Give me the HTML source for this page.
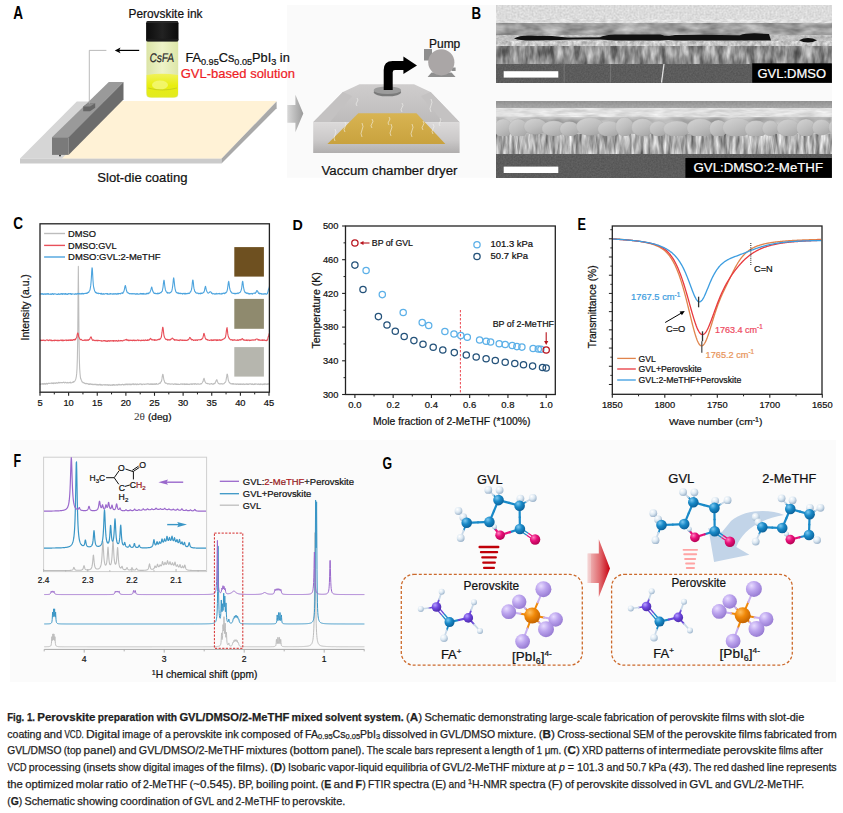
<!DOCTYPE html>
<html><head><meta charset="utf-8"><style>
html,body{margin:0;padding:0;background:#fff;}
svg{display:block;font-family:"Liberation Sans",sans-serif;}
</style></head><body>
<svg width="843" height="813" viewBox="0 0 843 813">

<defs>
 <linearGradient id="gArrowGray" x1="0" x2="1" y1="0" y2="0">
  <stop offset="0" stop-color="#d8d8d8"/><stop offset="1" stop-color="#9a9a9a"/></linearGradient>
 <linearGradient id="gRedArrow" x1="0" x2="1" y1="0" y2="0">
  <stop offset="0" stop-color="#f2c4c4"/><stop offset="0.55" stop-color="#e06a6e"/><stop offset="1" stop-color="#c80010"/></linearGradient>
 <linearGradient id="gChamberSide" x1="0" x2="0" y1="0" y2="1">
  <stop offset="0" stop-color="#d2d0d0"/><stop offset="1" stop-color="#b4b2b2"/></linearGradient>
 <linearGradient id="gChamberTop" x1="0" x2="0" y1="0" y2="1">
  <stop offset="0" stop-color="#cfcdcd"/><stop offset="1" stop-color="#bdbbbb"/></linearGradient>
 <linearGradient id="gChamberFront" x1="0" x2="0" y1="0" y2="1">
  <stop offset="0" stop-color="#dcdada"/><stop offset="0.6" stop-color="#cac8c8"/><stop offset="1" stop-color="#b0aeae"/></linearGradient>
 <linearGradient id="gGold" x1="0" x2="0" y1="0" y2="1">
  <stop offset="0" stop-color="#d8b452"/><stop offset="1" stop-color="#c9a23e"/></linearGradient>
 <linearGradient id="gVialTop" x1="0" x2="1" y1="0" y2="0">
  <stop offset="0" stop-color="#dbe4a6"/><stop offset="0.5" stop-color="#eef3c8"/><stop offset="1" stop-color="#dde6a8"/></linearGradient>
 <linearGradient id="gLiquid" x1="0" x2="0" y1="0" y2="1">
  <stop offset="0" stop-color="#f0f25a"/><stop offset="0.5" stop-color="#e8ee10"/><stop offset="1" stop-color="#e2ea20"/></linearGradient>
 <linearGradient id="gCap" x1="0" x2="1" y1="0" y2="0">
  <stop offset="0" stop-color="#0c0c0c"/><stop offset="0.5" stop-color="#222"/><stop offset="1" stop-color="#0a0a0a"/></linearGradient>
 <radialGradient id="gC" cx="0.35" cy="0.3" r="0.75"><stop offset="0" stop-color="#7cc8f0"/><stop offset="0.45" stop-color="#1a8ac8"/><stop offset="1" stop-color="#0a5e96"/></radialGradient>
 <radialGradient id="gO" cx="0.35" cy="0.3" r="0.75"><stop offset="0" stop-color="#ff80c0"/><stop offset="0.45" stop-color="#e8107a"/><stop offset="1" stop-color="#b00050"/></radialGradient>
 <radialGradient id="gH" cx="0.35" cy="0.3" r="0.75"><stop offset="0" stop-color="#ffffff"/><stop offset="0.5" stop-color="#dce8f2"/><stop offset="1" stop-color="#98b0c8"/></radialGradient>
 <radialGradient id="gN" cx="0.35" cy="0.3" r="0.75"><stop offset="0" stop-color="#b8a0ff"/><stop offset="0.45" stop-color="#7048e0"/><stop offset="1" stop-color="#4a28a8"/></radialGradient>
 <radialGradient id="gPb" cx="0.35" cy="0.3" r="0.75"><stop offset="0" stop-color="#ffc060"/><stop offset="0.45" stop-color="#f08808"/><stop offset="1" stop-color="#c06000"/></radialGradient>
 <radialGradient id="gI" cx="0.35" cy="0.3" r="0.75"><stop offset="0" stop-color="#e8dcff"/><stop offset="0.45" stop-color="#bca4ee"/><stop offset="1" stop-color="#9478d0"/></radialGradient>
 <filter id="fNoise" x="0" y="0" width="1" height="1">
  <feTurbulence type="fractalNoise" baseFrequency="0.35 0.12" numOctaves="2" seed="3" result="n"/>
  <feColorMatrix in="n" type="matrix" values="0 0 0 0 0.5  0 0 0 0 0.5  0 0 0 0 0.5  0 0 0 0.9 -0.2" result="m"/>
  <feComposite in="m" in2="SourceGraphic" operator="in"/>
 </filter>
 <filter id="fNoiseV" x="0" y="0" width="1" height="1">
  <feTurbulence type="fractalNoise" baseFrequency="0.45 0.08" numOctaves="2" seed="9" result="n"/>
  <feColorMatrix in="n" type="matrix" values="0 0 0 0 0  0 0 0 0 0  0 0 0 0 0  0 0 0 -1.6 1.0" result="m"/>
  <feComposite in="m" in2="SourceGraphic" operator="in"/>
 </filter>
</defs>

<rect width="843" height="813" fill="#fff"/>
<rect x="287.00" y="5.00" width="545.00" height="172.80" fill="#fafafa" /><text x="13.30" y="19.00" font-size="17.74" fill="#000" font-weight="bold" textLength="9.80" lengthAdjust="spacingAndGlyphs" >A</text><polygon points="20.00,158.50 221.50,158.50 276.60,101.50 76.80,101.50" fill="#d6d6d6" /><polygon points="20.00,158.50 221.50,158.50 221.50,163.40 20.00,163.40" fill="#cbcbcb" /><polygon points="221.50,158.50 276.60,101.50 276.60,108.30 221.50,163.40" fill="#a9a9a9" /><polygon points="62.00,158.50 221.50,158.50 276.60,101.10 120.00,101.10" fill="#fff2d6" /><polygon points="52.00,137.30 108.80,81.90 123.50,81.90 68.50,137.30" fill="#9a9a9a" /><polygon points="68.50,137.30 123.50,81.90 123.50,99.50 68.50,154.90" fill="#6c6c6c" /><rect x="52.00" y="137.30" width="16.50" height="17.60" fill="#7a7a7a" /><polygon points="83.20,106.50 88.50,103.20 95.20,103.20 95.20,107.80 90.00,111.20 83.20,111.20" fill="#666" /><polygon points="83.20,106.50 88.50,103.20 95.20,103.20 90.00,106.50" fill="#8a8a8a" /><circle cx="60.00" cy="155.60" r="0.90" fill="#222" /><polyline points="89.30,104.00 89.30,50.40 106.40,50.40" fill="none" stroke="#a8a8a8" stroke-width="0.8" stroke-linejoin="round" /><line x1="139.20" y1="50.40" x2="119.00" y2="50.40" stroke="#000" stroke-width="1.2" /><polygon points="114.80,50.40 120.50,47.60 119.20,50.40 120.50,53.20" fill="#000" /><rect x="146.4" y="40" width="31.8" height="57.5" rx="3" fill="url(#gVialTop)"/><path d="M146.6,75 Q162,72.5 178,75 L178,93 Q178,97.6 173,97.6 L151.6,97.6 Q146.6,97.6 146.6,93 Z" fill="url(#gLiquid)"/><ellipse cx="160" cy="85" rx="8" ry="4.5" fill="#f4f77a" opacity="0.8"/><path d="M148,88 Q162,92 177,88" stroke="#b8c020" stroke-width="0.6" fill="none"/><rect x="146.1" y="21.1" width="32.4" height="20.5" rx="2.2" fill="url(#gCap)"/><rect x="146.6" y="21.3" width="31.4" height="1.6" rx="0.8" fill="#2a2a2a"/><rect x="146.4" y="38.8" width="31.8" height="2.4" fill="#1c1c1c"/><text x="149.20" y="62.40" font-size="12.5" fill="#2a2a2a" stroke="#2a2a2a" stroke-width="0.22" textLength="24.50" lengthAdjust="spacingAndGlyphs" transform="skewX(-6) translate(6.5,0)">CsFA</text><text x="128.50" y="17.80" font-size="11.89" fill="#111" stroke="#111" stroke-width="0.22" textLength="74.00" lengthAdjust="spacingAndGlyphs" >Perovskite ink</text><text x="185.4" y="62.2" font-size="12.6" fill="#111" textLength="104.4" lengthAdjust="spacingAndGlyphs" stroke="#111" stroke-width="0.22">FA<tspan font-size="9" dy="2.6">0.95</tspan><tspan dy="-2.6">Cs</tspan><tspan font-size="9" dy="2.6">0.05</tspan><tspan dy="-2.6">PbI</tspan><tspan font-size="9" dy="2.6">3</tspan><tspan dy="-2.6"> in</tspan></text><text x="180.70" y="77.80" font-size="13.0" fill="#ee1c25" stroke="#ee1c25" stroke-width="0.22" textLength="114.30" lengthAdjust="spacingAndGlyphs" >GVL-based solution</text><text x="97.30" y="181.50" font-size="13.0" fill="#111" stroke="#111" stroke-width="0.22" textLength="90.20" lengthAdjust="spacingAndGlyphs" >Slot-die coating</text><polygon points="287.30,105.00 295.40,105.00 295.40,94.70 303.30,113.50 295.40,132.20 295.40,122.70 287.30,122.70" fill="url(#gArrowGray)" /><polygon points="313.20,122.20 342.90,91.90 359.50,84.30 414.00,84.30 430.60,91.90 459.60,122.20" fill="url(#gChamberTop)" /><polygon points="313.20,122.20 342.90,91.90 352.00,96.00 330.00,122.20" fill="#c4c2c2" /><polygon points="459.60,122.20 430.60,91.90 421.00,96.00 443.00,122.20" fill="#c4c2c2" /><rect x="313.20" y="122.20" width="146.40" height="30.80" fill="url(#gChamberFront)" /><polygon points="358.30,113.20 416.40,113.20 445.40,144.00 327.40,144.00" fill="url(#gGold)" /><path d="M335,141 q-2,-3.0 0,-6.0 q2,-3.0 0,-6.0" stroke="#f6f6f2" stroke-width="0.6" fill="none" opacity="0.95"/><path d="M345,132 q-2,-2.5 0,-5.0 q2,-2.5 0,-5.0" stroke="#f6f6f2" stroke-width="0.6" fill="none" opacity="0.95"/><path d="M362,137 q-2,-3.5 0,-7.0 q2,-3.5 0,-7.0" stroke="#f6f6f2" stroke-width="0.6" fill="none" opacity="0.95"/><path d="M372,128 q-2,-2.2 0,-4.5 q2,-2.2 0,-4.5" stroke="#f6f6f2" stroke-width="0.6" fill="none" opacity="0.95"/><path d="M389,125 q-2,-2.0 0,-4.0 q2,-2.0 0,-4.0" stroke="#f6f6f2" stroke-width="0.6" fill="none" opacity="0.95"/><path d="M391,136 q-2,-3.0 0,-6.0 q2,-3.0 0,-6.0" stroke="#f6f6f2" stroke-width="0.6" fill="none" opacity="0.95"/><path d="M402,112 q-2,-2.2 0,-4.5 q2,-2.2 0,-4.5" stroke="#f6f6f2" stroke-width="0.6" fill="none" opacity="0.95"/><path d="M412,137 q-2,-3.2 0,-6.5 q2,-3.2 0,-6.5" stroke="#f6f6f2" stroke-width="0.6" fill="none" opacity="0.95"/><path d="M423,130 q-2,-2.2 0,-4.5 q2,-2.2 0,-4.5" stroke="#f6f6f2" stroke-width="0.6" fill="none" opacity="0.95"/><path d="M431,112 q-2,-3.2 0,-6.5 q2,-3.2 0,-6.5" stroke="#f6f6f2" stroke-width="0.6" fill="none" opacity="0.95"/><path d="M433,134 q-2,-2.5 0,-5.0 q2,-2.5 0,-5.0" stroke="#f6f6f2" stroke-width="0.6" fill="none" opacity="0.95"/><path d="M440,126 q-2,-2.0 0,-4.0 q2,-2.0 0,-4.0" stroke="#f6f6f2" stroke-width="0.6" fill="none" opacity="0.95"/><path d="M357,106 q-2,-2.0 0,-4.0 q2,-2.0 0,-4.0" stroke="#f6f6f2" stroke-width="0.6" fill="none" opacity="0.95"/><ellipse cx="387.4" cy="92.3" rx="13.7" ry="4" fill="#7a7a7a"/><ellipse cx="387.4" cy="90.3" rx="13.7" ry="3.8" fill="#9c9c9c"/><path d="M383.7,90 L383.7,70 Q383.7,61 392.7,61 L403.4,61 L403.4,56.5 L417,65.5 L403.4,74 L403.4,70 L395,70 Q392.7,70 392.7,72.3 L392.7,90 Z" fill="#000"/><rect x="424.00" y="49.00" width="8.00" height="11.50" fill="#8e8e8e" /><polygon points="427.60,77.00 431.50,72.50 451.50,72.50 455.60,77.00" fill="#8e8e8e" /><rect x="451.50" y="67.50" width="4.10" height="3.50" fill="#8e8e8e" /><circle cx="441.30" cy="62.30" r="13.10" fill="#aaa6a6" /><text x="429.00" y="47.50" font-size="11.98" fill="#111" stroke="#111" stroke-width="0.22" textLength="31.30" lengthAdjust="spacingAndGlyphs" >Pump</text><text x="321.50" y="175.40" font-size="13.25" fill="#111" stroke="#111" stroke-width="0.22" textLength="136.00" lengthAdjust="spacingAndGlyphs" >Vaccum chamber dryer</text><text x="471.40" y="18.70" font-size="17.04" fill="#000" font-weight="bold" textLength="9.60" lengthAdjust="spacingAndGlyphs" >B</text><filter id="fl56" x="496" y="5.9" width="335.79999999999995" height="13.6" filterUnits="userSpaceOnUse" color-interpolation-filters="sRGB">
  <feTurbulence type="fractalNoise" baseFrequency="0.5 0.5" numOctaves="3" seed="4" result="n"/>
  <feColorMatrix in="n" type="matrix" values="0.180 0 0 0 0.770  0.180 0 0 0 0.770  0.180 0 0 0 0.770  0 0 0 0 1" result="g"/>
  <feGaussianBlur in="g" stdDeviation="0.4"/>
</filter><rect x="496" y="5.9" width="335.79999999999995" height="13.6" fill="#000" filter="url(#fl56)"/><filter id="fl58" x="496" y="19.5" width="335.79999999999995" height="3.5" filterUnits="userSpaceOnUse" color-interpolation-filters="sRGB">
  <feTurbulence type="fractalNoise" baseFrequency="0.15 0.4" numOctaves="3" seed="5" result="n"/>
  <feColorMatrix in="n" type="matrix" values="0.250 0 0 0 0.745  0.250 0 0 0 0.745  0.250 0 0 0 0.745  0 0 0 0 1" result="g"/>
  <feGaussianBlur in="g" stdDeviation="0.5"/>
</filter><rect x="496" y="19.5" width="335.79999999999995" height="3.5" fill="#000" filter="url(#fl58)"/><filter id="fl60" x="496" y="23" width="335.79999999999995" height="12" filterUnits="userSpaceOnUse" color-interpolation-filters="sRGB">
  <feTurbulence type="fractalNoise" baseFrequency="0.05 0.12" numOctaves="3" seed="6" result="n"/>
  <feColorMatrix in="n" type="matrix" values="0.550 0 0 0 0.345  0.550 0 0 0 0.345  0.550 0 0 0 0.345  0 0 0 0 1" result="g"/>
  <feGaussianBlur in="g" stdDeviation="0.7"/>
</filter><rect x="496" y="23" width="335.79999999999995" height="12" fill="#000" filter="url(#fl60)"/><filter id="fl62" x="496" y="35" width="335.79999999999995" height="6" filterUnits="userSpaceOnUse" color-interpolation-filters="sRGB">
  <feTurbulence type="fractalNoise" baseFrequency="0.2 0.3" numOctaves="3" seed="7" result="n"/>
  <feColorMatrix in="n" type="matrix" values="0.300 0 0 0 0.600  0.300 0 0 0 0.600  0.300 0 0 0 0.600  0 0 0 0 1" result="g"/>
  <feGaussianBlur in="g" stdDeviation="0.5"/>
</filter><rect x="496" y="35" width="335.79999999999995" height="6" fill="#000" filter="url(#fl62)"/><filter id="fl64" x="496" y="41" width="335.79999999999995" height="5" filterUnits="userSpaceOnUse" color-interpolation-filters="sRGB">
  <feTurbulence type="fractalNoise" baseFrequency="0.25 0.2" numOctaves="3" seed="17" result="n"/>
  <feColorMatrix in="n" type="matrix" values="0.450 0 0 0 0.555  0.450 0 0 0 0.555  0.450 0 0 0 0.555  0 0 0 0 1" result="g"/>
  <feGaussianBlur in="g" stdDeviation="0.5"/>
</filter><rect x="496" y="41" width="335.79999999999995" height="5" fill="#000" filter="url(#fl64)"/><filter id="fl66" x="496" y="46" width="335.79999999999995" height="18" filterUnits="userSpaceOnUse" color-interpolation-filters="sRGB">
  <feTurbulence type="fractalNoise" baseFrequency="0.16 0.05" numOctaves="3" seed="8" result="n"/>
  <feColorMatrix in="n" type="matrix" values="0.800 0 0 0 0.150  0.800 0 0 0 0.150  0.800 0 0 0 0.150  0 0 0 0 1" result="g"/>
  <feGaussianBlur in="g" stdDeviation="0.5"/>
</filter><rect x="496" y="46" width="335.79999999999995" height="18" fill="#000" filter="url(#fl66)"/><filter id="fl68" x="496" y="64" width="335.79999999999995" height="18.700000000000003" filterUnits="userSpaceOnUse" color-interpolation-filters="sRGB">
  <feTurbulence type="fractalNoise" baseFrequency="0.6 0.6" numOctaves="3" seed="9" result="n"/>
  <feColorMatrix in="n" type="matrix" values="0.100 0 0 0 0.310  0.100 0 0 0 0.310  0.100 0 0 0 0.310  0 0 0 0 1" result="g"/>
  <feGaussianBlur in="g" stdDeviation="0.5"/>
</filter><rect x="496" y="64" width="335.79999999999995" height="18.700000000000003" fill="#000" filter="url(#fl68)"/><path d="M514,38.5 Q520,35.2 530,35.6 L552,36 Q560,37.4 575,37.6 L600,37.2 Q606,35 615,34.6 L660,34.4 Q668,36.5 675,35 L700,34.8 L740,35.2 Q745,33.2 755,33.3 L769,34 L771,40.5 L740,40.6 L700,40.5 L676,40.4 Q668,39.6 660,40.5 L615,40.6 L600,39.6 L575,39.4 L552,40.2 L530,40.6 Q520,40.6 514,38.5 Z" fill="#111"/><path d="M799,40.2 Q803,38 808.0,38 Q813,38 817,40.2 Q813,42.5 808.0,42.5 Q803,42.5 799,40.2 Z" fill="#101010"/><line x1="564.20" y1="64.00" x2="564.20" y2="82.70" stroke="#7a7a7a" stroke-width="0.8" /><line x1="610.70" y1="64.00" x2="610.40" y2="82.70" stroke="#7a7a7a" stroke-width="0.8" /><line x1="664.00" y1="64.00" x2="661.50" y2="82.70" stroke="#e0e0e0" stroke-width="1.3" /><rect x="503.70" y="71.20" width="54.60" height="6.40" fill="#ffffff" /><rect x="752.20" y="63.30" width="79.60" height="19.40" fill="#000" /><text x="757.50" y="77.70" font-size="12.98" fill="#fff" stroke="#fff" stroke-width="0.22" textLength="68.50" lengthAdjust="spacingAndGlyphs" >GVL:DMSO</text><filter id="fl78" x="496" y="101" width="335.79999999999995" height="7.5" filterUnits="userSpaceOnUse" color-interpolation-filters="sRGB">
  <feTurbulence type="fractalNoise" baseFrequency="0.5 0.5" numOctaves="3" seed="11" result="n"/>
  <feColorMatrix in="n" type="matrix" values="0.150 0 0 0 0.525  0.150 0 0 0 0.525  0.150 0 0 0 0.525  0 0 0 0 1" result="g"/>
  <feGaussianBlur in="g" stdDeviation="0.4"/>
</filter><rect x="496" y="101" width="335.79999999999995" height="7.5" fill="#000" filter="url(#fl78)"/><linearGradient id="gsb1" x1="0" x2="0" y1="0" y2="1"><stop offset="0" stop-color="#888" stop-opacity="0.5"/><stop offset="1" stop-color="#bbb" stop-opacity="0.5"/></linearGradient><rect x="496.00" y="101.00" width="335.80" height="7.50" fill="url(#gsb1)" /><filter id="fl82" x="496" y="108.5" width="335.79999999999995" height="9.0" filterUnits="userSpaceOnUse" color-interpolation-filters="sRGB">
  <feTurbulence type="fractalNoise" baseFrequency="0.06 0.3" numOctaves="3" seed="12" result="n"/>
  <feColorMatrix in="n" type="matrix" values="0.250 0 0 0 0.745  0.250 0 0 0 0.745  0.250 0 0 0 0.745  0 0 0 0 1" result="g"/>
  <feGaussianBlur in="g" stdDeviation="0.6"/>
</filter><rect x="496" y="108.5" width="335.79999999999995" height="9.0" fill="#000" filter="url(#fl82)"/><filter id="fl84" x="496" y="117.5" width="335.79999999999995" height="17.0" filterUnits="userSpaceOnUse" color-interpolation-filters="sRGB">
  <feTurbulence type="fractalNoise" baseFrequency="0.04 0.1" numOctaves="3" seed="13" result="n"/>
  <feColorMatrix in="n" type="matrix" values="0.450 0 0 0 0.475  0.450 0 0 0 0.475  0.450 0 0 0 0.475  0 0 0 0 1" result="g"/>
  <feGaussianBlur in="g" stdDeviation="0.8"/>
</filter><rect x="496" y="117.5" width="335.79999999999995" height="17.0" fill="#000" filter="url(#fl84)"/><filter id="fl86" x="496" y="134.5" width="335.79999999999995" height="20.0" filterUnits="userSpaceOnUse" color-interpolation-filters="sRGB">
  <feTurbulence type="fractalNoise" baseFrequency="0.25 0.04" numOctaves="3" seed="14" result="n"/>
  <feColorMatrix in="n" type="matrix" values="0.900 0 0 0 0.230  0.900 0 0 0 0.230  0.900 0 0 0 0.230  0 0 0 0 1" result="g"/>
  <feGaussianBlur in="g" stdDeviation="0.45"/>
</filter><rect x="496" y="134.5" width="335.79999999999995" height="20.0" fill="#000" filter="url(#fl86)"/><filter id="fl88" x="496" y="154.5" width="335.79999999999995" height="23.30000000000001" filterUnits="userSpaceOnUse" color-interpolation-filters="sRGB">
  <feTurbulence type="fractalNoise" baseFrequency="0.6 0.6" numOctaves="3" seed="15" result="n"/>
  <feColorMatrix in="n" type="matrix" values="0.100 0 0 0 0.310  0.100 0 0 0 0.310  0.100 0 0 0 0.310  0 0 0 0 1" result="g"/>
  <feGaussianBlur in="g" stdDeviation="0.5"/>
</filter><rect x="496" y="154.5" width="335.79999999999995" height="23.30000000000001" fill="#000" filter="url(#fl88)"/><linearGradient id="gGrain" x1="0.2" x2="0.8" y1="0" y2="1"><stop offset="0" stop-color="#d2d2d2"/><stop offset="0.55" stop-color="#bdbdbd"/><stop offset="1" stop-color="#a4a4a4"/></linearGradient><clipPath id="cpG"><rect x="496" y="112" width="335.8" height="24"/></clipPath><g clip-path="url(#cpG)"><ellipse cx="503.2" cy="128.1" rx="9.2" ry="9.2" fill="url(#gGrain)" stroke="#909090" stroke-width="0.4" stroke-opacity="0.35"/><ellipse cx="518.1" cy="128.5" rx="9.5" ry="9.5" fill="url(#gGrain)" stroke="#909090" stroke-width="0.4" stroke-opacity="0.35"/><ellipse cx="535.4" cy="126.5" rx="11.5" ry="8.1" fill="url(#gGrain)" stroke="#909090" stroke-width="0.4" stroke-opacity="0.35"/><ellipse cx="553.8" cy="128.5" rx="12.1" ry="7.7" fill="url(#gGrain)" stroke="#909090" stroke-width="0.4" stroke-opacity="0.35"/><ellipse cx="569.4" cy="129.0" rx="9.6" ry="7.6" fill="url(#gGrain)" stroke="#909090" stroke-width="0.4" stroke-opacity="0.35"/><ellipse cx="590.2" cy="126.6" rx="14.1" ry="9.0" fill="url(#gGrain)" stroke="#909090" stroke-width="0.4" stroke-opacity="0.35"/><ellipse cx="609.2" cy="128.9" rx="11.5" ry="7.8" fill="url(#gGrain)" stroke="#909090" stroke-width="0.4" stroke-opacity="0.35"/><ellipse cx="624.6" cy="126.8" rx="9.1" ry="9.5" fill="url(#gGrain)" stroke="#909090" stroke-width="0.4" stroke-opacity="0.35"/><ellipse cx="642.7" cy="127.4" rx="11.2" ry="8.9" fill="url(#gGrain)" stroke="#909090" stroke-width="0.4" stroke-opacity="0.35"/><ellipse cx="658.7" cy="128.7" rx="9.3" ry="7.6" fill="url(#gGrain)" stroke="#909090" stroke-width="0.4" stroke-opacity="0.35"/><ellipse cx="676.8" cy="128.9" rx="13.5" ry="8.0" fill="url(#gGrain)" stroke="#909090" stroke-width="0.4" stroke-opacity="0.35"/><ellipse cx="700.2" cy="128.0" rx="13.3" ry="9.4" fill="url(#gGrain)" stroke="#909090" stroke-width="0.4" stroke-opacity="0.35"/><ellipse cx="718.3" cy="128.6" rx="8.9" ry="8.7" fill="url(#gGrain)" stroke="#909090" stroke-width="0.4" stroke-opacity="0.35"/><ellipse cx="737.0" cy="127.5" rx="14.5" ry="9.7" fill="url(#gGrain)" stroke="#909090" stroke-width="0.4" stroke-opacity="0.35"/><ellipse cx="756.1" cy="129.0" rx="11.2" ry="8.5" fill="url(#gGrain)" stroke="#909090" stroke-width="0.4" stroke-opacity="0.35"/><ellipse cx="770.4" cy="128.3" rx="8.2" ry="7.7" fill="url(#gGrain)" stroke="#909090" stroke-width="0.4" stroke-opacity="0.35"/><ellipse cx="788.4" cy="127.9" rx="11.5" ry="8.7" fill="url(#gGrain)" stroke="#909090" stroke-width="0.4" stroke-opacity="0.35"/><ellipse cx="806.0" cy="127.9" rx="9.6" ry="9.0" fill="url(#gGrain)" stroke="#909090" stroke-width="0.4" stroke-opacity="0.35"/><ellipse cx="821.5" cy="127.4" rx="9.3" ry="7.9" fill="url(#gGrain)" stroke="#909090" stroke-width="0.4" stroke-opacity="0.35"/><ellipse cx="839.0" cy="127.3" rx="10.4" ry="9.0" fill="url(#gGrain)" stroke="#909090" stroke-width="0.4" stroke-opacity="0.35"/></g><filter id="fl113" x="496" y="108.5" width="335.79999999999995" height="6.0" filterUnits="userSpaceOnUse" color-interpolation-filters="sRGB">
  <feTurbulence type="fractalNoise" baseFrequency="0.06 0.3" numOctaves="3" seed="12" result="n"/>
  <feColorMatrix in="n" type="matrix" values="0.220 0 0 0 0.770  0.220 0 0 0 0.770  0.220 0 0 0 0.770  0 0 0 0 1" result="g"/>
  <feGaussianBlur in="g" stdDeviation="0.6"/>
</filter><rect x="496" y="108.5" width="335.79999999999995" height="6.0" fill="#000" filter="url(#fl113)"/><rect x="503.70" y="166.60" width="54.60" height="6.40" fill="#ffffff" /><rect x="685.40" y="158.00" width="146.40" height="19.80" fill="#000" /><text x="693.50" y="171.60" font-size="13.24" fill="#fff" stroke="#fff" stroke-width="0.22" textLength="129.50" lengthAdjust="spacingAndGlyphs" >GVL:DMSO:2-MeTHF</text><text x="13.30" y="229.40" font-size="16.20" fill="#000" font-weight="bold" textLength="9.80" lengthAdjust="spacingAndGlyphs" >C</text><polyline points="40.00,383.73 40.33,384.37 40.67,384.28 41.00,383.81 41.33,384.02 41.67,383.96 42.00,384.13 42.33,384.24 42.67,383.61 43.00,383.53 43.33,384.24 43.67,383.87 44.00,384.15 44.33,383.44 44.67,383.83 45.00,384.06 45.33,383.59 45.67,384.22 46.00,384.16 46.34,383.35 46.67,383.33 47.00,383.77 47.34,384.10 47.67,383.58 48.00,383.40 48.34,383.56 48.67,383.18 49.00,383.33 49.34,383.49 49.67,383.52 50.00,383.25 50.34,383.22 50.67,383.18 51.00,383.37 51.34,383.19 51.67,382.91 52.00,383.62 52.34,383.33 52.67,383.38 53.00,382.94 53.34,383.63 53.67,383.48 54.00,382.79 54.34,382.95 54.67,383.26 55.00,383.23 55.34,383.40 55.67,382.91 56.00,383.24 56.34,383.07 56.67,382.71 57.00,382.94 57.34,383.18 57.67,383.12 58.01,382.79 58.34,382.85 58.67,382.32 59.01,382.49 59.34,382.97 59.67,382.61 60.01,382.37 60.34,382.69 60.67,382.82 61.01,382.78 61.34,382.50 61.67,382.54 62.01,382.60 62.34,382.83 62.67,382.59 63.01,382.47 63.34,382.55 63.67,382.14 64.01,382.15 64.34,382.74 64.67,382.99 65.01,382.64 65.34,382.46 65.67,382.26 66.01,382.57 66.34,383.00 66.67,382.82 67.01,382.61 67.34,382.91 67.67,382.35 68.01,382.60 68.34,383.00 68.67,382.67 69.01,382.56 69.34,382.39 69.68,382.63 70.01,383.00 70.34,382.13 70.68,382.82 71.01,382.83 71.34,382.86 71.68,382.70 72.01,382.72 72.34,382.40 72.68,382.36 73.01,382.15 73.34,381.70 73.68,382.29 74.01,381.83 74.34,381.25 74.68,381.20 75.01,380.75 75.34,380.05 75.68,379.22 76.01,378.20 76.34,376.49 76.68,373.63 77.01,368.62 77.34,359.12 77.68,340.60 78.01,302.53 78.34,266.42 78.68,299.38 79.01,339.07 79.34,358.95 79.68,368.63 80.01,373.28 80.35,376.82 80.68,378.57 81.01,379.31 81.35,380.15 81.68,380.80 82.01,381.96 82.35,381.88 82.68,382.06 83.01,382.77 83.35,382.71 83.68,382.63 84.01,382.86 84.35,383.31 84.68,383.09 85.01,383.27 85.35,383.75 85.68,383.59 86.01,383.54 86.35,383.73 86.68,383.38 87.01,383.76 87.35,383.83 87.68,383.66 88.01,383.63 88.35,384.38 88.68,384.06 89.01,383.82 89.35,384.21 89.68,384.43 90.01,383.74 90.35,383.76 90.68,383.91 91.01,384.45 91.35,383.97 91.68,384.48 92.02,384.48 92.35,384.38 92.68,384.11 93.02,384.81 93.35,384.67 93.68,384.44 94.02,384.19 94.35,384.59 94.68,384.39 95.02,384.57 95.35,384.36 95.68,384.65 96.02,384.16 96.35,384.39 96.68,385.01 97.02,384.94 97.35,384.45 97.68,384.96 98.02,384.49 98.35,385.07 98.68,384.91 99.02,384.63 99.35,384.50 99.68,384.29 100.02,385.09 100.35,384.35 100.68,385.06 101.02,385.21 101.35,384.87 101.68,384.52 102.02,385.16 102.35,385.27 102.68,385.03 103.02,384.87 103.35,384.76 103.69,384.74 104.02,384.63 104.35,385.06 104.69,384.85 105.02,384.64 105.35,384.57 105.69,385.08 106.02,384.75 106.35,384.94 106.69,384.79 107.02,385.28 107.35,385.31 107.69,384.52 108.02,384.69 108.35,384.81 108.69,385.40 109.02,385.22 109.35,384.82 109.69,384.70 110.02,385.12 110.35,385.26 110.69,385.34 111.02,384.81 111.35,385.29 111.69,385.11 112.02,384.92 112.35,385.37 112.69,384.69 113.02,385.12 113.35,384.54 113.69,384.61 114.02,385.27 114.35,384.63 114.69,385.11 115.02,384.96 115.36,385.17 115.69,384.73 116.02,384.70 116.36,384.64 116.69,385.15 117.02,384.90 117.36,385.20 117.69,385.13 118.02,384.44 118.36,384.80 118.69,384.39 119.02,384.32 119.36,384.34 119.69,385.04 120.02,384.95 120.36,384.98 120.69,384.52 121.02,384.76 121.36,384.89 121.69,384.52 122.02,384.68 122.36,384.35 122.69,384.21 123.02,384.37 123.36,384.91 123.69,384.61 124.02,384.92 124.36,384.49 124.69,384.31 125.02,384.76 125.36,384.78 125.69,384.04 126.02,384.62 126.36,384.09 126.69,384.10 127.03,384.78 127.36,384.01 127.69,384.18 128.03,384.84 128.36,384.32 128.69,384.04 129.03,384.08 129.36,384.13 129.69,384.58 130.03,383.99 130.36,384.71 130.69,384.22 131.03,384.75 131.36,384.69 131.69,384.13 132.03,384.08 132.36,384.28 132.69,383.93 133.03,384.42 133.36,383.86 133.69,383.83 134.03,384.70 134.36,384.08 134.69,384.34 135.03,384.21 135.36,384.08 135.69,383.85 136.03,384.61 136.36,384.66 136.69,384.65 137.03,383.88 137.36,383.97 137.70,384.33 138.03,384.65 138.36,384.25 138.70,384.38 139.03,384.35 139.36,383.99 139.70,384.24 140.03,384.03 140.36,383.97 140.70,383.82 141.03,384.00 141.36,384.63 141.70,384.14 142.03,384.32 142.36,384.31 142.70,384.58 143.03,384.08 143.36,384.01 143.70,384.02 144.03,384.01 144.36,384.49 144.70,384.53 145.03,383.99 145.36,384.02 145.70,384.21 146.03,384.24 146.36,384.25 146.70,383.93 147.03,383.73 147.36,383.93 147.70,383.77 148.03,384.20 148.36,383.77 148.70,383.77 149.03,384.27 149.37,383.96 149.70,384.41 150.03,384.13 150.37,384.46 150.70,383.82 151.03,384.13 151.37,384.39 151.70,383.74 152.03,384.52 152.37,383.82 152.70,384.36 153.03,384.54 153.37,384.38 153.70,383.93 154.03,383.73 154.37,384.08 154.70,384.44 155.03,383.86 155.37,384.39 155.70,383.70 156.03,384.37 156.37,383.56 156.70,383.80 157.03,384.30 157.37,384.18 157.70,384.23 158.03,384.13 158.37,383.99 158.70,383.87 159.03,383.33 159.37,383.44 159.70,383.05 160.03,383.37 160.37,383.06 160.70,382.32 161.04,381.61 161.37,381.62 161.70,380.25 162.04,378.17 162.37,375.80 162.70,374.32 163.04,374.48 163.37,376.66 163.70,378.81 164.04,380.32 164.37,381.14 164.70,382.38 165.04,382.63 165.37,383.09 165.70,382.86 166.04,383.29 166.37,383.23 166.70,383.31 167.04,383.51 167.37,384.09 167.70,383.75 168.04,383.79 168.37,384.02 168.70,383.71 169.04,383.53 169.37,384.02 169.70,384.01 170.04,384.16 170.37,383.98 170.70,384.22 171.04,384.27 171.37,383.84 171.70,384.07 172.04,384.07 172.37,383.85 172.71,384.02 173.04,384.16 173.37,384.48 173.71,384.49 174.04,383.92 174.37,384.25 174.71,383.72 175.04,383.74 175.37,384.14 175.71,384.47 176.04,383.83 176.37,384.38 176.71,384.48 177.04,383.97 177.37,384.32 177.71,384.46 178.04,384.03 178.37,384.33 178.71,384.36 179.04,384.24 179.37,384.47 179.71,384.51 180.04,384.57 180.37,384.22 180.71,383.86 181.04,383.93 181.37,383.90 181.71,384.22 182.04,384.39 182.37,383.75 182.71,384.32 183.04,384.35 183.37,384.02 183.71,384.17 184.04,383.86 184.38,384.36 184.71,383.74 185.04,384.59 185.38,384.43 185.71,384.27 186.04,383.95 186.38,384.53 186.71,384.57 187.04,383.83 187.38,384.40 187.71,384.46 188.04,384.30 188.38,384.33 188.71,384.10 189.04,384.53 189.38,384.58 189.71,384.04 190.04,384.42 190.38,384.09 190.71,383.84 191.04,383.99 191.38,383.81 191.71,384.51 192.04,384.55 192.38,383.79 192.71,384.23 193.04,384.05 193.38,383.79 193.71,383.94 194.04,383.90 194.38,384.34 194.71,383.67 195.05,383.83 195.38,384.05 195.71,383.67 196.05,384.21 196.38,384.18 196.71,384.38 197.05,383.81 197.38,383.87 197.71,384.08 198.05,383.83 198.38,384.09 198.71,383.77 199.05,384.14 199.38,384.21 199.71,384.19 200.05,384.29 200.38,383.85 200.71,383.73 201.05,383.96 201.38,383.76 201.71,383.41 202.05,382.99 202.38,382.54 202.71,381.83 203.05,381.62 203.38,379.78 203.71,378.98 204.05,378.20 204.38,379.37 204.71,380.57 205.05,381.92 205.38,381.95 205.71,382.79 206.05,383.19 206.38,383.18 206.72,383.52 207.05,383.50 207.38,383.74 207.72,383.33 208.05,383.77 208.38,383.82 208.72,383.72 209.05,383.82 209.38,384.18 209.72,384.11 210.05,383.94 210.38,384.08 210.72,383.84 211.05,383.68 211.38,383.49 211.72,383.73 212.05,384.00 212.38,384.24 212.72,384.16 213.05,383.83 213.38,384.21 213.72,383.67 214.05,383.91 214.38,383.39 214.72,383.50 215.05,383.44 215.38,382.39 215.72,381.61 216.05,381.09 216.38,380.08 216.72,379.71 217.05,380.13 217.38,381.46 217.72,382.25 218.05,382.74 218.39,383.48 218.72,383.44 219.05,383.72 219.39,383.97 219.72,383.90 220.05,383.72 220.39,383.98 220.72,383.90 221.05,383.91 221.39,383.89 221.72,383.68 222.05,383.86 222.39,383.84 222.72,384.07 223.05,383.87 223.39,383.86 223.72,383.69 224.05,383.60 224.39,383.24 224.72,382.76 225.05,382.35 225.39,382.24 225.72,381.65 226.05,380.20 226.39,378.12 226.72,376.42 227.05,374.12 227.39,374.21 227.72,375.91 228.05,378.62 228.39,380.51 228.72,381.33 229.05,382.00 229.39,382.76 229.72,382.53 230.06,383.21 230.39,383.78 230.72,383.69 231.06,383.53 231.39,383.87 231.72,383.86 232.06,383.56 232.39,383.60 232.72,384.25 233.06,383.72 233.39,383.57 233.72,384.28 234.06,384.02 234.39,383.90 234.72,384.04 235.06,384.26 235.39,383.76 235.72,384.20 236.06,384.27 236.39,384.37 236.72,383.88 237.06,384.19 237.39,383.86 237.72,384.16 238.06,383.82 238.39,384.38 238.72,384.45 239.06,383.97 239.39,383.88 239.72,384.55 240.06,384.32 240.39,384.45 240.72,383.72 241.06,384.50 241.39,384.26 241.73,383.98 242.06,384.09 242.39,384.39 242.73,384.41 243.06,383.88 243.39,384.27 243.73,383.86 244.06,384.59 244.39,384.11 244.73,384.53 245.06,384.37 245.39,384.26 245.73,383.95 246.06,384.19 246.39,383.84 246.73,383.84 247.06,384.36 247.39,384.05 247.73,384.40 248.06,383.94 248.39,384.37 248.73,384.37 249.06,384.00 249.39,383.82 249.73,384.08 250.06,384.17 250.39,383.82 250.73,383.89 251.06,383.78 251.39,384.27 251.73,384.53 252.06,383.92 252.40,383.76 252.73,384.36 253.06,384.46 253.40,384.60 253.73,384.28 254.06,384.04 254.40,384.49 254.73,383.84 255.06,384.36 255.40,383.82 255.73,384.09 256.06,384.18 256.40,384.07 256.73,383.89 257.06,383.94 257.40,384.47 257.73,384.15 258.06,384.26 258.40,383.93 258.73,384.38 259.06,384.03 259.40,384.27 259.73,384.55 260.06,384.63 260.40,383.78 260.73,384.45 261.06,384.51 261.40,384.03 261.73,384.08 262.06,384.26 262.40,384.56 262.73,384.10 263.06,384.53 263.40,384.42 263.73,383.88 264.07,384.56 264.40,383.75 264.73,383.87 265.07,384.34 265.40,383.79 265.73,384.08 266.07,383.86 266.40,384.16 266.73,384.50 267.07,384.56 267.40,383.77 267.73,383.80 268.07,384.50 268.40,383.78 268.73,383.99 269.07,383.85 269.40,383.82" fill="none" stroke="#bdbdbd" stroke-width="1.1" stroke-linejoin="round" /><polyline points="40.00,340.70 40.33,340.70 40.67,339.89 41.00,339.92 41.33,340.59 41.67,340.50 42.00,340.44 42.33,340.12 42.67,340.39 43.00,340.39 43.33,340.36 43.67,339.98 44.00,340.23 44.33,340.20 44.67,340.49 45.00,340.74 45.33,340.70 45.67,340.33 46.00,340.24 46.34,340.08 46.67,339.87 47.00,339.86 47.34,340.26 47.67,340.13 48.00,340.18 48.34,340.64 48.67,340.31 49.00,340.34 49.34,340.05 49.67,339.86 50.00,340.13 50.34,339.96 50.67,340.30 51.00,340.74 51.34,340.44 51.67,340.00 52.00,340.64 52.34,340.55 52.67,340.50 53.00,340.65 53.34,340.52 53.67,340.55 54.00,340.15 54.34,340.72 54.67,340.70 55.00,339.98 55.34,340.51 55.67,340.48 56.00,340.25 56.34,340.31 56.67,340.27 57.00,340.66 57.34,340.28 57.67,340.58 58.01,340.15 58.34,340.62 58.67,340.64 59.01,340.24 59.34,340.34 59.67,340.65 60.01,340.48 60.34,340.26 60.67,340.02 61.01,340.11 61.34,340.45 61.67,339.97 62.01,340.64 62.34,340.06 62.67,340.64 63.01,340.09 63.34,340.68 63.67,340.45 64.01,340.26 64.34,340.28 64.67,340.39 65.01,340.33 65.34,340.08 65.67,339.99 66.01,340.26 66.34,340.64 66.67,340.35 67.01,339.86 67.34,340.52 67.67,340.44 68.01,340.60 68.34,339.95 68.67,340.44 69.01,339.82 69.34,340.34 69.68,339.99 70.01,339.95 70.34,340.52 70.68,339.82 71.01,340.18 71.34,340.46 71.68,339.90 72.01,339.85 72.34,340.43 72.68,339.99 73.01,340.22 73.34,339.57 73.68,339.81 74.01,339.58 74.34,339.95 74.68,339.32 75.01,339.96 75.34,338.94 75.68,339.30 76.01,338.27 76.34,337.90 76.68,337.50 77.01,335.56 77.34,333.85 77.68,332.98 78.01,333.04 78.34,334.36 78.68,336.86 79.01,337.28 79.34,337.95 79.68,338.73 80.01,339.32 80.35,339.67 80.68,339.28 81.01,339.61 81.35,339.43 81.68,339.88 82.01,340.22 82.35,340.25 82.68,340.43 83.01,340.33 83.35,340.45 83.68,340.33 84.01,340.14 84.35,339.93 84.68,340.34 85.01,340.04 85.35,339.85 85.68,340.17 86.01,340.55 86.35,339.88 86.68,340.28 87.01,340.10 87.35,340.19 87.68,339.83 88.01,340.52 88.35,339.83 88.68,340.06 89.01,339.76 89.35,339.20 89.68,339.38 90.01,338.53 90.35,337.78 90.68,337.04 91.01,336.91 91.35,337.37 91.68,338.63 92.02,339.14 92.35,339.99 92.68,340.23 93.02,340.47 93.35,339.92 93.68,340.21 94.02,340.11 94.35,340.48 94.68,340.56 95.02,340.75 95.35,340.71 95.68,340.33 96.02,340.51 96.35,340.62 96.68,340.18 97.02,340.23 97.35,340.58 97.68,340.33 98.02,340.90 98.35,340.48 98.68,340.37 99.02,340.46 99.35,340.52 99.68,340.52 100.02,340.81 100.35,340.77 100.68,340.64 101.02,340.95 101.35,340.58 101.68,341.22 102.02,341.28 102.35,341.08 102.68,340.82 103.02,340.90 103.35,340.97 103.69,340.50 104.02,340.84 104.35,340.95 104.69,340.64 105.02,340.57 105.35,341.22 105.69,340.83 106.02,340.97 106.35,341.34 106.69,341.06 107.02,340.78 107.35,341.40 107.69,340.86 108.02,340.54 108.35,341.14 108.69,340.62 109.02,340.80 109.35,341.28 109.69,341.13 110.02,340.54 110.35,340.93 110.69,340.89 111.02,340.95 111.35,340.70 111.69,341.03 112.02,340.57 112.35,340.75 112.69,340.82 113.02,341.32 113.35,340.54 113.69,341.15 114.02,340.63 114.35,340.97 114.69,340.80 115.02,340.85 115.36,341.10 115.69,340.77 116.02,340.52 116.36,340.50 116.69,340.46 117.02,341.14 117.36,340.94 117.69,341.21 118.02,340.96 118.36,340.35 118.69,340.91 119.02,341.00 119.36,340.94 119.69,340.72 120.02,340.58 120.36,340.65 120.69,340.95 121.02,340.45 121.36,340.67 121.69,340.60 122.02,341.01 122.36,340.85 122.69,340.94 123.02,340.82 123.36,340.30 123.69,340.19 124.02,340.35 124.36,340.05 124.69,340.06 125.02,340.08 125.36,340.02 125.69,339.47 126.02,339.65 126.36,339.22 126.69,339.72 127.03,340.49 127.36,339.85 127.69,340.17 128.03,339.90 128.36,339.95 128.69,340.70 129.03,340.80 129.36,340.50 129.69,340.04 130.03,340.19 130.36,340.13 130.69,340.53 131.03,340.53 131.36,340.31 131.69,340.39 132.03,340.01 132.36,340.39 132.69,340.76 133.03,340.58 133.36,339.98 133.69,340.36 134.03,340.53 134.36,340.12 134.69,340.69 135.03,340.29 135.36,340.51 135.69,340.23 136.03,340.76 136.36,340.57 136.69,340.38 137.03,339.99 137.36,340.25 137.70,339.88 138.03,340.38 138.36,340.64 138.70,340.00 139.03,340.30 139.36,340.27 139.70,340.20 140.03,340.47 140.36,340.67 140.70,340.46 141.03,340.24 141.36,340.68 141.70,340.11 142.03,340.48 142.36,340.40 142.70,340.49 143.03,340.57 143.36,340.00 143.70,340.35 144.03,340.15 144.36,340.38 144.70,340.65 145.03,340.34 145.36,339.77 145.70,340.17 146.03,340.38 146.36,340.52 146.70,340.30 147.03,340.43 147.36,339.68 147.70,340.49 148.03,340.25 148.36,340.08 148.70,340.27 149.03,340.13 149.37,339.23 149.70,339.60 150.03,339.18 150.37,338.38 150.70,338.91 151.03,339.10 151.37,339.09 151.70,339.89 152.03,339.45 152.37,339.98 152.70,339.88 153.03,339.77 153.37,340.07 153.70,340.00 154.03,339.78 154.37,340.47 154.70,339.66 155.03,339.59 155.37,340.02 155.70,340.32 156.03,340.15 156.37,340.21 156.70,339.94 157.03,340.08 157.37,339.74 157.70,339.63 158.03,339.79 158.37,339.29 158.70,339.25 159.03,339.75 159.37,339.09 159.70,339.43 160.03,339.21 160.37,338.54 160.70,338.31 161.04,337.72 161.37,336.76 161.70,334.52 162.04,332.19 162.37,329.36 162.70,327.18 163.04,327.69 163.37,330.28 163.70,333.60 164.04,335.99 164.37,336.77 164.70,337.80 165.04,338.24 165.37,338.70 165.70,339.38 166.04,339.08 166.37,339.55 166.70,339.52 167.04,339.66 167.37,340.07 167.70,339.37 168.04,340.08 168.37,339.64 168.70,339.96 169.04,340.10 169.37,339.96 169.70,339.70 170.04,340.06 170.37,339.30 170.70,339.65 171.04,339.22 171.37,339.01 171.70,338.83 172.04,338.33 172.37,338.11 172.71,338.23 173.04,338.67 173.37,339.26 173.71,339.32 174.04,339.53 174.37,340.26 174.71,339.58 175.04,340.27 175.37,339.92 175.71,339.94 176.04,339.92 176.37,339.73 176.71,340.09 177.04,339.84 177.37,340.10 177.71,339.97 178.04,340.52 178.37,340.55 178.71,340.13 179.04,340.31 179.37,340.57 179.71,340.03 180.04,339.83 180.37,339.96 180.71,339.91 181.04,340.36 181.37,340.08 181.71,340.07 182.04,340.46 182.37,339.95 182.71,340.47 183.04,340.31 183.37,340.09 183.71,340.47 184.04,340.03 184.38,340.51 184.71,340.54 185.04,340.15 185.38,340.31 185.71,340.52 186.04,340.32 186.38,340.30 186.71,340.37 187.04,340.39 187.38,340.17 187.71,340.29 188.04,339.55 188.38,339.67 188.71,339.45 189.04,338.78 189.38,338.22 189.71,337.39 190.04,337.86 190.38,337.72 190.71,338.48 191.04,339.38 191.38,339.10 191.71,340.03 192.04,339.43 192.38,339.44 192.71,339.81 193.04,339.86 193.38,340.41 193.71,340.40 194.04,340.31 194.38,340.04 194.71,340.14 195.05,339.87 195.38,340.42 195.71,340.02 196.05,339.93 196.38,340.24 196.71,339.80 197.05,339.94 197.38,340.48 197.71,339.73 198.05,339.75 198.38,339.79 198.71,339.82 199.05,339.94 199.38,339.76 199.71,339.80 200.05,339.67 200.38,339.60 200.71,339.85 201.05,339.50 201.38,339.39 201.71,339.54 202.05,338.62 202.38,338.27 202.71,338.27 203.05,336.91 203.38,335.81 203.71,333.63 204.05,333.28 204.38,334.50 204.71,335.66 205.05,337.40 205.38,338.17 205.71,338.58 206.05,339.52 206.38,339.24 206.72,339.51 207.05,339.78 207.38,339.61 207.72,340.15 208.05,340.00 208.38,340.04 208.72,340.03 209.05,340.46 209.38,340.49 209.72,340.38 210.05,340.05 210.38,340.03 210.72,340.14 211.05,339.72 211.38,339.78 211.72,340.59 212.05,339.81 212.38,340.55 212.72,340.32 213.05,340.53 213.38,339.78 213.72,339.99 214.05,340.43 214.38,339.72 214.72,339.81 215.05,340.03 215.38,339.87 215.72,339.84 216.05,340.31 216.38,339.79 216.72,340.58 217.05,340.28 217.38,339.74 217.72,340.49 218.05,339.89 218.39,340.10 218.72,340.16 219.05,339.77 219.39,340.08 219.72,339.67 220.05,339.78 220.39,340.40 220.72,340.29 221.05,339.99 221.39,340.10 221.72,340.23 222.05,339.52 222.39,339.77 222.72,339.37 223.05,339.26 223.39,339.13 223.72,339.06 224.05,338.70 224.39,338.56 224.72,338.31 225.05,337.94 225.39,337.29 225.72,336.00 226.05,333.83 226.39,330.88 226.72,328.63 227.05,327.63 227.39,329.92 227.72,333.41 228.05,335.41 228.39,336.48 228.72,337.57 229.05,338.13 229.39,338.69 229.72,338.99 230.06,339.19 230.39,339.72 230.72,339.86 231.06,339.74 231.39,339.74 231.72,339.64 232.06,340.12 232.39,340.37 232.72,339.72 233.06,340.18 233.39,340.20 233.72,340.19 234.06,339.64 234.39,340.12 234.72,339.82 235.06,339.83 235.39,340.18 235.72,340.25 236.06,340.24 236.39,340.35 236.72,340.32 237.06,340.11 237.39,339.73 237.72,340.37 238.06,340.41 238.39,340.42 238.72,340.19 239.06,339.67 239.39,339.78 239.72,339.66 240.06,340.08 240.39,339.91 240.72,339.45 241.06,339.94 241.39,339.66 241.73,339.22 242.06,338.61 242.39,338.61 242.73,338.90 243.06,339.78 243.39,339.90 243.73,339.66 244.06,340.33 244.39,340.09 244.73,340.00 245.06,340.04 245.39,340.34 245.73,340.12 246.06,340.32 246.39,339.84 246.73,340.38 247.06,340.00 247.39,340.58 247.73,339.95 248.06,340.07 248.39,340.25 248.73,340.12 249.06,340.25 249.39,340.61 249.73,339.96 250.06,340.47 250.39,340.40 250.73,340.48 251.06,340.17 251.39,340.17 251.73,340.07 252.06,340.18 252.40,339.98 252.73,339.91 253.06,340.15 253.40,339.88 253.73,340.10 254.06,340.16 254.40,339.88 254.73,339.69 255.06,339.98 255.40,340.07 255.73,339.26 256.06,339.29 256.40,338.97 256.73,339.03 257.06,339.07 257.40,339.10 257.73,339.32 258.06,340.09 258.40,339.74 258.73,339.57 259.06,340.41 259.40,339.84 259.73,339.98 260.06,340.01 260.40,339.97 260.73,340.41 261.06,340.07 261.40,340.17 261.73,340.16 262.06,340.54 262.40,339.81 262.73,340.32 263.06,339.92 263.40,339.94 263.73,340.36 264.07,340.15 264.40,339.87 264.73,340.35 265.07,340.64 265.40,340.40 265.73,340.27 266.07,340.54 266.40,340.65 266.73,339.96 267.07,340.09 267.40,340.29 267.73,339.09 268.07,337.27 268.40,336.56 268.73,335.55 269.07,334.13 269.40,333.07" fill="none" stroke="#e8505a" stroke-width="1.1" stroke-linejoin="round" /><polyline points="40.00,293.75 40.33,294.03 40.67,293.87 41.00,294.08 41.33,294.10 41.67,293.60 42.00,293.55 42.33,294.29 42.67,293.77 43.00,293.75 43.33,294.43 43.67,293.96 44.00,294.29 44.33,293.96 44.67,294.11 45.00,293.67 45.33,294.11 45.67,294.32 46.00,294.01 46.34,294.20 46.67,294.14 47.00,293.59 47.34,294.22 47.67,294.07 48.00,293.80 48.34,293.56 48.67,294.31 49.00,293.96 49.34,294.18 49.67,294.32 50.00,294.17 50.34,294.36 50.67,293.89 51.00,294.25 51.34,293.93 51.67,294.37 52.00,294.32 52.34,293.62 52.67,293.65 53.00,293.73 53.34,294.40 53.67,293.92 54.00,294.09 54.34,293.80 54.67,293.98 55.00,293.88 55.34,293.84 55.67,294.05 56.00,294.05 56.34,294.34 56.67,294.14 57.00,294.36 57.34,294.30 57.67,294.42 58.01,294.13 58.34,293.67 58.67,294.30 59.01,294.39 59.34,294.34 59.67,294.03 60.01,294.16 60.34,293.71 60.67,294.27 61.01,294.04 61.34,293.78 61.67,293.58 62.01,294.29 62.34,294.41 62.67,293.60 63.01,294.24 63.34,293.89 63.67,293.65 64.01,293.78 64.34,294.21 64.67,294.30 65.01,293.55 65.34,294.06 65.67,293.55 66.01,294.16 66.34,293.81 66.67,294.30 67.01,294.39 67.34,293.96 67.67,294.40 68.01,293.78 68.34,293.57 68.67,294.04 69.01,293.53 69.34,293.68 69.68,293.86 70.01,294.05 70.34,293.64 70.68,293.53 71.01,294.27 71.34,293.77 71.68,294.35 72.01,294.29 72.34,293.82 72.68,293.90 73.01,293.95 73.34,294.06 73.68,294.01 74.01,293.98 74.34,294.03 74.68,294.31 75.01,293.92 75.34,293.85 75.68,294.11 76.01,293.67 76.34,293.72 76.68,294.33 77.01,293.91 77.34,293.93 77.68,293.44 78.01,293.80 78.34,293.94 78.68,293.43 79.01,293.96 79.34,293.97 79.68,293.45 80.01,293.95 80.35,293.80 80.68,293.98 81.01,293.68 81.35,293.98 81.68,294.00 82.01,293.34 82.35,293.36 82.68,293.90 83.01,294.14 83.35,293.47 83.68,293.64 84.01,293.73 84.35,293.46 84.68,293.46 85.01,293.38 85.35,293.39 85.68,293.54 86.01,293.21 86.35,293.21 86.68,293.49 87.01,292.72 87.35,293.09 87.68,293.09 88.01,292.53 88.35,292.23 88.68,292.46 89.01,291.58 89.35,291.03 89.68,290.56 90.01,289.82 90.35,287.86 90.68,285.92 91.01,282.66 91.35,278.23 91.68,271.71 92.02,267.72 92.35,268.76 92.68,274.79 93.02,280.75 93.35,284.98 93.68,287.23 94.02,288.76 94.35,289.84 94.68,291.02 95.02,291.30 95.35,292.29 95.68,292.64 96.02,292.31 96.35,292.59 96.68,293.23 97.02,293.21 97.35,293.47 97.68,293.14 98.02,293.02 98.35,293.23 98.68,293.74 99.02,293.31 99.35,293.42 99.68,293.52 100.02,293.55 100.35,293.57 100.68,294.05 101.02,293.39 101.35,293.27 101.68,294.13 102.02,294.09 102.35,294.20 102.68,293.72 103.02,294.19 103.35,294.18 103.69,293.56 104.02,294.04 104.35,294.13 104.69,293.98 105.02,293.85 105.35,293.65 105.69,293.70 106.02,293.61 106.35,293.47 106.69,293.94 107.02,293.67 107.35,294.15 107.69,293.46 108.02,294.24 108.35,294.05 108.69,294.26 109.02,294.24 109.35,294.24 109.69,293.95 110.02,293.45 110.35,294.11 110.69,293.59 111.02,293.71 111.35,294.03 111.69,293.91 112.02,293.81 112.35,294.28 112.69,293.99 113.02,293.74 113.35,293.66 113.69,294.21 114.02,293.86 114.35,294.13 114.69,293.74 115.02,293.60 115.36,293.90 115.69,294.15 116.02,293.56 116.36,294.12 116.69,294.23 117.02,294.12 117.36,294.12 117.69,293.38 118.02,293.93 118.36,294.13 118.69,293.38 119.02,293.56 119.36,293.54 119.69,293.75 120.02,293.63 120.36,293.64 120.69,293.87 121.02,293.13 121.36,293.11 121.69,293.10 122.02,292.99 122.36,292.80 122.69,293.44 123.02,293.07 123.36,292.02 123.69,291.85 124.02,290.87 124.36,289.62 124.69,287.87 125.02,286.21 125.36,285.46 125.69,286.54 126.02,288.37 126.36,290.10 126.69,291.01 127.03,292.11 127.36,292.72 127.69,292.74 128.03,292.70 128.36,292.95 128.69,293.25 129.03,293.55 129.36,293.79 129.69,293.48 130.03,293.91 130.36,293.79 130.69,293.64 131.03,293.62 131.36,293.75 131.69,293.96 132.03,293.72 132.36,293.98 132.69,293.78 133.03,293.59 133.36,293.86 133.69,294.02 134.03,293.46 134.36,293.78 134.69,293.79 135.03,294.20 135.36,294.26 135.69,293.75 136.03,294.23 136.36,294.13 136.69,293.66 137.03,293.84 137.36,293.54 137.70,294.16 138.03,294.02 138.36,294.23 138.70,294.14 139.03,294.03 139.36,294.09 139.70,293.93 140.03,293.52 140.36,293.95 140.70,293.42 141.03,293.55 141.36,294.11 141.70,293.45 142.03,293.49 142.36,293.49 142.70,294.19 143.03,293.55 143.36,293.41 143.70,294.14 144.03,293.48 144.36,294.12 144.70,293.95 145.03,294.09 145.36,294.18 145.70,293.83 146.03,294.00 146.36,293.29 146.70,293.92 147.03,293.66 147.36,293.80 147.70,293.20 148.03,293.71 148.36,293.80 148.70,292.90 149.03,292.99 149.37,293.00 149.70,292.94 150.03,291.98 150.37,291.27 150.70,290.34 151.03,289.24 151.37,287.85 151.70,287.00 152.03,288.01 152.37,289.60 152.70,290.81 153.03,291.72 153.37,291.97 153.70,292.71 154.03,293.38 154.37,293.04 154.70,293.46 155.03,293.02 155.37,293.56 155.70,293.66 156.03,293.62 156.37,293.50 156.70,293.48 157.03,293.62 157.37,293.85 157.70,293.16 158.03,293.09 158.37,293.65 158.70,293.76 159.03,293.36 159.37,293.23 159.70,293.40 160.03,292.82 160.37,292.76 160.70,292.53 161.04,292.65 161.37,292.11 161.70,291.61 162.04,291.41 162.37,290.74 162.70,288.77 163.04,287.05 163.37,283.84 163.70,281.22 164.04,280.19 164.37,282.19 164.70,285.31 165.04,287.61 165.37,289.68 165.70,290.67 166.04,291.19 166.37,291.83 166.70,292.13 167.04,292.77 167.37,292.36 167.70,293.23 168.04,292.84 168.37,292.99 168.70,292.88 169.04,293.20 169.37,293.14 169.70,292.83 170.04,292.64 170.37,292.70 170.70,292.59 171.04,291.86 171.37,291.71 171.70,291.26 172.04,289.84 172.37,288.13 172.71,285.85 173.04,282.98 173.37,279.22 173.71,277.84 174.04,279.94 174.37,283.17 174.71,286.29 175.04,288.51 175.37,289.85 175.71,291.25 176.04,292.03 176.37,292.51 176.71,292.26 177.04,293.05 177.37,292.74 177.71,292.98 178.04,293.37 178.37,292.88 178.71,292.96 179.04,293.69 179.37,293.25 179.71,293.35 180.04,293.59 180.37,293.71 180.71,293.13 181.04,293.44 181.37,293.55 181.71,293.61 182.04,293.37 182.37,293.72 182.71,294.06 183.04,293.56 183.37,293.70 183.71,293.32 184.04,293.45 184.38,293.80 184.71,293.30 185.04,293.99 185.38,293.99 185.71,293.25 186.04,293.99 186.38,293.46 186.71,293.79 187.04,293.75 187.38,293.29 187.71,293.59 188.04,293.51 188.38,293.58 188.71,293.00 189.04,293.33 189.38,293.37 189.71,292.92 190.04,292.54 190.38,291.82 190.71,291.68 191.04,290.85 191.38,290.12 191.71,288.48 192.04,285.95 192.38,282.38 192.71,280.07 193.04,280.27 193.38,282.78 193.71,286.58 194.04,288.68 194.38,289.73 194.71,291.46 195.05,291.42 195.38,292.05 195.71,292.73 196.05,292.86 196.38,293.00 196.71,293.22 197.05,293.16 197.38,293.11 197.71,293.05 198.05,293.00 198.38,293.62 198.71,293.69 199.05,293.52 199.38,293.71 199.71,293.37 200.05,293.29 200.38,293.39 200.71,293.81 201.05,293.04 201.38,293.42 201.71,293.14 202.05,293.54 202.38,293.07 202.71,292.92 203.05,292.80 203.38,292.66 203.71,292.49 204.05,291.53 204.38,291.08 204.71,289.09 205.05,287.58 205.38,286.29 205.71,286.79 206.05,288.98 206.38,290.43 206.72,290.99 207.05,291.68 207.38,292.31 207.72,292.87 208.05,293.10 208.38,293.11 208.72,292.96 209.05,292.45 209.38,292.45 209.72,291.91 210.05,291.81 210.38,291.73 210.72,291.73 211.05,292.26 211.38,293.13 211.72,292.72 212.05,293.60 212.38,293.80 212.72,293.93 213.05,293.48 213.38,293.68 213.72,293.74 214.05,293.82 214.38,294.15 214.72,293.90 215.05,293.57 215.38,294.08 215.72,293.75 216.05,293.86 216.38,293.98 216.72,293.33 217.05,294.03 217.38,293.93 217.72,293.78 218.05,293.81 218.39,293.75 218.72,293.50 219.05,293.80 219.39,293.35 219.72,293.76 220.05,293.89 220.39,293.70 220.72,293.79 221.05,294.13 221.39,294.06 221.72,293.36 222.05,293.93 222.39,293.75 222.72,293.21 223.05,293.45 223.39,293.29 223.72,293.10 224.05,293.45 224.39,293.73 224.72,293.08 225.05,293.45 225.39,293.14 225.72,292.42 226.05,292.79 226.39,292.16 226.72,291.88 227.05,290.85 227.39,289.59 227.72,287.28 228.05,284.94 228.39,282.20 228.72,281.34 229.05,283.07 229.39,286.35 229.72,288.46 230.06,289.71 230.39,290.69 230.72,291.40 231.06,291.98 231.39,292.28 231.72,292.82 232.06,293.18 232.39,293.17 232.72,293.17 233.06,293.45 233.39,293.20 233.72,293.40 234.06,293.70 234.39,293.41 234.72,293.23 235.06,293.89 235.39,293.73 235.72,293.42 236.06,293.42 236.39,293.55 236.72,293.60 237.06,293.24 237.39,293.01 237.72,293.16 238.06,293.62 238.39,292.98 238.72,293.18 239.06,292.83 239.39,292.70 239.72,292.47 240.06,292.41 240.39,291.83 240.72,291.17 241.06,290.46 241.39,289.31 241.73,287.76 242.06,284.75 242.39,281.91 242.73,281.32 243.06,283.20 243.39,286.37 243.73,288.13 244.06,290.03 244.39,291.06 244.73,291.42 245.06,292.73 245.39,292.39 245.73,292.52 246.06,293.04 246.39,292.90 246.73,293.42 247.06,293.26 247.39,293.13 247.73,293.12 248.06,293.77 248.39,293.40 248.73,293.89 249.06,293.63 249.39,294.07 249.73,293.51 250.06,293.48 250.39,293.51 250.73,294.01 251.06,293.84 251.39,293.59 251.73,293.36 252.06,293.89 252.40,294.13 252.73,293.78 253.06,293.23 253.40,293.22 253.73,293.24 254.06,293.25 254.40,293.05 254.73,292.96 255.06,293.34 255.40,293.31 255.73,292.31 256.06,292.44 256.40,291.19 256.73,290.65 257.06,290.53 257.40,291.18 257.73,291.24 258.06,292.18 258.40,292.91 258.73,293.52 259.06,292.95 259.40,293.28 259.73,293.88 260.06,293.29 260.40,293.59 260.73,293.58 261.06,293.93 261.40,294.18 261.73,293.52 262.06,294.05 262.40,294.06 262.73,294.16 263.06,293.92 263.40,294.26 263.73,293.77 264.07,293.82 264.40,293.66 264.73,294.16 265.07,293.90 265.40,293.71 265.73,293.63 266.07,294.12 266.40,294.02 266.73,294.12 267.07,293.83 267.40,293.52 267.73,292.06 268.07,291.39 268.40,289.61 268.73,288.85 269.07,287.95 269.40,286.71" fill="none" stroke="#4da4de" stroke-width="1.1" stroke-linejoin="round" /><rect x="234.30" y="247.10" width="29.60" height="29.50" fill="#6e5020" /><rect x="234.30" y="298.90" width="29.60" height="29.90" fill="#8f8a6e" /><rect x="234.30" y="347.10" width="29.60" height="29.50" fill="#b6b6ae" /><rect x="40.0" y="223.8" width="229.40" height="168.40" fill="none" stroke="#222" stroke-width="1.3"/><line x1="40.00" y1="392.20" x2="40.00" y2="395.80" stroke="#222" stroke-width="1.1" /><text x="40.00" y="405.90" font-size="9.3" fill="#111" stroke="#111" stroke-width="0.22" text-anchor="middle" >5</text><line x1="68.62" y1="392.20" x2="68.62" y2="395.80" stroke="#222" stroke-width="1.1" /><text x="68.62" y="405.90" font-size="9.3" fill="#111" stroke="#111" stroke-width="0.22" text-anchor="middle" >10</text><line x1="97.25" y1="392.20" x2="97.25" y2="395.80" stroke="#222" stroke-width="1.1" /><text x="97.25" y="405.90" font-size="9.3" fill="#111" stroke="#111" stroke-width="0.22" text-anchor="middle" >15</text><line x1="125.88" y1="392.20" x2="125.88" y2="395.80" stroke="#222" stroke-width="1.1" /><text x="125.88" y="405.90" font-size="9.3" fill="#111" stroke="#111" stroke-width="0.22" text-anchor="middle" >20</text><line x1="154.50" y1="392.20" x2="154.50" y2="395.80" stroke="#222" stroke-width="1.1" /><text x="154.50" y="405.90" font-size="9.3" fill="#111" stroke="#111" stroke-width="0.22" text-anchor="middle" >25</text><line x1="183.12" y1="392.20" x2="183.12" y2="395.80" stroke="#222" stroke-width="1.1" /><text x="183.12" y="405.90" font-size="9.3" fill="#111" stroke="#111" stroke-width="0.22" text-anchor="middle" >30</text><line x1="211.75" y1="392.20" x2="211.75" y2="395.80" stroke="#222" stroke-width="1.1" /><text x="211.75" y="405.90" font-size="9.3" fill="#111" stroke="#111" stroke-width="0.22" text-anchor="middle" >35</text><line x1="240.38" y1="392.20" x2="240.38" y2="395.80" stroke="#222" stroke-width="1.1" /><text x="240.38" y="405.90" font-size="9.3" fill="#111" stroke="#111" stroke-width="0.22" text-anchor="middle" >40</text><line x1="269.00" y1="392.20" x2="269.00" y2="395.80" stroke="#222" stroke-width="1.1" /><text x="269.00" y="405.90" font-size="9.3" fill="#111" stroke="#111" stroke-width="0.22" text-anchor="middle" >45</text><line x1="54.31" y1="392.20" x2="54.31" y2="394.40" stroke="#222" stroke-width="1.0" /><line x1="82.94" y1="392.20" x2="82.94" y2="394.40" stroke="#222" stroke-width="1.0" /><line x1="111.56" y1="392.20" x2="111.56" y2="394.40" stroke="#222" stroke-width="1.0" /><line x1="140.19" y1="392.20" x2="140.19" y2="394.40" stroke="#222" stroke-width="1.0" /><line x1="168.81" y1="392.20" x2="168.81" y2="394.40" stroke="#222" stroke-width="1.0" /><line x1="197.44" y1="392.20" x2="197.44" y2="394.40" stroke="#222" stroke-width="1.0" /><line x1="226.06" y1="392.20" x2="226.06" y2="394.40" stroke="#222" stroke-width="1.0" /><line x1="254.69" y1="392.20" x2="254.69" y2="394.40" stroke="#222" stroke-width="1.0" /><line x1="44.10" y1="233.50" x2="65.00" y2="233.50" stroke="#bdbdbd" stroke-width="1.4" /><text x="68.10" y="236.80" font-size="9.4" fill="#111" stroke="#111" stroke-width="0.22" textLength="28.00" lengthAdjust="spacingAndGlyphs" >DMSO</text><line x1="44.10" y1="245.40" x2="65.00" y2="245.40" stroke="#e8505a" stroke-width="1.4" /><text x="68.10" y="248.70" font-size="9.4" fill="#111" stroke="#111" stroke-width="0.22" textLength="48.40" lengthAdjust="spacingAndGlyphs" >DMSO:GVL</text><line x1="44.10" y1="257.00" x2="65.00" y2="257.00" stroke="#4da4de" stroke-width="1.4" /><text x="68.10" y="260.30" font-size="9.4" fill="#111" stroke="#111" stroke-width="0.22" textLength="92.40" lengthAdjust="spacingAndGlyphs" >DMSO:GVL:2-MeTHF</text><text x="134.00" y="420.40" font-size="10.5" fill="#3a3a3a" textLength="11.00" lengthAdjust="spacingAndGlyphs" font-family="Liberation Serif" stroke="none">2θ</text><text x="148.00" y="420.40" font-size="9.9" fill="#111" stroke="#111" stroke-width="0.22" textLength="23.60" lengthAdjust="spacingAndGlyphs" >(deg)</text><text transform="translate(28.6,307.3) rotate(-90)" x="0" y="0" font-size="10.4" text-anchor="middle" fill="#111" textLength="66.3" lengthAdjust="spacingAndGlyphs" stroke="#111" stroke-width="0.22">Intensity (a.u.)</text><text x="292.50" y="229.60" font-size="14.94" fill="#000" font-weight="bold" textLength="10.30" lengthAdjust="spacingAndGlyphs" >D</text><line x1="460.40" y1="310.00" x2="460.40" y2="394.00" stroke="#e8323c" stroke-width="0.9" stroke-dasharray="2.4,1.6"/><circle cx="366.10" cy="270.40" r="3.15" fill="none" stroke="#5cb0e8" stroke-width="1.25"/><circle cx="382.30" cy="294.60" r="3.15" fill="none" stroke="#5cb0e8" stroke-width="1.25"/><circle cx="403.20" cy="312.40" r="3.15" fill="none" stroke="#5cb0e8" stroke-width="1.25"/><circle cx="422.20" cy="322.60" r="3.15" fill="none" stroke="#5cb0e8" stroke-width="1.25"/><circle cx="428.70" cy="325.40" r="3.15" fill="none" stroke="#5cb0e8" stroke-width="1.25"/><circle cx="444.90" cy="331.40" r="3.15" fill="none" stroke="#5cb0e8" stroke-width="1.25"/><circle cx="454.00" cy="334.00" r="3.15" fill="none" stroke="#5cb0e8" stroke-width="1.25"/><circle cx="460.80" cy="335.60" r="3.15" fill="none" stroke="#5cb0e8" stroke-width="1.25"/><circle cx="467.30" cy="337.20" r="3.15" fill="none" stroke="#5cb0e8" stroke-width="1.25"/><circle cx="479.60" cy="340.00" r="3.15" fill="none" stroke="#5cb0e8" stroke-width="1.25"/><circle cx="486.10" cy="341.30" r="3.15" fill="none" stroke="#5cb0e8" stroke-width="1.25"/><circle cx="490.60" cy="341.90" r="3.15" fill="none" stroke="#5cb0e8" stroke-width="1.25"/><circle cx="499.20" cy="343.70" r="3.15" fill="none" stroke="#5cb0e8" stroke-width="1.25"/><circle cx="505.20" cy="344.50" r="3.15" fill="none" stroke="#5cb0e8" stroke-width="1.25"/><circle cx="512.20" cy="345.50" r="3.15" fill="none" stroke="#5cb0e8" stroke-width="1.25"/><circle cx="516.90" cy="346.60" r="3.15" fill="none" stroke="#5cb0e8" stroke-width="1.25"/><circle cx="521.90" cy="347.10" r="3.15" fill="none" stroke="#5cb0e8" stroke-width="1.25"/><circle cx="533.10" cy="348.40" r="3.15" fill="none" stroke="#5cb0e8" stroke-width="1.25"/><circle cx="538.30" cy="348.90" r="3.15" fill="none" stroke="#5cb0e8" stroke-width="1.25"/><circle cx="540.90" cy="349.20" r="3.15" fill="none" stroke="#5cb0e8" stroke-width="1.25"/><circle cx="354.90" cy="265.10" r="3.15" fill="none" stroke="#24527a" stroke-width="1.25"/><circle cx="363.00" cy="289.40" r="3.15" fill="none" stroke="#24527a" stroke-width="1.25"/><circle cx="378.40" cy="316.60" r="3.15" fill="none" stroke="#24527a" stroke-width="1.25"/><circle cx="387.00" cy="324.90" r="3.15" fill="none" stroke="#24527a" stroke-width="1.25"/><circle cx="395.30" cy="331.20" r="3.15" fill="none" stroke="#24527a" stroke-width="1.25"/><circle cx="404.20" cy="336.40" r="3.15" fill="none" stroke="#24527a" stroke-width="1.25"/><circle cx="413.90" cy="340.60" r="3.15" fill="none" stroke="#24527a" stroke-width="1.25"/><circle cx="423.00" cy="344.20" r="3.15" fill="none" stroke="#24527a" stroke-width="1.25"/><circle cx="433.20" cy="347.30" r="3.15" fill="none" stroke="#24527a" stroke-width="1.25"/><circle cx="442.80" cy="350.00" r="3.15" fill="none" stroke="#24527a" stroke-width="1.25"/><circle cx="454.30" cy="352.60" r="3.15" fill="none" stroke="#24527a" stroke-width="1.25"/><circle cx="466.30" cy="354.90" r="3.15" fill="none" stroke="#24527a" stroke-width="1.25"/><circle cx="476.20" cy="357.00" r="3.15" fill="none" stroke="#24527a" stroke-width="1.25"/><circle cx="486.10" cy="358.80" r="3.15" fill="none" stroke="#24527a" stroke-width="1.25"/><circle cx="495.30" cy="360.40" r="3.15" fill="none" stroke="#24527a" stroke-width="1.25"/><circle cx="505.20" cy="362.20" r="3.15" fill="none" stroke="#24527a" stroke-width="1.25"/><circle cx="514.80" cy="363.50" r="3.15" fill="none" stroke="#24527a" stroke-width="1.25"/><circle cx="523.50" cy="364.80" r="3.15" fill="none" stroke="#24527a" stroke-width="1.25"/><circle cx="532.60" cy="366.10" r="3.15" fill="none" stroke="#24527a" stroke-width="1.25"/><circle cx="542.50" cy="367.40" r="3.15" fill="none" stroke="#24527a" stroke-width="1.25"/><circle cx="546.20" cy="368.00" r="3.15" fill="none" stroke="#24527a" stroke-width="1.25"/><circle cx="354.9" cy="243" r="3.15" fill="none" stroke="#b8141e" stroke-width="1.25"/><circle cx="546.2" cy="350" r="3.15" fill="none" stroke="#b8141e" stroke-width="1.25"/><line x1="369.50" y1="243.00" x2="362.50" y2="243.00" stroke="#b8141e" stroke-width="1.1" /><polygon points="359.60,243.00 363.50,240.90 363.50,245.10" fill="#b8141e" /><line x1="546.20" y1="332.20" x2="546.20" y2="341.50" stroke="#b8141e" stroke-width="1.1" /><polygon points="546.20,345.00 544.10,341.00 548.30,341.00" fill="#b8141e" /><text x="371.80" y="245.60" font-size="8.75" fill="#111" stroke="#111" stroke-width="0.22" textLength="41.20" lengthAdjust="spacingAndGlyphs" >BP of GVL</text><text x="492.70" y="327.00" font-size="8.85" fill="#111" stroke="#111" stroke-width="0.22" textLength="61.30" lengthAdjust="spacingAndGlyphs" >BP of 2-MeTHF</text><circle cx="477" cy="244.8" r="3.15" fill="none" stroke="#5cb0e8" stroke-width="1.25"/><circle cx="477" cy="256.5" r="3.15" fill="none" stroke="#24527a" stroke-width="1.25"/><text x="490.60" y="247.30" font-size="9.42" fill="#111" stroke="#111" stroke-width="0.22" textLength="42.40" lengthAdjust="spacingAndGlyphs" >101.3 kPa</text><text x="490.60" y="259.00" font-size="9.42" fill="#111" stroke="#111" stroke-width="0.22" textLength="37.40" lengthAdjust="spacingAndGlyphs" >50.7 kPa</text><rect x="345.5" y="226.0" width="209.80" height="168.50" fill="none" stroke="#222" stroke-width="1.3"/><line x1="345.50" y1="394.50" x2="342.10" y2="394.50" stroke="#222" stroke-width="1.1" /><text x="338.40" y="397.80" font-size="9.3" fill="#111" stroke="#111" stroke-width="0.22" text-anchor="end" textLength="15.50" lengthAdjust="spacingAndGlyphs" >300</text><line x1="345.50" y1="360.80" x2="342.10" y2="360.80" stroke="#222" stroke-width="1.1" /><text x="338.40" y="364.10" font-size="9.3" fill="#111" stroke="#111" stroke-width="0.22" text-anchor="end" textLength="15.50" lengthAdjust="spacingAndGlyphs" >340</text><line x1="345.50" y1="327.10" x2="342.10" y2="327.10" stroke="#222" stroke-width="1.1" /><text x="338.40" y="330.40" font-size="9.3" fill="#111" stroke="#111" stroke-width="0.22" text-anchor="end" textLength="15.50" lengthAdjust="spacingAndGlyphs" >380</text><line x1="345.50" y1="293.40" x2="342.10" y2="293.40" stroke="#222" stroke-width="1.1" /><text x="338.40" y="296.70" font-size="9.3" fill="#111" stroke="#111" stroke-width="0.22" text-anchor="end" textLength="15.50" lengthAdjust="spacingAndGlyphs" >420</text><line x1="345.50" y1="259.70" x2="342.10" y2="259.70" stroke="#222" stroke-width="1.1" /><text x="338.40" y="263.00" font-size="9.3" fill="#111" stroke="#111" stroke-width="0.22" text-anchor="end" textLength="15.50" lengthAdjust="spacingAndGlyphs" >460</text><line x1="345.50" y1="226.00" x2="342.10" y2="226.00" stroke="#222" stroke-width="1.1" /><text x="338.40" y="229.30" font-size="9.3" fill="#111" stroke="#111" stroke-width="0.22" text-anchor="end" textLength="15.50" lengthAdjust="spacingAndGlyphs" >500</text><line x1="345.50" y1="377.65" x2="343.50" y2="377.65" stroke="#222" stroke-width="1.0" /><line x1="345.50" y1="343.95" x2="343.50" y2="343.95" stroke="#222" stroke-width="1.0" /><line x1="345.50" y1="310.25" x2="343.50" y2="310.25" stroke="#222" stroke-width="1.0" /><line x1="345.50" y1="276.55" x2="343.50" y2="276.55" stroke="#222" stroke-width="1.0" /><line x1="345.50" y1="242.85" x2="343.50" y2="242.85" stroke="#222" stroke-width="1.0" /><line x1="354.90" y1="394.50" x2="354.90" y2="397.90" stroke="#222" stroke-width="1.1" /><text x="354.90" y="408.10" font-size="9.3" fill="#111" stroke="#111" stroke-width="0.22" text-anchor="middle" textLength="13.17" lengthAdjust="spacingAndGlyphs" >0.0</text><line x1="393.16" y1="394.50" x2="393.16" y2="397.90" stroke="#222" stroke-width="1.1" /><text x="393.16" y="408.10" font-size="9.3" fill="#111" stroke="#111" stroke-width="0.22" text-anchor="middle" textLength="13.17" lengthAdjust="spacingAndGlyphs" >0.2</text><line x1="431.42" y1="394.50" x2="431.42" y2="397.90" stroke="#222" stroke-width="1.1" /><text x="431.42" y="408.10" font-size="9.3" fill="#111" stroke="#111" stroke-width="0.22" text-anchor="middle" textLength="13.17" lengthAdjust="spacingAndGlyphs" >0.4</text><line x1="469.68" y1="394.50" x2="469.68" y2="397.90" stroke="#222" stroke-width="1.1" /><text x="469.68" y="408.10" font-size="9.3" fill="#111" stroke="#111" stroke-width="0.22" text-anchor="middle" textLength="13.17" lengthAdjust="spacingAndGlyphs" >0.6</text><line x1="507.94" y1="394.50" x2="507.94" y2="397.90" stroke="#222" stroke-width="1.1" /><text x="507.94" y="408.10" font-size="9.3" fill="#111" stroke="#111" stroke-width="0.22" text-anchor="middle" textLength="13.17" lengthAdjust="spacingAndGlyphs" >0.8</text><line x1="546.20" y1="394.50" x2="546.20" y2="397.90" stroke="#222" stroke-width="1.1" /><text x="546.20" y="408.10" font-size="9.3" fill="#111" stroke="#111" stroke-width="0.22" text-anchor="middle" textLength="13.17" lengthAdjust="spacingAndGlyphs" >1.0</text><line x1="374.03" y1="394.50" x2="374.03" y2="396.50" stroke="#222" stroke-width="1.0" /><line x1="412.29" y1="394.50" x2="412.29" y2="396.50" stroke="#222" stroke-width="1.0" /><line x1="450.55" y1="394.50" x2="450.55" y2="396.50" stroke="#222" stroke-width="1.0" /><line x1="488.81" y1="394.50" x2="488.81" y2="396.50" stroke="#222" stroke-width="1.0" /><line x1="527.07" y1="394.50" x2="527.07" y2="396.50" stroke="#222" stroke-width="1.0" /><text x="372.90" y="424.60" font-size="10.34" fill="#111" stroke="#111" stroke-width="0.22" textLength="157.50" lengthAdjust="spacingAndGlyphs" >Mole fraction of 2-MeTHF (*100%)</text><text transform="translate(320.2,310.4) rotate(-90)" x="0" y="0" font-size="10.58" text-anchor="middle" fill="#111" textLength="76.4" lengthAdjust="spacingAndGlyphs" stroke="#111" stroke-width="0.22">Temperature (K)</text><text x="577.50" y="229.60" font-size="16.20" fill="#000" font-weight="bold" textLength="8.50" lengthAdjust="spacingAndGlyphs" >E</text><polyline points="612.90,238.77 613.50,238.81 614.10,238.85 614.70,238.89 615.30,238.93 615.90,238.97 616.50,239.01 617.10,239.05 617.70,239.10 618.30,239.14 618.90,239.18 619.50,239.23 620.10,239.27 620.70,239.32 621.30,239.37 621.90,239.42 622.50,239.47 623.10,239.52 623.70,239.57 624.30,239.62 624.90,239.67 625.50,239.73 626.10,239.78 626.70,239.84 627.30,239.90 627.90,239.96 628.50,240.02 629.10,240.08 629.70,240.14 630.30,240.21 630.90,240.27 631.50,240.34 632.10,240.41 632.70,240.48 633.30,240.55 633.90,240.62 634.50,240.70 635.10,240.78 635.70,240.86 636.30,240.94 636.90,241.02 637.50,241.10 638.10,241.19 638.70,241.28 639.30,241.37 639.90,241.46 640.50,241.56 641.10,241.66 641.70,241.76 642.30,241.87 642.90,241.97 643.50,242.08 644.10,242.20 644.70,242.32 645.30,242.44 645.90,242.56 646.50,242.69 647.10,242.82 647.70,242.96 648.30,243.10 648.90,243.25 649.50,243.40 650.10,243.56 650.70,243.73 651.30,243.90 651.90,244.08 652.50,244.26 653.10,244.45 653.70,244.65 654.30,244.86 654.90,245.08 655.50,245.31 656.10,245.55 656.70,245.80 657.30,246.07 657.90,246.35 658.50,246.64 659.10,246.94 659.70,247.26 660.30,247.60 660.90,247.96 661.50,248.34 662.10,248.73 662.70,249.15 663.30,249.59 663.90,250.06 664.50,250.55 665.10,251.07 665.70,251.62 666.30,252.20 666.90,252.82 667.50,253.46 668.10,254.15 668.70,254.87 669.30,255.63 669.90,256.43 670.50,257.27 671.10,258.17 671.70,259.10 672.30,260.09 672.90,261.12 673.50,262.21 674.10,263.35 674.70,264.55 675.30,265.80 675.90,267.11 676.50,268.48 677.10,269.91 677.70,271.40 678.30,272.96 678.90,274.57 679.50,276.25 680.10,277.99 680.70,279.79 681.30,281.66 681.90,283.59 682.50,285.58 683.10,287.63 683.70,289.73 684.30,291.89 684.90,294.10 685.50,296.37 686.10,298.68 686.70,301.03 687.30,303.41 687.90,305.83 688.50,308.27 689.10,310.73 689.70,313.20 690.30,315.66 690.90,318.12 691.50,320.56 692.10,322.97 692.70,325.33 693.30,327.64 693.90,329.87 694.50,332.01 695.10,334.06 695.70,335.99 696.30,337.78 696.90,339.43 697.50,340.92 698.10,342.23 698.70,343.36 699.30,344.29 699.90,345.01 700.50,345.53 701.10,345.83 701.70,345.91 702.30,345.78 702.90,345.44 703.50,344.89 704.10,344.16 704.70,343.24 705.30,342.15 705.90,340.90 706.50,339.51 707.10,338.00 707.70,336.37 708.30,334.66 708.90,332.86 709.50,331.01 710.10,329.10 710.70,327.16 711.30,325.20 711.90,323.23 712.50,321.26 713.10,319.30 713.70,317.36 714.30,315.45 714.90,313.58 715.50,311.74 716.10,309.94 716.70,308.19 717.30,306.49 717.90,304.84 718.50,303.24 719.10,301.69 719.70,300.19 720.30,298.73 720.90,297.31 721.50,295.94 722.10,294.60 722.70,293.28 723.30,292.00 723.90,290.73 724.50,289.47 725.10,288.23 725.70,286.99 726.30,285.75 726.90,284.51 727.50,283.27 728.10,282.02 728.70,280.77 729.30,279.52 729.90,278.26 730.50,277.01 731.10,275.76 731.70,274.52 732.30,273.29 732.90,272.07 733.50,270.87 734.10,269.69 734.70,268.54 735.30,267.41 735.90,266.32 736.50,265.25 737.10,264.22 737.70,263.21 738.30,262.25 738.90,261.32 739.50,260.42 740.10,259.56 740.70,258.73 741.30,257.94 741.90,257.18 742.50,256.45 743.10,255.75 743.70,255.09 744.30,254.45 744.90,253.85 745.50,253.27 746.10,252.71 746.70,252.19 747.30,251.68 747.90,251.20 748.50,250.75 749.10,250.31 749.70,249.90 750.30,249.50 750.90,249.12 751.50,248.76 752.10,248.42 752.70,248.09 753.30,247.78 753.90,247.48 754.50,247.20 755.10,246.92 755.70,246.66 756.30,246.42 756.90,246.18 757.50,245.95 758.10,245.73 758.70,245.53 759.30,245.33 759.90,245.13 760.50,244.95 761.10,244.78 761.70,244.61 762.30,244.44 762.90,244.29 763.50,244.14 764.10,243.99 764.70,243.85 765.30,243.72 765.90,243.59 766.50,243.47 767.10,243.35 767.70,243.23 768.30,243.12 768.90,243.01 769.50,242.90 770.10,242.80 770.70,242.70 771.30,242.61 771.90,242.51 772.50,242.42 773.10,242.34 773.70,242.25 774.30,242.17 774.90,242.09 775.50,242.01 776.10,241.94 776.70,241.87 777.30,241.80 777.90,241.73 778.50,241.66 779.10,241.59 779.70,241.53 780.30,241.47 780.90,241.41 781.50,241.35 782.10,241.29 782.70,241.24 783.30,241.18 783.90,241.13 784.50,241.08 785.10,241.03 785.70,240.98 786.30,240.93 786.90,240.89 787.50,240.84 788.10,240.80 788.70,240.75 789.30,240.71 789.90,240.67 790.50,240.63 791.10,240.59 791.70,240.55 792.30,240.52 792.90,240.48 793.50,240.45 794.10,240.41 794.70,240.38 795.30,240.34 795.90,240.31 796.50,240.28 797.10,240.25 797.70,240.22 798.30,240.19 798.90,240.16 799.50,240.13 800.10,240.10 800.70,240.08 801.30,240.05 801.90,240.03 802.50,240.00 803.10,239.98 803.70,239.95 804.30,239.93 804.90,239.91 805.50,239.88 806.10,239.86 806.70,239.84 807.30,239.82 807.90,239.80 808.50,239.78 809.10,239.76 809.70,239.74 810.30,239.72 810.90,239.70 811.50,239.68 812.10,239.66 812.70,239.65 813.30,239.63 813.90,239.61 814.50,239.60 815.10,239.58 815.70,239.57 816.30,239.55 816.90,239.54 817.50,239.52 818.10,239.51 818.70,239.49 819.30,239.48 819.90,239.46 820.50,239.45 821.10,239.44" fill="none" stroke="#e0844c" stroke-width="1.3" stroke-linejoin="round" /><polyline points="612.90,239.10 613.50,239.13 614.10,239.16 614.70,239.20 615.30,239.23 615.90,239.27 616.50,239.30 617.10,239.34 617.70,239.38 618.30,239.41 618.90,239.45 619.50,239.49 620.10,239.53 620.70,239.57 621.30,239.61 621.90,239.66 622.50,239.70 623.10,239.74 623.70,239.79 624.30,239.83 624.90,239.88 625.50,239.92 626.10,239.97 626.70,240.02 627.30,240.07 627.90,240.12 628.50,240.17 629.10,240.23 629.70,240.28 630.30,240.33 630.90,240.39 631.50,240.45 632.10,240.50 632.70,240.56 633.30,240.63 633.90,240.69 634.50,240.75 635.10,240.82 635.70,240.88 636.30,240.95 636.90,241.02 637.50,241.09 638.10,241.16 638.70,241.24 639.30,241.31 639.90,241.39 640.50,241.47 641.10,241.55 641.70,241.64 642.30,241.73 642.90,241.82 643.50,241.91 644.10,242.00 644.70,242.10 645.30,242.20 645.90,242.30 646.50,242.41 647.10,242.52 647.70,242.63 648.30,242.75 648.90,242.88 649.50,243.00 650.10,243.13 650.70,243.27 651.30,243.41 651.90,243.56 652.50,243.72 653.10,243.88 653.70,244.04 654.30,244.22 654.90,244.41 655.50,244.60 656.10,244.80 656.70,245.01 657.30,245.24 657.90,245.47 658.50,245.72 659.10,245.98 659.70,246.26 660.30,246.55 660.90,246.85 661.50,247.18 662.10,247.52 662.70,247.88 663.30,248.27 663.90,248.67 664.50,249.10 665.10,249.56 665.70,250.04 666.30,250.55 666.90,251.09 667.50,251.66 668.10,252.26 668.70,252.90 669.30,253.57 669.90,254.28 670.50,255.03 671.10,255.82 671.70,256.65 672.30,257.53 672.90,258.45 673.50,259.41 674.10,260.43 674.70,261.49 675.30,262.61 675.90,263.78 676.50,264.99 677.10,266.27 677.70,267.59 678.30,268.97 678.90,270.41 679.50,271.90 680.10,273.44 680.70,275.04 681.30,276.69 681.90,278.39 682.50,280.15 683.10,281.95 683.70,283.81 684.30,285.71 684.90,287.65 685.50,289.63 686.10,291.65 686.70,293.71 687.30,295.79 687.90,297.90 688.50,300.02 689.10,302.16 689.70,304.31 690.30,306.45 690.90,308.59 691.50,310.72 692.10,312.81 692.70,314.88 693.30,316.90 693.90,318.86 694.50,320.76 695.10,322.58 695.70,324.32 696.30,325.95 696.90,327.47 697.50,328.87 698.10,330.14 698.70,331.26 699.30,332.24 699.90,333.05 700.50,333.70 701.10,334.18 701.70,334.49 702.30,334.63 702.90,334.59 703.50,334.39 704.10,334.03 704.70,333.51 705.30,332.84 705.90,332.03 706.50,331.09 707.10,330.03 707.70,328.86 708.30,327.60 708.90,326.24 709.50,324.82 710.10,323.33 710.70,321.79 711.30,320.20 711.90,318.59 712.50,316.95 713.10,315.29 713.70,313.63 714.30,311.96 714.90,310.30 715.50,308.65 716.10,307.02 716.70,305.41 717.30,303.82 717.90,302.26 718.50,300.72 719.10,299.22 719.70,297.75 720.30,296.32 720.90,294.92 721.50,293.56 722.10,292.23 722.70,290.94 723.30,289.68 723.90,288.46 724.50,287.27 725.10,286.11 725.70,284.99 726.30,283.89 726.90,282.82 727.50,281.78 728.10,280.76 728.70,279.77 729.30,278.80 729.90,277.85 730.50,276.92 731.10,276.01 731.70,275.12 732.30,274.25 732.90,273.39 733.50,272.55 734.10,271.72 734.70,270.91 735.30,270.12 735.90,269.33 736.50,268.57 737.10,267.81 737.70,267.08 738.30,266.35 738.90,265.64 739.50,264.95 740.10,264.27 740.70,263.60 741.30,262.95 741.90,262.31 742.50,261.68 743.10,261.08 743.70,260.48 744.30,259.90 744.90,259.33 745.50,258.78 746.10,258.24 746.70,257.72 747.30,257.20 747.90,256.71 748.50,256.22 749.10,255.75 749.70,255.29 750.30,254.84 750.90,254.41 751.50,253.98 752.10,253.57 752.70,253.17 753.30,252.79 753.90,252.41 754.50,252.04 755.10,251.69 755.70,251.34 756.30,251.01 756.90,250.68 757.50,250.36 758.10,250.06 758.70,249.76 759.30,249.47 759.90,249.19 760.50,248.92 761.10,248.65 761.70,248.40 762.30,248.15 762.90,247.91 763.50,247.67 764.10,247.45 764.70,247.23 765.30,247.01 765.90,246.81 766.50,246.61 767.10,246.41 767.70,246.22 768.30,246.04 768.90,245.87 769.50,245.69 770.10,245.53 770.70,245.37 771.30,245.21 771.90,245.06 772.50,244.91 773.10,244.77 773.70,244.64 774.30,244.50 774.90,244.37 775.50,244.25 776.10,244.13 776.70,244.01 777.30,243.90 777.90,243.78 778.50,243.68 779.10,243.57 779.70,243.47 780.30,243.37 780.90,243.28 781.50,243.19 782.10,243.10 782.70,243.01 783.30,242.93 783.90,242.85 784.50,242.77 785.10,242.69 785.70,242.61 786.30,242.54 786.90,242.47 787.50,242.40 788.10,242.33 788.70,242.27 789.30,242.21 789.90,242.14 790.50,242.08 791.10,242.03 791.70,241.97 792.30,241.91 792.90,241.86 793.50,241.81 794.10,241.76 794.70,241.71 795.30,241.66 795.90,241.61 796.50,241.56 797.10,241.52 797.70,241.48 798.30,241.43 798.90,241.39 799.50,241.35 800.10,241.31 800.70,241.27 801.30,241.23 801.90,241.20 802.50,241.16 803.10,241.12 803.70,241.09 804.30,241.06 804.90,241.02 805.50,240.99 806.10,240.96 806.70,240.93 807.30,240.90 807.90,240.87 808.50,240.84 809.10,240.81 809.70,240.78 810.30,240.76 810.90,240.73 811.50,240.70 812.10,240.68 812.70,240.65 813.30,240.63 813.90,240.61 814.50,240.58 815.10,240.56 815.70,240.54 816.30,240.52 816.90,240.50 817.50,240.47 818.10,240.45 818.70,240.43 819.30,240.41 819.90,240.40 820.50,240.38 821.10,240.36" fill="none" stroke="#e8383e" stroke-width="1.3" stroke-linejoin="round" /><polyline points="612.90,239.00 613.50,239.03 614.10,239.07 614.70,239.10 615.30,239.14 615.90,239.17 616.50,239.21 617.10,239.24 617.70,239.28 618.30,239.32 618.90,239.36 619.50,239.40 620.10,239.44 620.70,239.48 621.30,239.52 621.90,239.56 622.50,239.61 623.10,239.65 623.70,239.70 624.30,239.74 624.90,239.79 625.50,239.83 626.10,239.88 626.70,239.93 627.30,239.98 627.90,240.03 628.50,240.09 629.10,240.14 629.70,240.20 630.30,240.25 630.90,240.31 631.50,240.37 632.10,240.43 632.70,240.49 633.30,240.55 633.90,240.61 634.50,240.68 635.10,240.74 635.70,240.81 636.30,240.88 636.90,240.95 637.50,241.03 638.10,241.10 638.70,241.18 639.30,241.26 639.90,241.34 640.50,241.42 641.10,241.51 641.70,241.59 642.30,241.68 642.90,241.77 643.50,241.87 644.10,241.97 644.70,242.07 645.30,242.17 645.90,242.27 646.50,242.38 647.10,242.49 647.70,242.61 648.30,242.73 648.90,242.85 649.50,242.97 650.10,243.10 650.70,243.23 651.30,243.37 651.90,243.51 652.50,243.66 653.10,243.81 653.70,243.96 654.30,244.13 654.90,244.29 655.50,244.46 656.10,244.64 656.70,244.82 657.30,245.01 657.90,245.21 658.50,245.41 659.10,245.62 659.70,245.84 660.30,246.07 660.90,246.31 661.50,246.55 662.10,246.80 662.70,247.07 663.30,247.34 663.90,247.62 664.50,247.92 665.10,248.23 665.70,248.55 666.30,248.88 666.90,249.23 667.50,249.59 668.10,249.97 668.70,250.36 669.30,250.77 669.90,251.20 670.50,251.65 671.10,252.12 671.70,252.60 672.30,253.11 672.90,253.65 673.50,254.21 674.10,254.79 674.70,255.40 675.30,256.04 675.90,256.71 676.50,257.41 677.10,258.15 677.70,258.92 678.30,259.72 678.90,260.57 679.50,261.45 680.10,262.38 680.70,263.34 681.30,264.36 681.90,265.41 682.50,266.52 683.10,267.67 683.70,268.88 684.30,270.13 684.90,271.43 685.50,272.78 686.10,274.18 686.70,275.63 687.30,277.12 687.90,278.65 688.50,280.21 689.10,281.81 689.70,283.43 690.30,285.07 690.90,286.70 691.50,288.34 692.10,289.95 692.70,291.53 693.30,293.05 693.90,294.51 694.50,295.89 695.10,297.16 695.70,298.31 696.30,299.32 696.90,300.18 697.50,300.88 698.10,301.39 698.70,301.72 699.30,301.86 699.90,301.81 700.50,301.57 701.10,301.14 701.70,300.54 702.30,299.78 702.90,298.88 703.50,297.84 704.10,296.69 704.70,295.44 705.30,294.12 705.90,292.74 706.50,291.31 707.10,289.86 707.70,288.39 708.30,286.92 708.90,285.46 709.50,284.02 710.10,282.61 710.70,281.23 711.30,279.89 711.90,278.59 712.50,277.34 713.10,276.13 713.70,274.98 714.30,273.87 714.90,272.82 715.50,271.81 716.10,270.85 716.70,269.94 717.30,269.08 717.90,268.27 718.50,267.49 719.10,266.76 719.70,266.07 720.30,265.42 720.90,264.80 721.50,264.22 722.10,263.67 722.70,263.15 723.30,262.66 723.90,262.19 724.50,261.76 725.10,261.34 725.70,260.95 726.30,260.58 726.90,260.22 727.50,259.89 728.10,259.57 728.70,259.26 729.30,258.97 729.90,258.69 730.50,258.41 731.10,258.15 731.70,257.90 732.30,257.65 732.90,257.41 733.50,257.17 734.10,256.94 734.70,256.71 735.30,256.48 735.90,256.25 736.50,256.03 737.10,255.80 737.70,255.58 738.30,255.36 738.90,255.13 739.50,254.91 740.10,254.68 740.70,254.45 741.30,254.22 741.90,253.99 742.50,253.76 743.10,253.53 743.70,253.29 744.30,253.06 744.90,252.82 745.50,252.58 746.10,252.35 746.70,252.11 747.30,251.87 747.90,251.64 748.50,251.40 749.10,251.16 749.70,250.93 750.30,250.70 750.90,250.46 751.50,250.23 752.10,250.01 752.70,249.78 753.30,249.55 753.90,249.33 754.50,249.11 755.10,248.89 755.70,248.68 756.30,248.47 756.90,248.26 757.50,248.06 758.10,247.85 758.70,247.65 759.30,247.46 759.90,247.27 760.50,247.08 761.10,246.89 761.70,246.71 762.30,246.53 762.90,246.36 763.50,246.19 764.10,246.02 764.70,245.86 765.30,245.69 765.90,245.54 766.50,245.38 767.10,245.24 767.70,245.09 768.30,244.95 768.90,244.81 769.50,244.67 770.10,244.54 770.70,244.41 771.30,244.28 771.90,244.16 772.50,244.04 773.10,243.93 773.70,243.81 774.30,243.70 774.90,243.60 775.50,243.49 776.10,243.39 776.70,243.29 777.30,243.20 777.90,243.11 778.50,243.02 779.10,242.93 779.70,242.85 780.30,242.76 780.90,242.69 781.50,242.61 782.10,242.53 782.70,242.46 783.30,242.39 783.90,242.32 784.50,242.26 785.10,242.19 785.70,242.13 786.30,242.07 786.90,242.02 787.50,241.96 788.10,241.91 788.70,241.85 789.30,241.80 789.90,241.75 790.50,241.71 791.10,241.66 791.70,241.61 792.30,241.57 792.90,241.53 793.50,241.49 794.10,241.45 794.70,241.41 795.30,241.38 795.90,241.34 796.50,241.31 797.10,241.27 797.70,241.24 798.30,241.21 798.90,241.18 799.50,241.15 800.10,241.12 800.70,241.10 801.30,241.07 801.90,241.04 802.50,241.02 803.10,240.99 803.70,240.97 804.30,240.95 804.90,240.93 805.50,240.90 806.10,240.88 806.70,240.86 807.30,240.84 807.90,240.83 808.50,240.81 809.10,240.79 809.70,240.77 810.30,240.76 810.90,240.74 811.50,240.72 812.10,240.71 812.70,240.69 813.30,240.68 813.90,240.66 814.50,240.65 815.10,240.64 815.70,240.62 816.30,240.61 816.90,240.60 817.50,240.59 818.10,240.58 818.70,240.56 819.30,240.55 819.90,240.54 820.50,240.53 821.10,240.52" fill="none" stroke="#3c9de0" stroke-width="1.3" stroke-linejoin="round" /><line x1="698.60" y1="296.70" x2="698.60" y2="307.30" stroke="#333" stroke-width="1.3" /><line x1="702.50" y1="331.30" x2="702.50" y2="341.30" stroke="#333" stroke-width="1.3" /><line x1="701.80" y1="341.30" x2="701.80" y2="352.70" stroke="#555" stroke-width="1.3" /><line x1="750.80" y1="243.00" x2="750.80" y2="265.50" stroke="#333" stroke-width="1.1" stroke-dasharray="1,1.1"/><line x1="665.20" y1="322.50" x2="681.50" y2="313.00" stroke="#000" stroke-width="1.0" /><polygon points="684.80,311.00 679.60,311.40 681.90,315.20" fill="#000" /><text x="631" y="299.9" font-size="9.2" fill="#3c9de0" textLength="49.3" lengthAdjust="spacingAndGlyphs" stroke="#3c9de0" stroke-width="0.22">1767.5 cm<tspan font-size="6.3" dy="-3.4">-1</tspan></text><text x="714.9" y="332.7" font-size="9.2" fill="#ee4a62" textLength="47.7" lengthAdjust="spacingAndGlyphs" stroke="#ee4a62" stroke-width="0.22">1763.4 cm<tspan font-size="6.3" dy="-3.4">-1</tspan></text><text x="705.6" y="357.7" font-size="9.2" fill="#e8945a" textLength="48.4" lengthAdjust="spacingAndGlyphs" stroke="#e8945a" stroke-width="0.22">1765.2 cm<tspan font-size="6.3" dy="-3.4">-1</tspan></text><text x="666.00" y="332.00" font-size="9.26" fill="#111" stroke="#111" stroke-width="0.22" textLength="19.30" lengthAdjust="spacingAndGlyphs" >C=O</text><text x="754.00" y="272.00" font-size="9.22" fill="#111" stroke="#111" stroke-width="0.22" textLength="18.70" lengthAdjust="spacingAndGlyphs" >C=N</text><line x1="617.20" y1="358.40" x2="635.80" y2="358.40" stroke="#e0844c" stroke-width="1.3" /><text x="638.50" y="361.60" font-size="8.75" fill="#111" stroke="#111" stroke-width="0.22" textLength="17.20" lengthAdjust="spacingAndGlyphs" >GVL</text><line x1="617.20" y1="369.00" x2="635.80" y2="369.00" stroke="#e8383e" stroke-width="1.3" /><text x="638.50" y="372.20" font-size="8.75" fill="#111" stroke="#111" stroke-width="0.22" textLength="63.20" lengthAdjust="spacingAndGlyphs" >GVL+Perovskite</text><line x1="617.20" y1="380.00" x2="635.80" y2="380.00" stroke="#3c9de0" stroke-width="1.3" /><text x="638.50" y="383.20" font-size="8.75" fill="#111" stroke="#111" stroke-width="0.22" textLength="102.80" lengthAdjust="spacingAndGlyphs" >GVL:2-MeTHF+Perovskite</text><rect x="612.3" y="226.0" width="209.70" height="168.30" fill="none" stroke="#222" stroke-width="1.3"/><line x1="612.30" y1="238.80" x2="608.90" y2="238.80" stroke="#222" stroke-width="1.0" /><line x1="612.30" y1="257.01" x2="608.90" y2="257.01" stroke="#222" stroke-width="1.0" /><line x1="612.30" y1="275.22" x2="608.90" y2="275.22" stroke="#222" stroke-width="1.0" /><line x1="612.30" y1="293.43" x2="608.90" y2="293.43" stroke="#222" stroke-width="1.0" /><line x1="612.30" y1="311.64" x2="608.90" y2="311.64" stroke="#222" stroke-width="1.0" /><line x1="612.30" y1="329.85" x2="608.90" y2="329.85" stroke="#222" stroke-width="1.0" /><line x1="612.30" y1="348.06" x2="608.90" y2="348.06" stroke="#222" stroke-width="1.0" /><line x1="612.30" y1="366.27" x2="608.90" y2="366.27" stroke="#222" stroke-width="1.0" /><line x1="612.30" y1="384.48" x2="608.90" y2="384.48" stroke="#222" stroke-width="1.0" /><line x1="612.30" y1="229.70" x2="610.30" y2="229.70" stroke="#222" stroke-width="0.9" /><line x1="612.30" y1="247.91" x2="610.30" y2="247.91" stroke="#222" stroke-width="0.9" /><line x1="612.30" y1="266.12" x2="610.30" y2="266.12" stroke="#222" stroke-width="0.9" /><line x1="612.30" y1="284.33" x2="610.30" y2="284.33" stroke="#222" stroke-width="0.9" /><line x1="612.30" y1="302.54" x2="610.30" y2="302.54" stroke="#222" stroke-width="0.9" /><line x1="612.30" y1="320.75" x2="610.30" y2="320.75" stroke="#222" stroke-width="0.9" /><line x1="612.30" y1="338.96" x2="610.30" y2="338.96" stroke="#222" stroke-width="0.9" /><line x1="612.30" y1="357.17" x2="610.30" y2="357.17" stroke="#222" stroke-width="0.9" /><line x1="612.30" y1="375.38" x2="610.30" y2="375.38" stroke="#222" stroke-width="0.9" /><line x1="612.30" y1="394.30" x2="612.30" y2="397.70" stroke="#222" stroke-width="1.1" /><text x="612.30" y="408.00" font-size="9.3" fill="#111" stroke="#111" stroke-width="0.22" text-anchor="middle" textLength="20.70" lengthAdjust="spacingAndGlyphs" >1850</text><line x1="664.80" y1="394.30" x2="664.80" y2="397.70" stroke="#222" stroke-width="1.1" /><text x="664.80" y="408.00" font-size="9.3" fill="#111" stroke="#111" stroke-width="0.22" text-anchor="middle" textLength="20.70" lengthAdjust="spacingAndGlyphs" >1800</text><line x1="717.30" y1="394.30" x2="717.30" y2="397.70" stroke="#222" stroke-width="1.1" /><text x="717.30" y="408.00" font-size="9.3" fill="#111" stroke="#111" stroke-width="0.22" text-anchor="middle" textLength="20.70" lengthAdjust="spacingAndGlyphs" >1750</text><line x1="769.80" y1="394.30" x2="769.80" y2="397.70" stroke="#222" stroke-width="1.1" /><text x="769.80" y="408.00" font-size="9.3" fill="#111" stroke="#111" stroke-width="0.22" text-anchor="middle" textLength="20.70" lengthAdjust="spacingAndGlyphs" >1700</text><line x1="822.30" y1="394.30" x2="822.30" y2="397.70" stroke="#222" stroke-width="1.1" /><text x="822.30" y="408.00" font-size="9.3" fill="#111" stroke="#111" stroke-width="0.22" text-anchor="middle" textLength="20.70" lengthAdjust="spacingAndGlyphs" >1650</text><line x1="638.55" y1="394.30" x2="638.55" y2="396.30" stroke="#222" stroke-width="1.0" /><line x1="691.05" y1="394.30" x2="691.05" y2="396.30" stroke="#222" stroke-width="1.0" /><line x1="743.55" y1="394.30" x2="743.55" y2="396.30" stroke="#222" stroke-width="1.0" /><line x1="796.05" y1="394.30" x2="796.05" y2="396.30" stroke="#222" stroke-width="1.0" /><text x="669.1" y="425.4" font-size="9.98" fill="#111" textLength="93.3" lengthAdjust="spacingAndGlyphs" stroke="#111" stroke-width="0.22">Wave number (cm<tspan font-size="6.8" dy="-3.6">-1</tspan><tspan dy="3.6">)</tspan></text><text transform="translate(596.0,306.9) rotate(-90)" x="0" y="0" font-size="10.2" text-anchor="middle" fill="#111" textLength="82.9" lengthAdjust="spacingAndGlyphs" stroke="#111" stroke-width="0.22">Transmittance (%)</text><rect x="10.00" y="440.00" width="826.00" height="242.00" fill="#fbfbfb" /><text x="13.60" y="467.00" font-size="17.46" fill="#000" font-weight="bold" textLength="7.60" lengthAdjust="spacingAndGlyphs" >F</text><rect x="43.6" y="457.2" width="163" height="114.4" fill="#fcfcfc" stroke="#cfcfcf" stroke-width="1"/><polyline points="44.00,570.57 44.25,570.57 44.50,570.57 44.75,570.57 45.00,570.57 45.25,570.57 45.50,570.57 45.75,570.57 46.00,570.57 46.25,570.57 46.50,570.57 46.75,570.57 47.00,570.57 47.25,570.57 47.50,570.57 47.75,570.57 48.00,570.57 48.25,570.57 48.50,570.57 48.75,570.57 49.00,570.57 49.25,570.57 49.50,570.57 49.75,570.57 50.00,570.57 50.25,570.57 50.50,570.57 50.75,570.57 51.00,570.57 51.25,570.56 51.50,570.56 51.75,570.56 52.00,570.56 52.25,570.56 52.50,570.56 52.75,570.56 53.00,570.56 53.25,570.56 53.50,570.56 53.75,570.56 54.00,570.56 54.25,570.56 54.50,570.56 54.75,570.56 55.00,570.56 55.25,570.56 55.50,570.56 55.75,570.56 56.00,570.56 56.25,570.56 56.50,570.56 56.75,570.55 57.00,570.55 57.25,570.55 57.50,570.55 57.75,570.55 58.00,570.55 58.25,570.55 58.50,570.55 58.75,570.55 59.00,570.55 59.25,570.55 59.50,570.55 59.75,570.55 60.00,570.55 60.25,570.54 60.50,570.54 60.75,570.54 61.00,570.54 61.25,570.54 61.50,570.54 61.75,570.54 62.00,570.54 62.25,570.54 62.50,570.54 62.75,570.53 63.00,570.53 63.25,570.53 63.50,570.53 63.75,570.53 64.00,570.53 64.25,570.53 64.50,570.52 64.75,570.52 65.00,570.52 65.25,570.52 65.50,570.52 65.75,570.51 66.00,570.51 66.25,570.51 66.50,570.51 66.75,570.50 67.00,570.50 67.25,570.50 67.50,570.49 67.75,570.49 68.00,570.48 68.25,570.48 68.50,570.47 68.75,570.46 69.00,570.46 69.25,570.45 69.50,570.44 69.75,570.43 70.00,570.41 70.25,570.40 70.50,570.38 70.75,570.36 71.00,570.33 71.25,570.29 71.50,570.25 71.75,570.19 72.00,570.11 72.25,570.00 72.50,569.84 72.75,569.61 73.00,569.27 73.25,568.76 73.50,568.08 73.75,567.47 74.00,567.39 74.25,567.93 74.50,568.62 74.75,569.16 75.00,569.53 75.25,569.77 75.50,569.93 75.75,570.05 76.00,570.13 76.25,570.18 76.50,570.22 76.75,570.25 77.00,570.28 77.25,570.29 77.50,570.30 77.75,570.31 78.00,570.31 78.25,570.32 78.50,570.32 78.75,570.31 79.00,570.31 79.25,570.30 79.50,570.29 79.75,570.28 80.00,570.26 80.25,570.24 80.50,570.21 80.75,570.18 81.00,570.14 81.25,570.10 81.50,570.04 81.75,569.95 82.00,569.85 82.25,569.70 82.50,569.50 82.75,569.20 83.00,568.76 83.25,568.10 83.50,567.17 83.75,566.13 84.00,565.62 84.25,566.12 84.50,567.14 84.75,568.05 85.00,568.69 85.25,569.12 85.50,569.40 85.75,569.59 86.00,569.71 86.25,569.80 86.50,569.86 86.75,569.90 87.00,569.93 87.25,569.94 87.50,569.94 87.75,569.94 88.00,569.92 88.25,569.90 88.50,569.87 88.75,569.84 89.00,569.79 89.25,569.74 89.50,569.67 89.75,569.58 90.00,569.48 90.25,569.35 90.50,569.20 90.75,568.99 91.00,568.74 91.25,568.40 91.50,567.95 91.75,567.33 92.00,566.47 92.25,565.23 92.50,563.45 92.75,560.97 93.00,557.93 93.25,555.37 93.50,555.07 93.75,557.28 94.00,560.32 94.25,562.91 94.50,564.79 94.75,566.08 95.00,566.98 95.25,567.60 95.50,568.04 95.75,568.36 96.00,568.59 96.25,568.75 96.50,568.87 96.75,568.95 97.00,569.00 97.25,569.03 97.50,569.03 97.75,569.01 98.00,568.97 98.25,568.91 98.50,568.82 98.75,568.71 99.00,568.57 99.25,568.40 99.50,568.18 99.75,567.91 100.00,567.57 100.25,567.15 100.50,566.59 100.75,565.87 101.00,564.92 101.25,563.63 101.50,561.86 101.75,559.39 102.00,555.97 102.25,551.45 102.50,546.26 102.75,542.15 103.00,541.66 103.25,545.10 103.50,550.15 103.75,554.75 104.00,558.25 104.25,560.74 104.50,562.46 104.75,563.63 105.00,564.41 105.25,564.88 105.50,565.11 105.75,565.11 106.00,564.87 106.25,564.36 106.50,563.51 106.75,562.16 107.00,560.11 107.25,557.12 107.50,553.13 107.75,549.00 108.00,547.07 108.25,548.98 108.50,553.08 108.75,557.05 109.00,560.02 109.25,562.03 109.50,563.35 109.75,564.17 110.00,564.63 110.25,564.82 110.50,564.75 110.75,564.44 111.00,563.85 111.25,562.92 111.50,561.54 111.75,559.52 112.00,556.63 112.25,552.64 112.50,547.68 112.75,542.90 113.00,540.78 113.25,542.89 113.50,547.65 113.75,552.60 114.00,556.57 114.25,559.43 114.50,561.41 114.75,562.74 115.00,563.59 115.25,564.07 115.50,564.22 115.75,564.05 116.00,563.52 116.25,562.52 116.50,560.89 116.75,558.37 117.00,554.80 117.25,550.55 117.50,547.48 117.75,547.99 118.00,551.74 118.25,556.18 118.50,559.79 118.75,562.38 119.00,564.18 119.25,565.44 119.50,566.33 119.75,566.97 120.00,567.43 120.25,567.75 120.50,567.95 120.75,568.03 121.00,567.97 121.25,567.73 121.50,567.24 121.75,566.58 122.00,566.26 122.25,566.76 122.50,567.61 122.75,568.30 123.00,568.77 123.25,569.07 123.50,569.28 123.75,569.42 124.00,569.52 124.25,569.59 124.50,569.64 124.75,569.66 125.00,569.66 125.25,569.64 125.50,569.58 125.75,569.47 126.00,569.28 126.25,568.96 126.50,568.46 126.75,567.83 127.00,567.50 127.25,567.86 127.50,568.51 127.75,569.05 128.00,569.40 128.25,569.62 128.50,569.76 128.75,569.85 129.00,569.91 129.25,569.95 129.50,569.96 129.75,569.96 130.00,569.94 130.25,569.90 130.50,569.82 130.75,569.70 131.00,569.49 131.25,569.16 131.50,568.65 131.75,568.01 132.00,567.66 132.25,568.01 132.50,568.66 132.75,569.19 133.00,569.53 133.25,569.74 133.50,569.88 133.75,569.96 134.00,570.01 134.25,570.03 134.50,570.03 134.75,570.01 135.00,569.96 135.25,569.87 135.50,569.71 135.75,569.45 136.00,569.04 136.25,568.53 136.50,568.26 136.75,568.55 137.00,569.07 137.25,569.50 137.50,569.78 137.75,569.95 138.00,570.07 138.25,570.15 138.50,570.20 138.75,570.24 139.00,570.27 139.25,570.30 139.50,570.31 139.75,570.33 140.00,570.34 140.25,570.35 140.50,570.35 140.75,570.36 141.00,570.36 141.25,570.36 141.50,570.36 141.75,570.36 142.00,570.36 142.25,570.36 142.50,570.35 142.75,570.35 143.00,570.34 143.25,570.34 143.50,570.33 143.75,570.32 144.00,570.31 144.25,570.30 144.50,570.28 144.75,570.27 145.00,570.25 145.25,570.22 145.50,570.19 145.75,570.16 146.00,570.12 146.25,570.08 146.50,570.02 146.75,569.95 147.00,569.86 147.25,569.75 147.50,569.60 147.75,569.40 148.00,569.11 148.25,568.71 148.50,568.11 148.75,567.22 149.00,565.97 149.25,564.58 149.50,563.88 149.75,564.53 150.00,565.88 150.25,567.07 150.50,567.91 150.75,568.46 151.00,568.81 151.25,569.04 151.50,569.18 151.75,569.27 152.00,569.31 152.25,569.32 152.50,569.31 152.75,569.27 153.00,569.20 153.25,569.10 153.50,568.96 153.75,568.75 154.00,568.44 154.25,567.97 154.50,567.28 154.75,566.42 155.00,565.91 155.25,566.22 155.50,566.86 155.75,567.32 156.00,567.52 156.25,567.48 156.50,567.23 156.75,566.71 157.00,565.87 157.25,564.79 157.50,564.17 157.75,564.65 158.00,565.58 158.25,566.28 158.50,566.66 158.75,566.79 159.00,566.70 159.25,566.41 159.50,565.89 159.75,565.20 160.00,564.77 160.25,565.01 160.50,565.51 160.75,565.84 161.00,565.93 161.25,565.79 161.50,565.41 161.75,564.73 162.00,563.66 162.25,562.31 162.50,561.54 162.75,562.14 163.00,563.31 163.25,564.21 163.50,564.70 163.75,564.87 164.00,564.77 164.25,564.40 164.50,563.72 164.75,562.81 165.00,562.29 165.25,562.72 165.50,563.52 165.75,564.11 166.00,564.38 166.25,564.38 166.50,564.12 166.75,563.53 167.00,562.54 167.25,561.27 167.50,560.57 167.75,561.24 168.00,562.49 168.25,563.45 168.50,564.00 168.75,564.22 169.00,564.17 169.25,563.82 169.50,563.11 169.75,562.17 170.00,561.68 170.25,562.27 170.50,563.31 170.75,564.12 171.00,564.60 171.25,564.80 171.50,564.77 171.75,564.48 172.00,563.89 172.25,563.09 172.50,562.67 172.75,563.19 173.00,564.11 173.25,564.80 173.50,565.18 173.75,565.28 174.00,565.12 174.25,564.63 174.50,563.74 174.75,562.57 175.00,561.97 175.25,562.74 175.50,564.08 175.75,565.15 176.00,565.81 176.25,566.16 176.50,566.25 176.75,566.09 177.00,565.66 177.25,565.02 177.50,564.71 177.75,565.20 178.00,566.01 178.25,566.64 178.50,566.99 178.75,567.10 179.00,567.00 179.25,566.62 179.50,565.92 179.75,564.99 180.00,564.50 180.25,565.11 180.50,566.17 180.75,566.99 181.00,567.49 181.25,567.72 181.50,567.72 181.75,567.49 182.00,566.98 182.25,566.28 182.50,565.90 182.75,566.31 183.00,567.03 183.25,567.54 183.50,567.74 183.75,567.64 184.00,567.25 184.25,566.52 184.50,565.58 184.75,564.98 185.00,565.39 185.25,566.46 185.50,567.51 185.75,568.28 186.00,568.81 186.25,569.17 186.50,569.43 186.75,569.62 187.00,569.76 187.25,569.87 187.50,569.95 187.75,570.02 188.00,570.08 188.25,570.13 188.50,570.18 188.75,570.21 189.00,570.24 189.25,570.27 189.50,570.30 189.75,570.32 190.00,570.34 190.25,570.36 190.50,570.37 190.75,570.39 191.00,570.40 191.25,570.41 191.50,570.42 191.75,570.43 192.00,570.44 192.25,570.45 192.50,570.46 192.75,570.47 193.00,570.47 193.25,570.48 193.50,570.49 193.75,570.49 194.00,570.50 194.25,570.50 194.50,570.50 194.75,570.51 195.00,570.51 195.25,570.52 195.50,570.52 195.75,570.52 196.00,570.52 196.25,570.53 196.50,570.53 196.75,570.53 197.00,570.53 197.25,570.54 197.50,570.54 197.75,570.54 198.00,570.54 198.25,570.54 198.50,570.54 198.75,570.54 199.00,570.55 199.25,570.55 199.50,570.55 199.75,570.55 200.00,570.55 200.25,570.55 200.50,570.55 200.75,570.55 201.00,570.55 201.25,570.56 201.50,570.56 201.75,570.56 202.00,570.56 202.25,570.56 202.50,570.56 202.75,570.56 203.00,570.56 203.25,570.56 203.50,570.56 203.75,570.56 204.00,570.56 204.25,570.56 204.50,570.56 204.75,570.56 205.00,570.57 205.25,570.57 205.50,570.57 205.75,570.57 206.00,570.57" fill="none" stroke="#bdbdbd" stroke-width="1.1" stroke-linejoin="round" /><polyline points="44.00,548.10 44.25,548.09 44.50,548.09 44.75,548.09 45.00,548.09 45.25,548.09 45.50,548.09 45.75,548.08 46.00,548.08 46.25,548.08 46.50,548.08 46.75,548.08 47.00,548.08 47.25,548.07 47.50,548.07 47.75,548.07 48.00,548.07 48.25,548.07 48.50,548.06 48.75,548.06 49.00,548.06 49.25,548.06 49.50,548.06 49.75,548.05 50.00,548.05 50.25,548.05 50.50,548.05 50.75,548.04 51.00,548.04 51.25,548.04 51.50,548.03 51.75,548.03 52.00,548.03 52.25,548.02 52.50,548.02 52.75,548.02 53.00,548.01 53.25,548.01 53.50,548.01 53.75,548.00 54.00,548.00 54.25,548.00 54.50,547.99 54.75,547.99 55.00,547.98 55.25,547.98 55.50,547.97 55.75,547.97 56.00,547.96 56.25,547.96 56.50,547.95 56.75,547.95 57.00,547.94 57.25,547.94 57.50,547.93 57.75,547.92 58.00,547.92 58.25,547.91 58.50,547.90 58.75,547.89 59.00,547.89 59.25,547.88 59.50,547.87 59.75,547.86 60.00,547.85 60.25,547.84 60.50,547.83 60.75,547.82 61.00,547.81 61.25,547.80 61.50,547.78 61.75,547.77 62.00,547.76 62.25,547.74 62.50,547.73 62.75,547.71 63.00,547.69 63.25,547.68 63.50,547.66 63.75,547.64 64.00,547.62 64.25,547.59 64.50,547.57 64.75,547.55 65.00,547.52 65.25,547.49 65.50,547.46 65.75,547.43 66.00,547.39 66.25,547.35 66.50,547.31 66.75,547.27 67.00,547.22 67.25,547.17 67.50,547.12 67.75,547.06 68.00,547.00 68.25,546.93 68.50,546.85 68.75,546.76 69.00,546.67 69.25,546.57 69.50,546.46 69.75,546.33 70.00,546.19 70.25,546.03 70.50,545.86 70.75,545.66 71.00,545.43 71.25,545.17 71.50,544.88 71.75,544.53 72.00,544.13 72.25,543.66 72.50,543.11 72.75,542.45 73.00,541.65 73.25,540.68 73.50,539.47 73.75,537.97 74.00,536.05 74.25,533.58 74.50,530.34 74.75,526.02 75.00,520.19 75.25,512.27 75.50,501.67 75.75,488.29 76.00,473.79 76.25,462.97 76.50,461.82 76.75,471.11 77.00,485.36 77.25,499.17 77.50,510.34 77.75,518.74 78.00,524.93 78.25,529.50 78.50,532.92 78.75,535.51 79.00,537.51 79.25,539.08 79.50,540.32 79.75,541.32 80.00,542.13 80.25,542.80 80.50,543.36 80.75,543.82 81.00,544.20 81.25,544.53 81.50,544.80 81.75,545.03 82.00,545.22 82.25,545.37 82.50,545.48 82.75,545.56 83.00,545.60 83.25,545.59 83.50,545.52 83.75,545.37 84.00,545.11 84.25,544.68 84.50,543.98 84.75,542.91 85.00,541.47 85.25,540.15 85.50,540.03 85.75,541.28 86.00,542.85 86.25,544.09 86.50,544.95 86.75,545.52 87.00,545.91 87.25,546.18 87.50,546.37 87.75,546.51 88.00,546.61 88.25,546.68 88.50,546.73 88.75,546.76 89.00,546.78 89.25,546.78 89.50,546.77 89.75,546.74 90.00,546.70 90.25,546.64 90.50,546.56 90.75,546.45 91.00,546.31 91.25,546.13 91.50,545.89 91.75,545.57 92.00,545.15 92.25,544.56 92.50,543.75 92.75,542.59 93.00,540.92 93.25,538.53 93.50,535.39 93.75,532.16 94.00,530.65 94.25,532.14 94.50,535.35 94.75,538.48 95.00,540.85 95.25,542.51 95.50,543.65 95.75,544.45 96.00,545.01 96.25,545.42 96.50,545.71 96.75,545.93 97.00,546.09 97.25,546.20 97.50,546.28 97.75,546.33 98.00,546.36 98.25,546.37 98.50,546.35 98.75,546.32 99.00,546.27 99.25,546.20 99.50,546.11 99.75,545.99 100.00,545.85 100.25,545.68 100.50,545.47 100.75,545.22 101.00,544.91 101.25,544.53 101.50,544.06 101.75,543.47 102.00,542.72 102.25,541.76 102.50,540.51 102.75,538.84 103.00,536.61 103.25,533.58 103.50,529.49 103.75,524.17 104.00,517.94 104.25,512.30 104.50,509.89 104.75,512.23 105.00,517.81 105.25,523.97 105.50,529.22 105.75,533.23 106.00,536.17 106.25,538.31 106.50,539.86 106.75,540.99 107.00,541.81 107.25,542.39 107.50,542.78 107.75,543.00 108.00,543.08 108.25,543.00 108.50,542.74 108.75,542.28 109.00,541.53 109.25,540.37 109.50,538.65 109.75,536.10 110.00,532.55 110.25,528.36 110.50,525.28 110.75,525.62 111.00,529.02 111.25,533.06 111.50,536.28 111.75,538.49 112.00,539.90 112.25,540.72 112.50,541.09 112.75,541.09 113.00,540.73 113.25,539.98 113.50,538.75 113.75,536.86 114.00,534.09 114.25,530.24 114.50,525.41 114.75,520.76 115.00,518.74 115.25,520.87 115.50,525.62 115.75,530.57 116.00,534.55 116.25,537.47 116.50,539.53 116.75,540.99 117.00,542.01 117.25,542.73 117.50,543.21 117.75,543.50 118.00,543.64 118.25,543.62 118.50,543.43 118.75,543.05 119.00,542.41 119.25,541.41 119.50,539.90 119.75,537.65 120.00,534.40 120.25,530.22 120.50,526.28 120.75,525.12 121.00,527.80 121.25,532.20 121.50,536.17 121.75,539.11 122.00,541.15 122.25,542.56 122.50,543.53 122.75,544.20 123.00,544.64 123.25,544.90 123.50,544.97 123.75,544.83 124.00,544.42 124.25,543.65 124.50,542.72 124.75,542.48 125.00,543.34 125.25,544.51 125.50,545.39 125.75,545.98 126.00,546.36 126.25,546.62 126.50,546.80 126.75,546.92 127.00,547.01 127.25,547.07 127.50,547.10 127.75,547.10 128.00,547.08 128.25,547.01 128.50,546.88 128.75,546.65 129.00,546.27 129.25,545.68 129.50,545.02 129.75,544.80 130.00,545.30 130.25,546.00 130.50,546.53 130.75,546.87 131.00,547.07 131.25,547.20 131.50,547.28 131.75,547.32 132.00,547.33 132.25,547.30 132.50,547.25 132.75,547.15 133.00,546.99 133.25,546.73 133.50,546.30 133.75,545.63 134.00,544.64 134.25,543.64 134.50,543.52 134.75,544.43 135.00,545.48 135.25,546.24 135.50,546.71 135.75,547.01 136.00,547.21 136.25,547.33 136.50,547.41 136.75,547.46 137.00,547.47 137.25,547.46 137.50,547.42 137.75,547.34 138.00,547.20 138.25,546.96 138.50,546.57 138.75,545.98 139.00,545.31 139.25,545.08 139.50,545.58 139.75,546.28 140.00,546.82 140.25,547.16 140.50,547.38 140.75,547.52 141.00,547.62 141.25,547.69 141.50,547.74 141.75,547.78 142.00,547.80 142.25,547.83 142.50,547.84 142.75,547.85 143.00,547.86 143.25,547.87 143.50,547.88 143.75,547.88 144.00,547.88 144.25,547.88 144.50,547.88 144.75,547.88 145.00,547.87 145.25,547.87 145.50,547.86 145.75,547.86 146.00,547.85 146.25,547.84 146.50,547.83 146.75,547.81 147.00,547.80 147.25,547.78 147.50,547.77 147.75,547.75 148.00,547.72 148.25,547.70 148.50,547.68 148.75,547.65 149.00,547.61 149.25,547.58 149.50,547.54 149.75,547.49 150.00,547.44 150.25,547.38 150.50,547.31 150.75,547.24 151.00,547.14 151.25,547.03 151.50,546.89 151.75,546.72 152.00,546.50 152.25,546.20 152.50,545.79 152.75,545.21 153.00,544.36 153.25,543.12 153.50,541.49 153.75,539.99 154.00,539.74 154.25,540.92 154.50,542.43 154.75,543.58 155.00,544.30 155.25,544.71 155.50,544.87 155.75,544.84 156.00,544.61 156.25,544.11 156.50,543.29 156.75,542.23 157.00,541.63 157.25,542.11 157.50,543.04 157.75,543.75 158.00,544.11 158.25,544.22 158.50,544.09 158.75,543.74 159.00,543.11 159.25,542.28 159.50,541.79 159.75,542.09 160.00,542.71 160.25,543.14 160.50,543.28 160.75,543.18 161.00,542.81 161.25,542.14 161.50,541.06 161.75,539.70 162.00,538.91 162.25,539.49 162.50,540.63 162.75,541.50 163.00,541.94 163.25,542.06 163.50,541.89 163.75,541.42 164.00,540.60 164.25,539.53 164.50,538.90 164.75,539.34 165.00,540.22 165.25,540.85 165.50,541.12 165.75,541.06 166.00,540.70 166.25,539.95 166.50,538.72 166.75,537.15 167.00,536.27 167.25,537.04 167.50,538.49 167.75,539.60 168.00,540.22 168.25,540.46 168.50,540.36 168.75,539.93 169.00,539.09 169.25,537.98 169.50,537.36 169.75,537.96 170.00,539.05 170.25,539.87 170.50,540.29 170.75,540.36 171.00,540.11 171.25,539.46 171.50,538.32 171.75,536.85 172.00,536.06 172.25,536.91 172.50,538.45 172.75,539.64 173.00,540.34 173.25,540.64 173.50,540.60 173.75,540.19 174.00,539.34 174.25,538.20 174.50,537.61 174.75,538.38 175.00,539.72 175.25,540.77 175.50,541.40 175.75,541.70 176.00,541.72 176.25,541.43 176.50,540.79 176.75,539.90 177.00,539.46 177.25,540.09 177.50,541.16 177.75,541.99 178.00,542.46 178.25,542.63 178.50,542.52 178.75,542.07 179.00,541.20 179.25,540.06 179.50,539.48 179.75,540.26 180.00,541.61 180.25,542.67 180.50,543.33 180.75,543.66 181.00,543.72 181.25,543.51 181.50,542.98 181.75,542.22 182.00,541.85 182.25,542.42 182.50,543.37 182.75,544.11 183.00,544.54 183.25,544.71 183.50,544.64 183.75,544.30 184.00,543.63 184.25,542.73 184.50,542.28 184.75,542.93 185.00,544.05 185.25,544.96 185.50,545.56 185.75,545.96 186.00,546.22 186.25,546.39 186.50,546.50 186.75,546.57 187.00,546.59 187.25,546.57 187.50,546.48 187.75,546.32 188.00,546.05 188.25,545.60 188.50,544.90 188.75,543.91 189.00,542.90 189.25,542.60 189.50,543.36 189.75,544.50 190.00,545.46 190.25,546.14 190.50,546.59 190.75,546.91 191.00,547.13 191.25,547.29 191.50,547.42 191.75,547.52 192.00,547.59 192.25,547.66 192.50,547.71 192.75,547.76 193.00,547.79 193.25,547.83 193.50,547.86 193.75,547.88 194.00,547.90 194.25,547.92 194.50,547.94 194.75,547.96 195.00,547.97 195.25,547.99 195.50,548.00 195.75,548.01 196.00,548.02 196.25,548.03 196.50,548.04 196.75,548.05 197.00,548.06 197.25,548.06 197.50,548.07 197.75,548.07 198.00,548.08 198.25,548.09 198.50,548.09 198.75,548.09 199.00,548.10 199.25,548.10 199.50,548.11 199.75,548.11 200.00,548.11 200.25,548.11 200.50,548.12 200.75,548.12 201.00,548.12 201.25,548.12 201.50,548.13 201.75,548.13 202.00,548.13 202.25,548.13 202.50,548.13 202.75,548.14 203.00,548.14 203.25,548.14 203.50,548.14 203.75,548.14 204.00,548.14 204.25,548.14 204.50,548.14 204.75,548.15 205.00,548.15 205.25,548.15 205.50,548.15 205.75,548.15 206.00,548.15" fill="none" stroke="#3a96c6" stroke-width="1.2" stroke-linejoin="round" /><polyline points="44.00,511.11 44.25,511.11 44.50,511.11 44.75,511.11 45.00,511.11 45.25,511.10 45.50,511.10 45.75,511.10 46.00,511.10 46.25,511.10 46.50,511.09 46.75,511.09 47.00,511.09 47.25,511.09 47.50,511.09 47.75,511.08 48.00,511.08 48.25,511.08 48.50,511.08 48.75,511.07 49.00,511.07 49.25,511.07 49.50,511.07 49.75,511.06 50.00,511.06 50.25,511.06 50.50,511.05 50.75,511.05 51.00,511.05 51.25,511.04 51.50,511.04 51.75,511.03 52.00,511.03 52.25,511.03 52.50,511.02 52.75,511.02 53.00,511.01 53.25,511.01 53.50,511.00 53.75,511.00 54.00,510.99 54.25,510.99 54.50,510.98 54.75,510.97 55.00,510.97 55.25,510.96 55.50,510.95 55.75,510.94 56.00,510.94 56.25,510.93 56.50,510.92 56.75,510.91 57.00,510.90 57.25,510.89 57.50,510.88 57.75,510.87 58.00,510.86 58.25,510.84 58.50,510.83 58.75,510.82 59.00,510.80 59.25,510.78 59.50,510.77 59.75,510.75 60.00,510.73 60.25,510.71 60.50,510.69 60.75,510.66 61.00,510.64 61.25,510.61 61.50,510.58 61.75,510.55 62.00,510.51 62.25,510.48 62.50,510.44 62.75,510.39 63.00,510.35 63.25,510.30 63.50,510.24 63.75,510.18 64.00,510.11 64.25,510.03 64.50,509.95 64.75,509.85 65.00,509.75 65.25,509.63 65.50,509.50 65.75,509.35 66.00,509.18 66.25,508.99 66.50,508.77 66.75,508.51 67.00,508.21 67.25,507.85 67.50,507.43 67.75,506.93 68.00,506.32 68.25,505.58 68.50,504.67 68.75,503.52 69.00,502.07 69.25,500.20 69.50,497.75 69.75,494.53 70.00,490.26 70.25,484.63 70.50,477.51 70.75,469.30 71.00,461.71 71.25,457.72 71.50,459.50 71.75,466.04 72.00,474.28 72.25,481.94 72.50,488.16 72.75,492.94 73.00,496.54 73.25,499.26 73.50,501.34 73.75,502.94 74.00,504.19 74.25,505.18 74.50,505.98 74.75,506.63 75.00,507.16 75.25,507.60 75.50,507.96 75.75,508.27 76.00,508.53 76.25,508.74 76.50,508.92 76.75,509.06 77.00,509.18 77.25,509.26 77.50,509.30 77.75,509.30 78.00,509.24 78.25,509.09 78.50,508.82 78.75,508.38 79.00,507.84 79.25,507.51 79.50,507.74 79.75,508.36 80.00,508.96 80.25,509.41 80.50,509.72 80.75,509.93 81.00,510.08 81.25,510.20 81.50,510.28 81.75,510.35 82.00,510.41 82.25,510.45 82.50,510.49 82.75,510.52 83.00,510.54 83.25,510.56 83.50,510.58 83.75,510.59 84.00,510.60 84.25,510.61 84.50,510.61 84.75,510.61 85.00,510.60 85.25,510.59 85.50,510.57 85.75,510.55 86.00,510.52 86.25,510.47 86.50,510.41 86.75,510.33 87.00,510.22 87.25,510.06 87.50,509.84 87.75,509.53 88.00,509.07 88.25,508.42 88.50,507.56 88.75,506.67 89.00,506.26 89.25,506.67 89.50,507.56 89.75,508.42 90.00,509.08 90.25,509.54 90.50,509.86 90.75,510.08 91.00,510.24 91.25,510.35 91.50,510.44 91.75,510.50 92.00,510.55 92.25,510.58 92.50,510.61 92.75,510.62 93.00,510.63 93.25,510.64 93.50,510.64 93.75,510.64 94.00,510.63 94.25,510.61 94.50,510.59 94.75,510.57 95.00,510.54 95.25,510.50 95.50,510.46 95.75,510.40 96.00,510.33 96.25,510.24 96.50,510.14 96.75,510.00 97.00,509.83 97.25,509.61 97.50,509.32 97.75,508.93 98.00,508.41 98.25,507.68 98.50,506.66 98.75,505.29 99.00,503.59 99.25,501.95 99.50,501.20 99.75,501.84 100.00,503.37 100.25,504.94 100.50,506.17 100.75,506.99 101.00,507.46 101.25,507.64 101.50,507.51 101.75,507.04 102.00,506.20 102.25,505.19 102.50,504.71 102.75,505.34 103.00,506.51 103.25,507.53 103.50,508.23 103.75,508.66 104.00,508.88 104.25,508.95 104.50,508.88 104.75,508.65 105.00,508.23 105.25,507.53 105.50,506.50 105.75,505.32 106.00,504.69 106.25,505.15 106.50,506.13 106.75,506.93 107.00,507.32 107.25,507.34 107.50,506.98 107.75,506.21 108.00,505.01 108.25,503.52 108.50,502.43 108.75,502.61 109.00,503.95 109.25,505.52 109.50,506.78 109.75,507.64 110.00,508.18 110.25,508.49 110.50,508.59 110.75,508.51 111.00,508.20 111.25,507.60 111.50,506.68 111.75,505.61 112.00,505.10 112.25,505.70 112.50,506.87 112.75,507.90 113.00,508.62 113.25,509.09 113.50,509.38 113.75,509.55 114.00,509.63 114.25,509.64 114.50,509.58 114.75,509.45 115.00,509.21 115.25,508.84 115.50,508.28 115.75,507.45 116.00,506.29 116.25,504.93 116.50,503.93 116.75,504.06 117.00,505.21 117.25,506.57 117.50,507.66 117.75,508.43 118.00,508.94 118.25,509.25 118.50,509.43 118.75,509.47 119.00,509.38 119.25,509.14 119.50,508.72 119.75,508.22 120.00,508.00 120.25,508.33 120.50,508.94 120.75,509.49 121.00,509.88 121.25,510.14 121.50,510.32 121.75,510.45 122.00,510.54 122.25,510.60 122.50,510.65 122.75,510.68 123.00,510.71 123.25,510.72 123.50,510.73 123.75,510.73 124.00,510.71 124.25,510.69 124.50,510.65 124.75,510.58 125.00,510.47 125.25,510.30 125.50,510.06 125.75,509.79 126.00,509.66 126.25,509.79 126.50,510.06 126.75,510.30 127.00,510.46 127.25,510.57 127.50,510.64 127.75,510.68 128.00,510.70 128.25,510.70 128.50,510.69 128.75,510.66 129.00,510.61 129.25,510.52 129.50,510.39 129.75,510.20 130.00,509.97 130.25,509.82 130.50,509.89 130.75,510.09 131.00,510.29 131.25,510.43 131.50,510.52 131.75,510.57 132.00,510.60 132.25,510.60 132.50,510.58 132.75,510.55 133.00,510.50 133.25,510.41 133.50,510.28 133.75,510.08 134.00,509.79 134.25,509.42 134.50,509.13 134.75,509.16 135.00,509.47 135.25,509.81 135.50,510.07 135.75,510.23 136.00,510.34 136.25,510.40 136.50,510.43 136.75,510.45 137.00,510.44 137.25,510.42 137.50,510.38 137.75,510.31 138.00,510.21 138.25,510.06 138.50,509.85 138.75,509.66 139.00,509.63 139.25,509.77 139.50,509.96 139.75,510.10 140.00,510.19 140.25,510.24 140.50,510.26 140.75,510.26 141.00,510.25 141.25,510.22 141.50,510.17 141.75,510.10 142.00,509.99 142.25,509.83 142.50,509.59 142.75,509.27 143.00,508.93 143.25,508.82 143.50,509.02 143.75,509.33 144.00,509.59 144.25,509.76 144.50,509.87 144.75,509.93 145.00,509.96 145.25,509.96 145.50,509.95 145.75,509.92 146.00,509.86 146.25,509.78 146.50,509.65 146.75,509.47 147.00,509.20 147.25,508.91 147.50,508.75 147.75,508.88 148.00,509.15 148.25,509.38 148.50,509.54 148.75,509.64 149.00,509.70 149.25,509.73 149.50,509.74 149.75,509.74 150.00,509.72 150.25,509.69 150.50,509.63 150.75,509.55 151.00,509.42 151.25,509.25 151.50,509.03 151.75,508.89 152.00,508.94 152.25,509.11 152.50,509.29 152.75,509.40 153.00,509.47 153.25,509.51 153.50,509.53 153.75,509.53 154.00,509.51 154.25,509.48 154.50,509.42 154.75,509.35 155.00,509.23 155.25,509.05 155.50,508.79 155.75,508.46 156.00,508.20 156.25,508.23 156.50,508.51 156.75,508.81 157.00,509.04 157.25,509.19 157.50,509.29 157.75,509.35 158.00,509.38 158.25,509.40 158.50,509.40 158.75,509.39 159.00,509.36 159.25,509.30 159.50,509.21 159.75,509.08 160.00,508.89 160.25,508.72 160.50,508.70 160.75,508.85 161.00,509.05 161.25,509.20 161.50,509.30 161.75,509.36 162.00,509.40 162.25,509.42 162.50,509.42 162.75,509.41 163.00,509.39 163.25,509.34 163.50,509.26 163.75,509.14 164.00,508.94 164.25,508.67 164.50,508.38 164.75,508.30 165.00,508.51 165.25,508.82 165.50,509.08 165.75,509.26 166.00,509.39 166.25,509.47 166.50,509.52 166.75,509.56 167.00,509.58 167.25,509.58 167.50,509.57 167.75,509.54 168.00,509.47 168.25,509.37 168.50,509.20 168.75,509.02 169.00,508.93 169.25,509.05 169.50,509.26 169.75,509.46 170.00,509.59 170.25,509.69 170.50,509.75 170.75,509.80 171.00,509.83 171.25,509.84 171.50,509.85 171.75,509.83 172.00,509.80 172.25,509.74 172.50,509.64 172.75,509.48 173.00,509.29 173.25,509.17 173.50,509.25 173.75,509.46 174.00,509.67 174.25,509.82 174.50,509.92 174.75,509.99 175.00,510.03 175.25,510.06 175.50,510.07 175.75,510.07 176.00,510.04 176.25,509.99 176.50,509.91 176.75,509.76 177.00,509.54 177.25,509.26 177.50,509.04 177.75,509.08 178.00,509.36 178.25,509.66 178.50,509.89 178.75,510.04 179.00,510.14 179.25,510.20 179.50,510.24 179.75,510.25 180.00,510.24 180.25,510.21 180.50,510.14 180.75,510.03 181.00,509.85 181.25,509.57 181.50,509.18 181.75,508.83 182.00,508.80 182.25,509.14 182.50,509.56 182.75,509.89 183.00,510.12 183.25,510.28 183.50,510.38 183.75,510.45 184.00,510.49 184.25,510.51 184.50,510.52 184.75,510.51 185.00,510.46 185.25,510.39 185.50,510.26 185.75,510.07 186.00,509.87 186.25,509.82 186.50,509.97 186.75,510.20 187.00,510.39 187.25,510.52 187.50,510.61 187.75,510.66 188.00,510.70 188.25,510.72 188.50,510.72 188.75,510.71 189.00,510.68 189.25,510.63 189.50,510.53 189.75,510.39 190.00,510.18 190.25,509.94 190.50,509.83 190.75,509.95 191.00,510.20 191.25,510.42 191.50,510.57 191.75,510.67 192.00,510.73 192.25,510.77 192.50,510.78 192.75,510.78 193.00,510.76 193.25,510.71 193.50,510.63 193.75,510.51 194.00,510.31 194.25,510.02 194.50,509.67 194.75,509.44 195.00,509.56 195.25,509.91 195.50,510.25 195.75,510.50 196.00,510.67 196.25,510.78 196.50,510.86 196.75,510.92 197.00,510.96 197.25,510.99 197.50,511.01 197.75,511.03 198.00,511.05 198.25,511.06 198.50,511.07 198.75,511.08 199.00,511.09 199.25,511.10 199.50,511.11 199.75,511.11 200.00,511.12 200.25,511.12 200.50,511.13 200.75,511.13 201.00,511.13 201.25,511.14 201.50,511.14 201.75,511.14 202.00,511.15 202.25,511.15 202.50,511.15 202.75,511.15 203.00,511.15 203.25,511.16 203.50,511.16 203.75,511.16 204.00,511.16 204.25,511.16 204.50,511.16 204.75,511.16 205.00,511.17 205.25,511.17 205.50,511.17 205.75,511.17 206.00,511.17" fill="none" stroke="#9a68cc" stroke-width="1.2" stroke-linejoin="round" /><line x1="43.60" y1="571.60" x2="43.60" y2="569.00" stroke="#b0b0b0" stroke-width="0.9" /><text x="43.60" y="582.50" font-size="8.3" fill="#111" stroke="#111" stroke-width="0.22" text-anchor="middle" textLength="11.50" lengthAdjust="spacingAndGlyphs" >2.4</text><line x1="87.75" y1="571.60" x2="87.75" y2="569.00" stroke="#b0b0b0" stroke-width="0.9" /><text x="87.75" y="582.50" font-size="8.3" fill="#111" stroke="#111" stroke-width="0.22" text-anchor="middle" textLength="11.50" lengthAdjust="spacingAndGlyphs" >2.3</text><line x1="131.90" y1="571.60" x2="131.90" y2="569.00" stroke="#b0b0b0" stroke-width="0.9" /><text x="131.90" y="582.50" font-size="8.3" fill="#111" stroke="#111" stroke-width="0.22" text-anchor="middle" textLength="11.50" lengthAdjust="spacingAndGlyphs" >2.2</text><line x1="176.05" y1="571.60" x2="176.05" y2="569.00" stroke="#b0b0b0" stroke-width="0.9" /><text x="176.05" y="582.50" font-size="8.3" fill="#111" stroke="#111" stroke-width="0.22" text-anchor="middle" textLength="11.50" lengthAdjust="spacingAndGlyphs" >2.1</text><line x1="65.67" y1="571.60" x2="65.67" y2="570.00" stroke="#b0b0b0" stroke-width="0.8" /><line x1="109.82" y1="571.60" x2="109.82" y2="570.00" stroke="#b0b0b0" stroke-width="0.8" /><line x1="153.97" y1="571.60" x2="153.97" y2="570.00" stroke="#b0b0b0" stroke-width="0.8" /><line x1="198.13" y1="571.60" x2="198.13" y2="570.00" stroke="#b0b0b0" stroke-width="0.8" /><line x1="183.20" y1="482.20" x2="166.00" y2="482.20" stroke="#9a68cc" stroke-width="1.4" /><polygon points="158.40,482.20 168.00,479.60 166.50,482.20 168.00,484.80" fill="#9a68cc" /><line x1="167.20" y1="524.60" x2="179.00" y2="524.60" stroke="#3a96c6" stroke-width="1.4" /><polygon points="187.00,524.60 177.20,522.00 178.70,524.60 177.20,527.20" fill="#3a96c6" /><text x="89.6" y="480.9" font-size="8.7" fill="#111" textLength="15.6" lengthAdjust="spacingAndGlyphs" stroke="#111" stroke-width="0.22">H<tspan font-size="6.2" dy="1.8">3</tspan><tspan dy="-1.8">C</tspan></text><polyline points="106.10,477.70 114.20,477.70 118.90,471.00" fill="none" stroke="#111" stroke-width="1.0" stroke-linejoin="round" /><text x="121.40" y="471.30" font-size="8.7" fill="#111" stroke="#111" stroke-width="0.22" text-anchor="middle" >O</text><line x1="125.40" y1="469.00" x2="133.10" y2="471.60" stroke="#111" stroke-width="1.0" /><line x1="133.10" y1="471.60" x2="139.40" y2="467.40" stroke="#111" stroke-width="1.0" /><line x1="132.30" y1="470.30" x2="138.60" y2="466.10" stroke="#111" stroke-width="1.0" /><text x="142.70" y="467.90" font-size="8.7" fill="#111" stroke="#111" stroke-width="0.22" text-anchor="middle" >O</text><line x1="133.40" y1="471.60" x2="133.40" y2="479.40" stroke="#111" stroke-width="1.0" /><text x="129.8" y="487.8" font-size="8.7" fill="#111" stroke="#111" stroke-width="0.22">C<tspan fill="#ee1c25">H</tspan><tspan fill="#ee1c25" font-size="6.2" dy="1.8">2</tspan></text><line x1="129.80" y1="485.00" x2="125.00" y2="486.40" stroke="#111" stroke-width="1.0" /><line x1="114.20" y1="477.70" x2="118.80" y2="484.30" stroke="#111" stroke-width="1.0" /><text x="121.90" y="491.00" font-size="8.7" fill="#111" stroke="#111" stroke-width="0.22" text-anchor="middle" >C</text><text x="118.6" y="500.0" font-size="8.7" fill="#111" stroke="#111" stroke-width="0.22">H<tspan font-size="6.2" dy="1.8">2</tspan></text><line x1="44.20" y1="649.40" x2="364.40" y2="649.40" stroke="#a8a8a8" stroke-width="1.0" /><line x1="44.20" y1="649.40" x2="44.20" y2="651.40" stroke="#a8a8a8" stroke-width="0.9" /><line x1="84.20" y1="649.40" x2="84.20" y2="652.60" stroke="#a8a8a8" stroke-width="0.9" /><line x1="124.20" y1="649.40" x2="124.20" y2="651.40" stroke="#a8a8a8" stroke-width="0.9" /><line x1="164.20" y1="649.40" x2="164.20" y2="652.60" stroke="#a8a8a8" stroke-width="0.9" /><line x1="204.20" y1="649.40" x2="204.20" y2="651.40" stroke="#a8a8a8" stroke-width="0.9" /><line x1="244.20" y1="649.40" x2="244.20" y2="652.60" stroke="#a8a8a8" stroke-width="0.9" /><line x1="284.20" y1="649.40" x2="284.20" y2="651.40" stroke="#a8a8a8" stroke-width="0.9" /><line x1="324.20" y1="649.40" x2="324.20" y2="652.60" stroke="#a8a8a8" stroke-width="0.9" /><line x1="364.20" y1="649.40" x2="364.20" y2="651.40" stroke="#a8a8a8" stroke-width="0.9" /><text x="84.20" y="661.60" font-size="8.6" fill="#111" stroke="#111" stroke-width="0.22" text-anchor="middle" >4</text><text x="164.20" y="661.60" font-size="8.6" fill="#111" stroke="#111" stroke-width="0.22" text-anchor="middle" >3</text><text x="244.20" y="661.60" font-size="8.6" fill="#111" stroke="#111" stroke-width="0.22" text-anchor="middle" >2</text><text x="324.20" y="661.60" font-size="8.6" fill="#111" stroke="#111" stroke-width="0.22" text-anchor="middle" >1</text><polyline points="44.20,646.75 44.40,646.75 44.60,646.75 44.80,646.74 45.00,646.74 45.20,646.74 45.40,646.73 45.60,646.73 45.80,646.73 46.00,646.72 46.20,646.72 46.40,646.71 46.60,646.71 46.80,646.70 47.00,646.70 47.20,646.69 47.40,646.68 47.60,646.67 47.80,646.66 48.00,646.65 48.20,646.64 48.40,646.62 48.60,646.60 48.80,646.58 49.00,646.56 49.20,646.53 49.40,646.49 49.60,646.45 49.80,646.40 50.00,646.33 50.20,646.25 50.40,646.13 50.60,645.97 50.80,645.73 51.00,645.36 51.20,644.74 51.40,643.56 51.60,641.11 51.80,637.00 52.00,636.57 52.20,639.66 52.40,640.48 52.60,638.54 52.80,634.02 53.00,633.90 53.20,638.16 53.40,639.71 53.60,638.16 53.80,633.90 54.00,634.02 54.20,638.54 54.40,640.48 54.60,639.66 54.80,636.57 55.00,637.00 55.20,641.11 55.40,643.56 55.60,644.74 55.80,645.36 56.00,645.73 56.20,645.97 56.40,646.13 56.60,646.25 56.80,646.33 57.00,646.40 57.20,646.45 57.40,646.49 57.60,646.53 57.80,646.56 58.00,646.58 58.20,646.60 58.40,646.62 58.60,646.64 58.80,646.65 59.00,646.66 59.20,646.67 59.40,646.68 59.60,646.69 59.80,646.70 60.00,646.70 60.20,646.71 60.40,646.71 60.60,646.72 60.80,646.72 61.00,646.73 61.20,646.73 61.40,646.73 61.60,646.74 61.80,646.74 62.00,646.74 62.20,646.75 62.40,646.75 62.60,646.75 62.80,646.75 63.00,646.75 63.20,646.76 63.40,646.76 63.60,646.76 63.80,646.76 64.00,646.76 64.20,646.76 64.40,646.77 64.60,646.77 64.80,646.77 65.00,646.77 65.20,646.77 65.40,646.77 65.60,646.77 65.80,646.77 66.00,646.77 66.20,646.77 66.40,646.78 66.60,646.78 66.80,646.78 67.00,646.78 67.20,646.78 67.40,646.78 67.60,646.78 67.80,646.78 68.00,646.78 68.20,646.78 68.40,646.78 68.60,646.78 68.80,646.78 69.00,646.78 69.20,646.78 69.40,646.78 69.60,646.78 69.80,646.78 70.00,646.78 70.20,646.78 70.40,646.79 70.60,646.79 70.80,646.79 71.00,646.79 71.20,646.79 71.40,646.79 71.60,646.79 71.80,646.79 72.00,646.79 72.20,646.79 72.40,646.79 72.60,646.79 72.80,646.79 73.00,646.79 73.20,646.79 73.40,646.79 73.60,646.79 73.80,646.79 74.00,646.79 74.20,646.79 74.40,646.79 74.60,646.79 74.80,646.79 75.00,646.79 75.20,646.79 75.40,646.79 75.60,646.79 75.80,646.79 76.00,646.79 76.20,646.79 76.40,646.79 76.60,646.79 76.80,646.79 77.00,646.79 77.20,646.79 77.40,646.79 77.60,646.79 77.80,646.79 78.00,646.79 78.20,646.79 78.40,646.79 78.60,646.79 78.80,646.79 79.00,646.79 79.20,646.79 79.40,646.79 79.60,646.79 79.80,646.79 80.00,646.79 80.20,646.79 80.40,646.79 80.60,646.79 80.80,646.79 81.00,646.79 81.20,646.79 81.40,646.79 81.60,646.79 81.80,646.79 82.00,646.79 82.20,646.79 82.40,646.79 82.60,646.79 82.80,646.79 83.00,646.79 83.20,646.79 83.40,646.79 83.60,646.79 83.80,646.79 84.00,646.79 84.20,646.79 84.40,646.79 84.60,646.79 84.80,646.79 85.00,646.79 85.20,646.79 85.40,646.79 85.60,646.79 85.80,646.79 86.00,646.79 86.20,646.79 86.40,646.79 86.60,646.79 86.80,646.79 87.00,646.79 87.20,646.79 87.40,646.79 87.60,646.80 87.80,646.80 88.00,646.80 88.20,646.80 88.40,646.80 88.60,646.80 88.80,646.80 89.00,646.80 89.20,646.80 89.40,646.80 89.60,646.80 89.80,646.80 90.00,646.80 90.20,646.80 90.40,646.80 90.60,646.80 90.80,646.80 91.00,646.80 91.20,646.80 91.40,646.80 91.60,646.80 91.80,646.80 92.00,646.80 92.20,646.80 92.40,646.80 92.60,646.80 92.80,646.80 93.00,646.80 93.20,646.80 93.40,646.80 93.60,646.80 93.80,646.80 94.00,646.80 94.20,646.80 94.40,646.80 94.60,646.80 94.80,646.80 95.00,646.80 95.20,646.80 95.40,646.80 95.60,646.80 95.80,646.80 96.00,646.80 96.20,646.80 96.40,646.80 96.60,646.80 96.80,646.80 97.00,646.80 97.20,646.80 97.40,646.80 97.60,646.80 97.80,646.80 98.00,646.80 98.20,646.80 98.40,646.80 98.60,646.80 98.80,646.80 99.00,646.80 99.20,646.80 99.40,646.80 99.60,646.80 99.80,646.80 100.00,646.80 100.20,646.80 100.40,646.80 100.60,646.80 100.80,646.80 101.00,646.80 101.20,646.80 101.40,646.80 101.60,646.80 101.80,646.80 102.00,646.80 102.20,646.80 102.40,646.80 102.60,646.80 102.80,646.80 103.00,646.80 103.20,646.80 103.40,646.80 103.60,646.80 103.80,646.80 104.00,646.80 104.20,646.80 104.40,646.80 104.60,646.80 104.80,646.80 105.00,646.80 105.20,646.80 105.40,646.80 105.60,646.80 105.80,646.80 106.00,646.80 106.20,646.80 106.40,646.80 106.60,646.80 106.80,646.80 107.00,646.80 107.20,646.80 107.40,646.80 107.60,646.80 107.80,646.80 108.00,646.80 108.20,646.80 108.40,646.80 108.60,646.80 108.80,646.80 109.00,646.80 109.20,646.80 109.40,646.80 109.60,646.80 109.80,646.80 110.00,646.80 110.20,646.80 110.40,646.80 110.60,646.80 110.80,646.80 111.00,646.80 111.20,646.80 111.40,646.80 111.60,646.80 111.80,646.80 112.00,646.80 112.20,646.80 112.40,646.80 112.60,646.80 112.80,646.80 113.00,646.80 113.20,646.80 113.40,646.80 113.60,646.80 113.80,646.80 114.00,646.80 114.20,646.80 114.40,646.80 114.60,646.80 114.80,646.80 115.00,646.80 115.20,646.80 115.40,646.80 115.60,646.80 115.80,646.80 116.00,646.80 116.20,646.80 116.40,646.80 116.60,646.80 116.80,646.80 117.00,646.80 117.20,646.80 117.40,646.80 117.60,646.80 117.80,646.80 118.00,646.80 118.20,646.80 118.40,646.80 118.60,646.80 118.80,646.80 119.00,646.80 119.20,646.80 119.40,646.80 119.60,646.80 119.80,646.80 120.00,646.80 120.20,646.80 120.40,646.80 120.60,646.80 120.80,646.80 121.00,646.80 121.20,646.80 121.40,646.80 121.60,646.80 121.80,646.80 122.00,646.80 122.20,646.80 122.40,646.80 122.60,646.80 122.80,646.80 123.00,646.80 123.20,646.80 123.40,646.80 123.60,646.80 123.80,646.80 124.00,646.80 124.20,646.80 124.40,646.80 124.60,646.80 124.80,646.80 125.00,646.80 125.20,646.80 125.40,646.80 125.60,646.80 125.80,646.80 126.00,646.80 126.20,646.80 126.40,646.80 126.60,646.80 126.80,646.80 127.00,646.80 127.20,646.80 127.40,646.80 127.60,646.80 127.80,646.80 128.00,646.80 128.20,646.80 128.40,646.80 128.60,646.80 128.80,646.80 129.00,646.80 129.20,646.80 129.40,646.80 129.60,646.80 129.80,646.80 130.00,646.80 130.20,646.80 130.40,646.80 130.60,646.80 130.80,646.80 131.00,646.80 131.20,646.80 131.40,646.80 131.60,646.80 131.80,646.80 132.00,646.80 132.20,646.80 132.40,646.80 132.60,646.80 132.80,646.80 133.00,646.80 133.20,646.80 133.40,646.80 133.60,646.80 133.80,646.80 134.00,646.80 134.20,646.80 134.40,646.80 134.60,646.80 134.80,646.80 135.00,646.80 135.20,646.80 135.40,646.80 135.60,646.80 135.80,646.80 136.00,646.80 136.20,646.80 136.40,646.80 136.60,646.80 136.80,646.80 137.00,646.80 137.20,646.80 137.40,646.80 137.60,646.80 137.80,646.80 138.00,646.80 138.20,646.80 138.40,646.80 138.60,646.80 138.80,646.80 139.00,646.80 139.20,646.80 139.40,646.80 139.60,646.80 139.80,646.80 140.00,646.80 140.20,646.80 140.40,646.80 140.60,646.80 140.80,646.80 141.00,646.80 141.20,646.80 141.40,646.80 141.60,646.80 141.80,646.80 142.00,646.80 142.20,646.80 142.40,646.80 142.60,646.80 142.80,646.80 143.00,646.80 143.20,646.80 143.40,646.80 143.60,646.80 143.80,646.80 144.00,646.80 144.20,646.80 144.40,646.80 144.60,646.80 144.80,646.80 145.00,646.80 145.20,646.80 145.40,646.80 145.60,646.80 145.80,646.80 146.00,646.80 146.20,646.80 146.40,646.80 146.60,646.80 146.80,646.80 147.00,646.80 147.20,646.80 147.40,646.80 147.60,646.80 147.80,646.80 148.00,646.80 148.20,646.80 148.40,646.80 148.60,646.80 148.80,646.80 149.00,646.80 149.20,646.80 149.40,646.80 149.60,646.80 149.80,646.80 150.00,646.80 150.20,646.80 150.40,646.80 150.60,646.80 150.80,646.80 151.00,646.80 151.20,646.80 151.40,646.80 151.60,646.80 151.80,646.80 152.00,646.80 152.20,646.79 152.40,646.79 152.60,646.79 152.80,646.79 153.00,646.79 153.20,646.79 153.40,646.79 153.60,646.79 153.80,646.79 154.00,646.79 154.20,646.79 154.40,646.79 154.60,646.79 154.80,646.79 155.00,646.79 155.20,646.79 155.40,646.79 155.60,646.79 155.80,646.79 156.00,646.79 156.20,646.79 156.40,646.79 156.60,646.79 156.80,646.79 157.00,646.79 157.20,646.79 157.40,646.79 157.60,646.79 157.80,646.79 158.00,646.79 158.20,646.79 158.40,646.79 158.60,646.79 158.80,646.79 159.00,646.79 159.20,646.79 159.40,646.79 159.60,646.79 159.80,646.79 160.00,646.79 160.20,646.79 160.40,646.79 160.60,646.79 160.80,646.79 161.00,646.79 161.20,646.79 161.40,646.79 161.60,646.79 161.80,646.79 162.00,646.79 162.20,646.79 162.40,646.79 162.60,646.79 162.80,646.79 163.00,646.79 163.20,646.79 163.40,646.79 163.60,646.79 163.80,646.79 164.00,646.79 164.20,646.79 164.40,646.79 164.60,646.79 164.80,646.79 165.00,646.79 165.20,646.79 165.40,646.79 165.60,646.79 165.80,646.79 166.00,646.79 166.20,646.79 166.40,646.79 166.60,646.79 166.80,646.79 167.00,646.79 167.20,646.79 167.40,646.79 167.60,646.79 167.80,646.79 168.00,646.79 168.20,646.79 168.40,646.79 168.60,646.79 168.80,646.79 169.00,646.79 169.20,646.79 169.40,646.79 169.60,646.79 169.80,646.79 170.00,646.79 170.20,646.79 170.40,646.79 170.60,646.79 170.80,646.79 171.00,646.79 171.20,646.79 171.40,646.79 171.60,646.79 171.80,646.79 172.00,646.79 172.20,646.79 172.40,646.79 172.60,646.79 172.80,646.79 173.00,646.79 173.20,646.79 173.40,646.79 173.60,646.79 173.80,646.79 174.00,646.79 174.20,646.79 174.40,646.79 174.60,646.79 174.80,646.79 175.00,646.79 175.20,646.79 175.40,646.79 175.60,646.79 175.80,646.79 176.00,646.79 176.20,646.79 176.40,646.79 176.60,646.79 176.80,646.79 177.00,646.79 177.20,646.79 177.40,646.79 177.60,646.79 177.80,646.79 178.00,646.79 178.20,646.79 178.40,646.79 178.60,646.79 178.80,646.79 179.00,646.79 179.20,646.79 179.40,646.79 179.60,646.79 179.80,646.79 180.00,646.79 180.20,646.79 180.40,646.79 180.60,646.79 180.80,646.79 181.00,646.79 181.20,646.79 181.40,646.79 181.60,646.79 181.80,646.79 182.00,646.79 182.20,646.79 182.40,646.79 182.60,646.79 182.80,646.79 183.00,646.79 183.20,646.79 183.40,646.79 183.60,646.79 183.80,646.79 184.00,646.79 184.20,646.79 184.40,646.79 184.60,646.79 184.80,646.79 185.00,646.79 185.20,646.79 185.40,646.79 185.60,646.79 185.80,646.79 186.00,646.79 186.20,646.79 186.40,646.79 186.60,646.79 186.80,646.79 187.00,646.79 187.20,646.79 187.40,646.79 187.60,646.79 187.80,646.79 188.00,646.79 188.20,646.79 188.40,646.79 188.60,646.79 188.80,646.79 189.00,646.79 189.20,646.79 189.40,646.78 189.60,646.78 189.80,646.78 190.00,646.78 190.20,646.78 190.40,646.78 190.60,646.78 190.80,646.78 191.00,646.78 191.20,646.78 191.40,646.78 191.60,646.78 191.80,646.78 192.00,646.78 192.20,646.78 192.40,646.78 192.60,646.78 192.80,646.78 193.00,646.78 193.20,646.78 193.40,646.78 193.60,646.78 193.80,646.78 194.00,646.78 194.20,646.78 194.40,646.78 194.60,646.78 194.80,646.78 195.00,646.78 195.20,646.78 195.40,646.78 195.60,646.78 195.80,646.78 196.00,646.78 196.20,646.78 196.40,646.78 196.60,646.78 196.80,646.78 197.00,646.78 197.20,646.78 197.40,646.78 197.60,646.78 197.80,646.78 198.00,646.78 198.20,646.78 198.40,646.78 198.60,646.77 198.80,646.77 199.00,646.77 199.20,646.77 199.40,646.77 199.60,646.77 199.80,646.77 200.00,646.77 200.20,646.77 200.40,646.77 200.60,646.77 200.80,646.77 201.00,646.77 201.20,646.77 201.40,646.77 201.60,646.77 201.80,646.77 202.00,646.77 202.20,646.77 202.40,646.77 202.60,646.77 202.80,646.77 203.00,646.77 203.20,646.76 203.40,646.76 203.60,646.76 203.80,646.76 204.00,646.76 204.20,646.76 204.40,646.76 204.60,646.76 204.80,646.76 205.00,646.76 205.20,646.76 205.40,646.76 205.60,646.76 205.80,646.76 206.00,646.75 206.20,646.75 206.40,646.75 206.60,646.75 206.80,646.75 207.00,646.75 207.20,646.75 207.40,646.75 207.60,646.75 207.80,646.75 208.00,646.74 208.20,646.74 208.40,646.74 208.60,646.74 208.80,646.74 209.00,646.74 209.20,646.74 209.40,646.73 209.60,646.73 209.80,646.73 210.00,646.73 210.20,646.73 210.40,646.72 210.60,646.72 210.80,646.72 211.00,646.72 211.20,646.72 211.40,646.71 211.60,646.71 211.80,646.71 212.00,646.71 212.20,646.70 212.40,646.70 212.60,646.70 212.80,646.69 213.00,646.69 213.20,646.68 213.40,646.68 213.60,646.68 213.80,646.67 214.00,646.67 214.20,646.66 214.40,646.66 214.60,646.65 214.80,646.64 215.00,646.64 215.20,646.63 215.40,646.62 215.60,646.61 215.80,646.60 216.00,646.59 216.20,646.58 216.40,646.57 216.60,646.56 216.80,646.54 217.00,646.53 217.20,646.51 217.40,646.49 217.60,646.47 217.80,646.44 218.00,646.41 218.20,646.38 218.40,646.35 218.60,646.30 218.80,646.26 219.00,646.20 219.20,646.13 219.40,646.05 219.60,645.95 219.80,645.82 220.00,645.65 220.20,645.42 220.40,645.11 220.60,644.64 220.80,643.91 221.00,642.64 221.20,640.29 221.40,636.20 221.60,632.90 221.80,635.37 222.00,638.50 222.20,639.51 222.40,638.66 222.60,635.64 222.80,629.66 223.00,624.58 223.20,627.71 223.40,631.00 223.60,629.43 223.80,622.55 224.00,616.69 224.20,623.02 224.40,630.63 224.60,633.61 224.80,632.51 225.00,627.42 225.20,623.16 225.40,628.30 225.60,634.48 225.80,637.24 226.00,637.15 226.20,634.49 226.40,632.27 226.60,635.70 226.80,639.87 227.00,642.25 227.20,643.52 227.40,644.23 227.60,644.64 227.80,644.85 228.00,644.89 228.20,644.74 228.40,644.29 228.60,643.48 228.80,642.96 229.00,643.62 229.20,644.56 229.40,645.18 229.60,645.52 229.80,645.73 230.00,645.85 230.20,645.92 230.40,645.96 230.60,645.98 230.80,645.97 231.00,645.95 231.20,645.90 231.40,645.82 231.60,645.70 231.80,645.52 232.00,645.25 232.20,644.83 232.40,644.18 232.60,643.28 232.80,642.50 233.00,642.40 233.20,642.66 233.40,642.56 233.60,641.87 233.80,640.84 234.00,640.40 234.20,640.95 234.40,641.48 234.60,641.34 234.80,640.50 235.00,639.68 235.20,639.94 235.40,640.82 235.60,641.22 235.80,640.83 236.00,639.96 236.20,639.70 236.40,640.53 236.60,641.37 236.80,641.53 237.00,641.00 237.20,640.46 237.40,640.91 237.60,641.95 237.80,642.65 238.00,642.76 238.20,642.51 238.40,642.62 238.60,643.42 238.80,644.33 239.00,644.99 239.20,645.43 239.40,645.72 239.60,645.92 239.80,646.06 240.00,646.17 240.20,646.25 240.40,646.32 240.60,646.37 240.80,646.41 241.00,646.45 241.20,646.48 241.40,646.50 241.60,646.52 241.80,646.54 242.00,646.56 242.20,646.58 242.40,646.59 242.60,646.60 242.80,646.61 243.00,646.62 243.20,646.63 243.40,646.64 243.60,646.65 243.80,646.65 244.00,646.66 244.20,646.67 244.40,646.67 244.60,646.68 244.80,646.68 245.00,646.68 245.20,646.69 245.40,646.69 245.60,646.70 245.80,646.70 246.00,646.70 246.20,646.71 246.40,646.71 246.60,646.71 246.80,646.71 247.00,646.72 247.20,646.72 247.40,646.72 247.60,646.72 247.80,646.72 248.00,646.73 248.20,646.73 248.40,646.73 248.60,646.73 248.80,646.73 249.00,646.73 249.20,646.73 249.40,646.74 249.60,646.74 249.80,646.74 250.00,646.74 250.20,646.74 250.40,646.74 250.60,646.74 250.80,646.74 251.00,646.74 251.20,646.74 251.40,646.75 251.60,646.75 251.80,646.75 252.00,646.75 252.20,646.75 252.40,646.75 252.60,646.75 252.80,646.75 253.00,646.75 253.20,646.75 253.40,646.75 253.60,646.75 253.80,646.75 254.00,646.75 254.20,646.75 254.40,646.75 254.60,646.75 254.80,646.76 255.00,646.76 255.20,646.76 255.40,646.76 255.60,646.76 255.80,646.76 256.00,646.76 256.20,646.76 256.40,646.76 256.60,646.76 256.80,646.76 257.00,646.76 257.20,646.76 257.40,646.76 257.60,646.76 257.80,646.76 258.00,646.76 258.20,646.76 258.40,646.76 258.60,646.76 258.80,646.76 259.00,646.76 259.20,646.76 259.40,646.76 259.60,646.76 259.80,646.76 260.00,646.76 260.20,646.76 260.40,646.76 260.60,646.76 260.80,646.76 261.00,646.76 261.20,646.76 261.40,646.76 261.60,646.76 261.80,646.76 262.00,646.76 262.20,646.76 262.40,646.76 262.60,646.76 262.80,646.76 263.00,646.76 263.20,646.76 263.40,646.76 263.60,646.76 263.80,646.76 264.00,646.76 264.20,646.76 264.40,646.76 264.60,646.76 264.80,646.75 265.00,646.75 265.20,646.75 265.40,646.75 265.60,646.75 265.80,646.75 266.00,646.75 266.20,646.75 266.40,646.75 266.60,646.75 266.80,646.75 267.00,646.75 267.20,646.75 267.40,646.75 267.60,646.75 267.80,646.74 268.00,646.74 268.20,646.74 268.40,646.74 268.60,646.74 268.80,646.74 269.00,646.74 269.20,646.73 269.40,646.73 269.60,646.73 269.80,646.73 270.00,646.73 270.20,646.72 270.40,646.72 270.60,646.72 270.80,646.71 271.00,646.71 271.20,646.71 271.40,646.70 271.60,646.70 271.80,646.69 272.00,646.69 272.20,646.68 272.40,646.67 272.60,646.67 272.80,646.66 273.00,646.65 273.20,646.63 273.40,646.62 273.60,646.60 273.80,646.58 274.00,646.56 274.20,646.53 274.40,646.50 274.60,646.45 274.80,646.39 275.00,646.31 275.20,646.20 275.40,646.03 275.60,645.76 275.80,645.30 276.00,644.42 276.20,642.56 276.40,639.43 276.60,639.29 276.80,642.13 277.00,643.60 277.20,643.87 277.40,643.20 277.60,641.13 277.80,637.39 278.00,637.35 278.20,641.02 278.40,642.99 278.60,643.51 278.80,642.99 279.00,641.02 279.20,637.35 279.40,637.38 279.60,641.13 279.80,643.20 280.00,643.87 280.20,643.59 280.40,642.13 280.60,639.29 280.80,639.42 281.00,642.55 281.20,644.41 281.40,645.30 281.60,645.75 281.80,646.02 282.00,646.19 282.20,646.30 282.40,646.38 282.60,646.44 282.80,646.49 283.00,646.52 283.20,646.55 283.40,646.57 283.60,646.59 283.80,646.61 284.00,646.62 284.20,646.63 284.40,646.64 284.60,646.65 284.80,646.66 285.00,646.67 285.20,646.67 285.40,646.68 285.60,646.68 285.80,646.68 286.00,646.69 286.20,646.69 286.40,646.69 286.60,646.70 286.80,646.70 287.00,646.70 287.20,646.70 287.40,646.70 287.60,646.71 287.80,646.71 288.00,646.71 288.20,646.71 288.40,646.71 288.60,646.71 288.80,646.71 289.00,646.71 289.20,646.71 289.40,646.71 289.60,646.71 289.80,646.71 290.00,646.71 290.20,646.71 290.40,646.71 290.60,646.71 290.80,646.71 291.00,646.71 291.20,646.71 291.40,646.71 291.60,646.71 291.80,646.71 292.00,646.71 292.20,646.71 292.40,646.71 292.60,646.71 292.80,646.71 293.00,646.71 293.20,646.71 293.40,646.71 293.60,646.70 293.80,646.70 294.00,646.70 294.20,646.70 294.40,646.70 294.60,646.70 294.80,646.70 295.00,646.70 295.20,646.69 295.40,646.69 295.60,646.69 295.80,646.69 296.00,646.69 296.20,646.69 296.40,646.68 296.60,646.68 296.80,646.68 297.00,646.68 297.20,646.68 297.40,646.67 297.60,646.67 297.80,646.67 298.00,646.67 298.20,646.66 298.40,646.66 298.60,646.66 298.80,646.65 299.00,646.65 299.20,646.65 299.40,646.64 299.60,646.64 299.80,646.64 300.00,646.63 300.20,646.63 300.40,646.62 300.60,646.62 300.80,646.62 301.00,646.61 301.20,646.61 301.40,646.60 301.60,646.60 301.80,646.59 302.00,646.58 302.20,646.58 302.40,646.57 302.60,646.56 302.80,646.56 303.00,646.55 303.20,646.54 303.40,646.53 303.60,646.52 303.80,646.51 304.00,646.50 304.20,646.49 304.40,646.48 304.60,646.47 304.80,646.46 305.00,646.44 305.20,646.43 305.40,646.41 305.60,646.40 305.80,646.38 306.00,646.36 306.20,646.34 306.40,646.32 306.60,646.30 306.80,646.28 307.00,646.25 307.20,646.22 307.40,646.19 307.60,646.16 307.80,646.13 308.00,646.09 308.20,646.05 308.40,646.00 308.60,645.95 308.80,645.90 309.00,645.84 309.20,645.78 309.40,645.71 309.60,645.63 309.80,645.54 310.00,645.44 310.20,645.33 310.40,645.20 310.60,645.06 310.80,644.89 311.00,644.71 311.20,644.49 311.40,644.24 311.60,643.95 311.80,643.61 312.00,643.19 312.20,642.70 312.40,642.09 312.60,641.35 312.80,640.41 313.00,639.22 313.20,637.67 313.40,635.61 313.60,632.81 313.80,628.88 314.00,623.20 314.20,614.71 314.40,601.75 314.60,582.19 314.80,555.85 315.00,532.57 315.20,532.57 315.40,555.85 315.60,582.19 315.80,601.75 316.00,614.71 316.20,623.20 316.40,628.88 316.60,632.81 316.80,635.61 317.00,637.67 317.20,639.22 317.40,640.41 317.60,641.35 317.80,642.09 318.00,642.70 318.20,643.19 318.40,643.61 318.60,643.95 318.80,644.24 319.00,644.49 319.20,644.71 319.40,644.90 319.60,645.06 319.80,645.20 320.00,645.33 320.20,645.44 320.40,645.54 320.60,645.63 320.80,645.71 321.00,645.78 321.20,645.84 321.40,645.90 321.60,645.96 321.80,646.01 322.00,646.05 322.20,646.09 322.40,646.13 322.60,646.17 322.80,646.20 323.00,646.23 323.20,646.25 323.40,646.28 323.60,646.30 323.80,646.33 324.00,646.35 324.20,646.37 324.40,646.39 324.60,646.40 324.80,646.42 325.00,646.43 325.20,646.45 325.40,646.46 325.60,646.47 325.80,646.49 326.00,646.50 326.20,646.51 326.40,646.52 326.60,646.53 326.80,646.54 327.00,646.55 327.20,646.55 327.40,646.56 327.60,646.57 327.80,646.58 328.00,646.58 328.20,646.59 328.40,646.60 328.60,646.60 328.80,646.61 329.00,646.61 329.20,646.62 329.40,646.62 329.60,646.63 329.80,646.63 330.00,646.64 330.20,646.64 330.40,646.64 330.60,646.65 330.80,646.65 331.00,646.66 331.20,646.66 331.40,646.66 331.60,646.67 331.80,646.67 332.00,646.67 332.20,646.68 332.40,646.68 332.60,646.68 332.80,646.68 333.00,646.69 333.20,646.69 333.40,646.69 333.60,646.69 333.80,646.70 334.00,646.70 334.20,646.70 334.40,646.70 334.60,646.70 334.80,646.71 335.00,646.71 335.20,646.71 335.40,646.71 335.60,646.71 335.80,646.71 336.00,646.72 336.20,646.72 336.40,646.72 336.60,646.72 336.80,646.72 337.00,646.72 337.20,646.72 337.40,646.73 337.60,646.73 337.80,646.73 338.00,646.73 338.20,646.73 338.40,646.73 338.60,646.73 338.80,646.73 339.00,646.74 339.20,646.74 339.40,646.74 339.60,646.74 339.80,646.74 340.00,646.74 340.20,646.74 340.40,646.74 340.60,646.74 340.80,646.74 341.00,646.74 341.20,646.75 341.40,646.75 341.60,646.75 341.80,646.75 342.00,646.75 342.20,646.75 342.40,646.75 342.60,646.75 342.80,646.75 343.00,646.75 343.20,646.75 343.40,646.75 343.60,646.75 343.80,646.75 344.00,646.76 344.20,646.76 344.40,646.76 344.60,646.76 344.80,646.76 345.00,646.76 345.20,646.76 345.40,646.76 345.60,646.76 345.80,646.76 346.00,646.76 346.20,646.76 346.40,646.76 346.60,646.76 346.80,646.76 347.00,646.76 347.20,646.76 347.40,646.76 347.60,646.76 347.80,646.76 348.00,646.77 348.20,646.77 348.40,646.77 348.60,646.77 348.80,646.77 349.00,646.77 349.20,646.77 349.40,646.77 349.60,646.77 349.80,646.77 350.00,646.77 350.20,646.77 350.40,646.77 350.60,646.77 350.80,646.77 351.00,646.77 351.20,646.77 351.40,646.77 351.60,646.77 351.80,646.77 352.00,646.77 352.20,646.77 352.40,646.77 352.60,646.77 352.80,646.77 353.00,646.77 353.20,646.77 353.40,646.77 353.60,646.77 353.80,646.77 354.00,646.77 354.20,646.77 354.40,646.78 354.60,646.78 354.80,646.78 355.00,646.78 355.20,646.78 355.40,646.78 355.60,646.78 355.80,646.78 356.00,646.78 356.20,646.78 356.40,646.78 356.60,646.78 356.80,646.78 357.00,646.78 357.20,646.78 357.40,646.78 357.60,646.78 357.80,646.78 358.00,646.78 358.20,646.78 358.40,646.78 358.60,646.78 358.80,646.78 359.00,646.78 359.20,646.78 359.40,646.78 359.60,646.78 359.80,646.78 360.00,646.78 360.20,646.78 360.40,646.78 360.60,646.78 360.80,646.78 361.00,646.78 361.20,646.78 361.40,646.78 361.60,646.78 361.80,646.78 362.00,646.78 362.20,646.78 362.40,646.78 362.60,646.78 362.80,646.78 363.00,646.78 363.20,646.78 363.40,646.78 363.60,646.78 363.80,646.78 364.00,646.78 364.20,646.78 364.40,646.78" fill="none" stroke="#bdbdbd" stroke-width="1.0" stroke-linejoin="round" /><polyline points="44.20,623.95 44.40,623.95 44.60,623.95 44.80,623.95 45.00,623.95 45.20,623.94 45.40,623.94 45.60,623.94 45.80,623.93 46.00,623.93 46.20,623.93 46.40,623.92 46.60,623.92 46.80,623.91 47.00,623.91 47.20,623.90 47.40,623.90 47.60,623.89 47.80,623.88 48.00,623.87 48.20,623.86 48.40,623.85 48.60,623.84 48.80,623.83 49.00,623.81 49.20,623.80 49.40,623.77 49.60,623.75 49.80,623.72 50.00,623.69 50.20,623.65 50.40,623.59 50.60,623.53 50.80,623.45 51.00,623.34 51.20,623.19 51.40,622.98 51.60,622.67 51.80,622.15 52.00,621.23 52.20,619.40 52.40,615.71 52.60,612.14 52.80,614.73 53.00,617.08 53.20,616.51 53.40,612.76 53.60,608.84 53.80,612.50 54.00,615.91 54.20,615.91 54.40,612.50 54.60,608.84 54.80,612.76 55.00,616.51 55.20,617.08 55.40,614.73 55.60,612.14 55.80,615.71 56.00,619.40 56.20,621.23 56.40,622.15 56.60,622.67 56.80,622.98 57.00,623.19 57.20,623.34 57.40,623.45 57.60,623.53 57.80,623.59 58.00,623.65 58.20,623.69 58.40,623.72 58.60,623.75 58.80,623.77 59.00,623.79 59.20,623.81 59.40,623.83 59.60,623.84 59.80,623.85 60.00,623.86 60.20,623.87 60.40,623.88 60.60,623.89 60.80,623.90 61.00,623.90 61.20,623.91 61.40,623.91 61.60,623.92 61.80,623.92 62.00,623.93 62.20,623.93 62.40,623.93 62.60,623.94 62.80,623.94 63.00,623.94 63.20,623.95 63.40,623.95 63.60,623.95 63.80,623.95 64.00,623.95 64.20,623.96 64.40,623.96 64.60,623.96 64.80,623.96 65.00,623.96 65.20,623.96 65.40,623.96 65.60,623.97 65.80,623.97 66.00,623.97 66.20,623.97 66.40,623.97 66.60,623.97 66.80,623.97 67.00,623.97 67.20,623.97 67.40,623.97 67.60,623.97 67.80,623.98 68.00,623.98 68.20,623.98 68.40,623.98 68.60,623.98 68.80,623.98 69.00,623.98 69.20,623.98 69.40,623.98 69.60,623.98 69.80,623.98 70.00,623.98 70.20,623.98 70.40,623.98 70.60,623.98 70.80,623.98 71.00,623.98 71.20,623.98 71.40,623.98 71.60,623.98 71.80,623.98 72.00,623.98 72.20,623.98 72.40,623.99 72.60,623.99 72.80,623.99 73.00,623.99 73.20,623.99 73.40,623.99 73.60,623.99 73.80,623.99 74.00,623.99 74.20,623.99 74.40,623.99 74.60,623.99 74.80,623.99 75.00,623.99 75.20,623.99 75.40,623.99 75.60,623.99 75.80,623.99 76.00,623.99 76.20,623.99 76.40,623.99 76.60,623.99 76.80,623.99 77.00,623.99 77.20,623.99 77.40,623.99 77.60,623.99 77.80,623.99 78.00,623.99 78.20,623.99 78.40,623.99 78.60,623.99 78.80,623.99 79.00,623.99 79.20,623.99 79.40,623.99 79.60,623.99 79.80,623.99 80.00,623.99 80.20,623.99 80.40,623.99 80.60,623.99 80.80,623.99 81.00,623.99 81.20,623.99 81.40,623.99 81.60,623.99 81.80,623.99 82.00,623.99 82.20,623.99 82.40,623.99 82.60,623.99 82.80,623.99 83.00,623.99 83.20,623.99 83.40,623.99 83.60,623.99 83.80,623.99 84.00,623.99 84.20,623.99 84.40,623.99 84.60,623.99 84.80,623.99 85.00,623.99 85.20,623.99 85.40,623.99 85.60,623.99 85.80,623.99 86.00,623.99 86.20,623.99 86.40,623.99 86.60,623.99 86.80,623.99 87.00,623.99 87.20,623.99 87.40,623.99 87.60,623.99 87.80,623.99 88.00,623.99 88.20,623.99 88.40,623.99 88.60,623.99 88.80,623.99 89.00,623.99 89.20,623.99 89.40,623.99 89.60,623.99 89.80,623.99 90.00,623.99 90.20,623.99 90.40,623.99 90.60,623.99 90.80,623.99 91.00,623.99 91.20,623.99 91.40,623.99 91.60,623.99 91.80,623.99 92.00,623.99 92.20,623.99 92.40,623.99 92.60,623.99 92.80,623.99 93.00,623.99 93.20,623.99 93.40,623.99 93.60,623.99 93.80,623.99 94.00,623.99 94.20,623.99 94.40,623.99 94.60,623.99 94.80,623.99 95.00,623.99 95.20,623.99 95.40,623.99 95.60,623.99 95.80,623.99 96.00,623.99 96.20,623.99 96.40,623.99 96.60,623.99 96.80,623.99 97.00,623.99 97.20,623.99 97.40,623.99 97.60,623.99 97.80,623.99 98.00,623.99 98.20,623.99 98.40,623.99 98.60,623.99 98.80,624.00 99.00,624.00 99.20,624.00 99.40,624.00 99.60,624.00 99.80,624.00 100.00,624.00 100.20,624.00 100.40,624.00 100.60,624.00 100.80,624.00 101.00,624.00 101.20,624.00 101.40,624.00 101.60,624.00 101.80,624.00 102.00,624.00 102.20,624.00 102.40,624.00 102.60,624.00 102.80,624.00 103.00,624.00 103.20,624.00 103.40,624.00 103.60,624.00 103.80,624.00 104.00,624.00 104.20,624.00 104.40,624.00 104.60,624.00 104.80,624.00 105.00,624.00 105.20,624.00 105.40,624.00 105.60,624.00 105.80,624.00 106.00,624.00 106.20,624.00 106.40,624.00 106.60,624.00 106.80,624.00 107.00,624.00 107.20,624.00 107.40,624.00 107.60,624.00 107.80,624.00 108.00,624.00 108.20,624.00 108.40,624.00 108.60,624.00 108.80,624.00 109.00,624.00 109.20,624.00 109.40,624.00 109.60,624.00 109.80,624.00 110.00,624.00 110.20,624.00 110.40,624.00 110.60,624.00 110.80,624.00 111.00,624.00 111.20,624.00 111.40,624.00 111.60,624.00 111.80,624.00 112.00,624.00 112.20,624.00 112.40,624.00 112.60,624.00 112.80,624.00 113.00,624.00 113.20,624.00 113.40,624.00 113.60,624.00 113.80,624.00 114.00,624.00 114.20,624.00 114.40,624.00 114.60,624.00 114.80,624.00 115.00,624.00 115.20,624.00 115.40,624.00 115.60,624.00 115.80,624.00 116.00,624.00 116.20,624.00 116.40,624.00 116.60,624.00 116.80,624.00 117.00,624.00 117.20,624.00 117.40,624.00 117.60,624.00 117.80,624.00 118.00,624.00 118.20,624.00 118.40,624.00 118.60,624.00 118.80,624.00 119.00,624.00 119.20,624.00 119.40,624.00 119.60,624.00 119.80,624.00 120.00,623.99 120.20,623.99 120.40,623.99 120.60,623.99 120.80,623.99 121.00,623.99 121.20,623.99 121.40,623.99 121.60,623.99 121.80,623.99 122.00,623.99 122.20,623.99 122.40,623.99 122.60,623.99 122.80,623.99 123.00,623.99 123.20,623.99 123.40,623.99 123.60,623.99 123.80,623.99 124.00,623.99 124.20,623.99 124.40,623.99 124.60,623.99 124.80,623.99 125.00,623.99 125.20,623.99 125.40,623.99 125.60,623.99 125.80,623.99 126.00,623.99 126.20,623.99 126.40,623.99 126.60,623.99 126.80,623.99 127.00,623.99 127.20,623.99 127.40,623.99 127.60,623.99 127.80,623.99 128.00,623.99 128.20,623.99 128.40,623.99 128.60,623.99 128.80,623.99 129.00,623.99 129.20,623.99 129.40,623.99 129.60,623.99 129.80,623.99 130.00,623.99 130.20,623.99 130.40,623.99 130.60,623.99 130.80,623.99 131.00,623.99 131.20,623.99 131.40,623.99 131.60,623.99 131.80,623.99 132.00,623.99 132.20,623.99 132.40,623.99 132.60,623.99 132.80,623.99 133.00,623.99 133.20,623.99 133.40,623.99 133.60,623.99 133.80,623.99 134.00,623.99 134.20,623.99 134.40,623.99 134.60,623.99 134.80,623.99 135.00,623.99 135.20,623.99 135.40,623.99 135.60,623.99 135.80,623.99 136.00,623.99 136.20,623.99 136.40,623.99 136.60,623.99 136.80,623.99 137.00,623.99 137.20,623.99 137.40,623.99 137.60,623.99 137.80,623.99 138.00,623.99 138.20,623.99 138.40,623.99 138.60,623.99 138.80,623.99 139.00,623.99 139.20,623.99 139.40,623.99 139.60,623.99 139.80,623.99 140.00,623.99 140.20,623.99 140.40,623.99 140.60,623.99 140.80,623.99 141.00,623.99 141.20,623.99 141.40,623.99 141.60,623.99 141.80,623.99 142.00,623.99 142.20,623.99 142.40,623.99 142.60,623.99 142.80,623.99 143.00,623.99 143.20,623.99 143.40,623.99 143.60,623.99 143.80,623.99 144.00,623.99 144.20,623.99 144.40,623.99 144.60,623.99 144.80,623.99 145.00,623.99 145.20,623.99 145.40,623.99 145.60,623.99 145.80,623.99 146.00,623.99 146.20,623.99 146.40,623.99 146.60,623.99 146.80,623.99 147.00,623.99 147.20,623.99 147.40,623.99 147.60,623.99 147.80,623.99 148.00,623.99 148.20,623.99 148.40,623.99 148.60,623.99 148.80,623.99 149.00,623.99 149.20,623.99 149.40,623.99 149.60,623.99 149.80,623.99 150.00,623.99 150.20,623.99 150.40,623.99 150.60,623.99 150.80,623.99 151.00,623.99 151.20,623.99 151.40,623.99 151.60,623.99 151.80,623.99 152.00,623.99 152.20,623.99 152.40,623.99 152.60,623.99 152.80,623.99 153.00,623.99 153.20,623.99 153.40,623.99 153.60,623.99 153.80,623.99 154.00,623.99 154.20,623.99 154.40,623.99 154.60,623.99 154.80,623.99 155.00,623.99 155.20,623.99 155.40,623.99 155.60,623.99 155.80,623.99 156.00,623.99 156.20,623.99 156.40,623.99 156.60,623.99 156.80,623.99 157.00,623.99 157.20,623.99 157.40,623.99 157.60,623.99 157.80,623.99 158.00,623.99 158.20,623.99 158.40,623.99 158.60,623.99 158.80,623.99 159.00,623.99 159.20,623.99 159.40,623.99 159.60,623.99 159.80,623.99 160.00,623.99 160.20,623.99 160.40,623.99 160.60,623.99 160.80,623.99 161.00,623.99 161.20,623.99 161.40,623.99 161.60,623.99 161.80,623.99 162.00,623.99 162.20,623.99 162.40,623.99 162.60,623.99 162.80,623.99 163.00,623.99 163.20,623.99 163.40,623.99 163.60,623.99 163.80,623.99 164.00,623.99 164.20,623.99 164.40,623.99 164.60,623.99 164.80,623.99 165.00,623.99 165.20,623.99 165.40,623.99 165.60,623.99 165.80,623.99 166.00,623.99 166.20,623.99 166.40,623.99 166.60,623.99 166.80,623.99 167.00,623.99 167.20,623.99 167.40,623.99 167.60,623.99 167.80,623.99 168.00,623.99 168.20,623.99 168.40,623.99 168.60,623.99 168.80,623.99 169.00,623.99 169.20,623.99 169.40,623.99 169.60,623.99 169.80,623.99 170.00,623.99 170.20,623.99 170.40,623.99 170.60,623.99 170.80,623.99 171.00,623.99 171.20,623.99 171.40,623.99 171.60,623.99 171.80,623.99 172.00,623.98 172.20,623.98 172.40,623.98 172.60,623.98 172.80,623.98 173.00,623.98 173.20,623.98 173.40,623.98 173.60,623.98 173.80,623.98 174.00,623.98 174.20,623.98 174.40,623.98 174.60,623.98 174.80,623.98 175.00,623.98 175.20,623.98 175.40,623.98 175.60,623.98 175.80,623.98 176.00,623.98 176.20,623.98 176.40,623.98 176.60,623.98 176.80,623.98 177.00,623.98 177.20,623.98 177.40,623.98 177.60,623.98 177.80,623.98 178.00,623.98 178.20,623.98 178.40,623.98 178.60,623.98 178.80,623.98 179.00,623.98 179.20,623.98 179.40,623.98 179.60,623.98 179.80,623.98 180.00,623.98 180.20,623.98 180.40,623.98 180.60,623.98 180.80,623.98 181.00,623.98 181.20,623.98 181.40,623.98 181.60,623.98 181.80,623.98 182.00,623.98 182.20,623.98 182.40,623.98 182.60,623.98 182.80,623.98 183.00,623.98 183.20,623.98 183.40,623.98 183.60,623.98 183.80,623.98 184.00,623.98 184.20,623.97 184.40,623.97 184.60,623.97 184.80,623.97 185.00,623.97 185.20,623.97 185.40,623.97 185.60,623.97 185.80,623.97 186.00,623.97 186.20,623.97 186.40,623.97 186.60,623.97 186.80,623.97 187.00,623.97 187.20,623.97 187.40,623.97 187.60,623.97 187.80,623.97 188.00,623.97 188.20,623.97 188.40,623.97 188.60,623.97 188.80,623.97 189.00,623.97 189.20,623.97 189.40,623.97 189.60,623.97 189.80,623.97 190.00,623.97 190.20,623.96 190.40,623.96 190.60,623.96 190.80,623.96 191.00,623.96 191.20,623.96 191.40,623.96 191.60,623.96 191.80,623.96 192.00,623.96 192.20,623.96 192.40,623.96 192.60,623.96 192.80,623.96 193.00,623.96 193.20,623.96 193.40,623.96 193.60,623.96 193.80,623.96 194.00,623.96 194.20,623.95 194.40,623.95 194.60,623.95 194.80,623.95 195.00,623.95 195.20,623.95 195.40,623.95 195.60,623.95 195.80,623.95 196.00,623.95 196.20,623.95 196.40,623.95 196.60,623.95 196.80,623.94 197.00,623.94 197.20,623.94 197.40,623.94 197.60,623.94 197.80,623.94 198.00,623.94 198.20,623.94 198.40,623.94 198.60,623.94 198.80,623.93 199.00,623.93 199.20,623.93 199.40,623.93 199.60,623.93 199.80,623.93 200.00,623.93 200.20,623.93 200.40,623.92 200.60,623.92 200.80,623.92 201.00,623.92 201.20,623.92 201.40,623.92 201.60,623.91 201.80,623.91 202.00,623.91 202.20,623.91 202.40,623.91 202.60,623.90 202.80,623.90 203.00,623.90 203.20,623.90 203.40,623.90 203.60,623.89 203.80,623.89 204.00,623.89 204.20,623.89 204.40,623.88 204.60,623.88 204.80,623.88 205.00,623.87 205.20,623.87 205.40,623.87 205.60,623.86 205.80,623.86 206.00,623.85 206.20,623.85 206.40,623.85 206.60,623.84 206.80,623.84 207.00,623.83 207.20,623.83 207.40,623.82 207.60,623.81 207.80,623.81 208.00,623.80 208.20,623.80 208.40,623.79 208.60,623.78 208.80,623.77 209.00,623.76 209.20,623.75 209.40,623.74 209.60,623.73 209.80,623.72 210.00,623.71 210.20,623.70 210.40,623.68 210.60,623.67 210.80,623.65 211.00,623.64 211.20,623.62 211.40,623.60 211.60,623.58 211.80,623.55 212.00,623.53 212.20,623.50 212.40,623.47 212.60,623.43 212.80,623.40 213.00,623.35 213.20,623.31 213.40,623.25 213.60,623.20 213.80,623.13 214.00,623.05 214.20,622.96 214.40,622.86 214.60,622.74 214.80,622.60 215.00,622.44 215.20,622.24 215.40,622.00 215.60,621.70 215.80,621.32 216.00,620.84 216.20,620.22 216.40,619.38 216.60,618.22 216.80,616.54 217.00,614.03 217.20,610.06 217.40,603.37 217.60,591.51 217.80,570.99 218.00,546.25 218.20,546.19 218.40,570.83 218.60,591.23 218.80,602.95 219.00,609.50 219.20,613.31 219.40,615.61 219.60,617.03 219.80,617.86 220.00,618.25 220.20,618.23 220.40,617.70 220.60,616.40 220.80,613.65 221.00,608.17 221.20,600.34 221.40,599.97 221.60,606.96 221.80,611.21 222.00,611.80 222.20,609.05 222.40,603.88 222.60,603.68 222.80,608.41 223.00,610.55 223.20,608.97 223.40,602.95 223.60,593.46 223.80,593.17 224.00,601.98 224.20,606.89 224.40,606.38 224.60,600.84 224.80,596.04 225.00,601.91 225.20,608.87 225.40,611.69 225.60,610.86 225.80,606.48 226.00,602.91 226.20,607.90 226.40,614.06 226.60,617.57 226.80,619.45 227.00,620.52 227.20,621.16 227.40,621.56 227.60,621.79 227.80,621.88 228.00,621.81 228.20,621.52 228.40,620.87 228.60,619.75 228.80,619.03 229.00,619.89 229.20,621.13 229.40,621.94 229.60,622.40 229.80,622.67 230.00,622.83 230.20,622.94 230.40,623.00 230.60,623.04 230.80,623.05 231.00,623.05 231.20,623.03 231.40,622.99 231.60,622.92 231.80,622.82 232.00,622.67 232.20,622.45 232.40,622.12 232.60,621.61 232.80,620.83 233.00,619.76 233.20,618.82 233.40,618.70 233.60,619.00 233.80,618.88 234.00,618.06 234.20,616.82 234.40,616.30 234.60,616.95 234.80,617.59 235.00,617.42 235.20,616.41 235.40,615.43 235.60,615.74 235.80,616.80 236.00,617.28 236.20,616.81 236.40,615.76 236.60,615.45 236.80,616.45 237.00,617.46 237.20,617.65 237.40,617.02 237.60,616.37 237.80,616.91 238.00,618.16 238.20,618.99 238.40,619.12 238.60,618.83 238.80,618.96 239.00,619.92 239.20,621.01 239.40,621.81 239.60,622.33 239.80,622.68 240.00,622.92 240.20,623.10 240.40,623.22 240.60,623.32 240.80,623.40 241.00,623.46 241.20,623.51 241.40,623.56 241.60,623.59 241.80,623.63 242.00,623.65 242.20,623.68 242.40,623.70 242.60,623.72 242.80,623.73 243.00,623.75 243.20,623.76 243.40,623.77 243.60,623.78 243.80,623.79 244.00,623.80 244.20,623.81 244.40,623.82 244.60,623.83 244.80,623.83 245.00,623.84 245.20,623.84 245.40,623.85 245.60,623.85 245.80,623.86 246.00,623.86 246.20,623.87 246.40,623.87 246.60,623.88 246.80,623.88 247.00,623.88 247.20,623.89 247.40,623.89 247.60,623.89 247.80,623.89 248.00,623.90 248.20,623.90 248.40,623.90 248.60,623.90 248.80,623.91 249.00,623.91 249.20,623.91 249.40,623.91 249.60,623.91 249.80,623.91 250.00,623.92 250.20,623.92 250.40,623.92 250.60,623.92 250.80,623.92 251.00,623.92 251.20,623.92 251.40,623.93 251.60,623.93 251.80,623.93 252.00,623.93 252.20,623.93 252.40,623.93 252.60,623.93 252.80,623.93 253.00,623.93 253.20,623.94 253.40,623.94 253.60,623.94 253.80,623.94 254.00,623.94 254.20,623.94 254.40,623.94 254.60,623.94 254.80,623.94 255.00,623.94 255.20,623.94 255.40,623.94 255.60,623.94 255.80,623.94 256.00,623.94 256.20,623.94 256.40,623.95 256.60,623.95 256.80,623.95 257.00,623.95 257.20,623.95 257.40,623.95 257.60,623.95 257.80,623.95 258.00,623.95 258.20,623.95 258.40,623.95 258.60,623.95 258.80,623.95 259.00,623.95 259.20,623.95 259.40,623.95 259.60,623.95 259.80,623.95 260.00,623.95 260.20,623.95 260.40,623.95 260.60,623.95 260.80,623.95 261.00,623.95 261.20,623.95 261.40,623.95 261.60,623.95 261.80,623.95 262.00,623.95 262.20,623.95 262.40,623.95 262.60,623.95 262.80,623.95 263.00,623.95 263.20,623.95 263.40,623.95 263.60,623.95 263.80,623.95 264.00,623.95 264.20,623.95 264.40,623.95 264.60,623.95 264.80,623.95 265.00,623.95 265.20,623.95 265.40,623.95 265.60,623.95 265.80,623.95 266.00,623.95 266.20,623.95 266.40,623.95 266.60,623.95 266.80,623.94 267.00,623.94 267.20,623.94 267.40,623.94 267.60,623.94 267.80,623.94 268.00,623.94 268.20,623.94 268.40,623.94 268.60,623.94 268.80,623.94 269.00,623.93 269.20,623.93 269.40,623.93 269.60,623.93 269.80,623.93 270.00,623.93 270.20,623.92 270.40,623.92 270.60,623.92 270.80,623.92 271.00,623.91 271.20,623.91 271.40,623.91 271.60,623.91 271.80,623.90 272.00,623.90 272.20,623.89 272.40,623.89 272.60,623.88 272.80,623.87 273.00,623.87 273.20,623.86 273.40,623.85 273.60,623.84 273.80,623.83 274.00,623.81 274.20,623.80 274.40,623.78 274.60,623.75 274.80,623.72 275.00,623.69 275.20,623.64 275.40,623.59 275.60,623.51 275.80,623.40 276.00,623.25 276.20,623.02 276.40,622.64 276.60,621.94 276.80,620.53 277.00,617.65 277.20,614.95 277.40,617.35 277.60,619.86 277.80,620.74 278.00,620.54 278.20,619.14 278.40,615.77 278.60,612.54 278.80,615.69 279.00,618.96 279.20,620.24 279.40,620.24 279.60,618.96 279.80,615.68 280.00,612.54 280.20,615.76 280.40,619.14 280.60,620.54 280.80,620.74 281.00,619.86 281.20,617.35 281.40,614.94 281.60,617.65 281.80,620.53 282.00,621.94 282.20,622.64 282.40,623.02 282.60,623.25 282.80,623.40 283.00,623.50 283.20,623.58 283.40,623.64 283.60,623.68 283.80,623.72 284.00,623.75 284.20,623.77 284.40,623.79 284.60,623.80 284.80,623.82 285.00,623.83 285.20,623.84 285.40,623.85 285.60,623.86 285.80,623.87 286.00,623.87 286.20,623.88 286.40,623.88 286.60,623.89 286.80,623.89 287.00,623.89 287.20,623.90 287.40,623.90 287.60,623.90 287.80,623.91 288.00,623.91 288.20,623.91 288.40,623.91 288.60,623.91 288.80,623.91 289.00,623.92 289.20,623.92 289.40,623.92 289.60,623.92 289.80,623.92 290.00,623.92 290.20,623.92 290.40,623.92 290.60,623.92 290.80,623.92 291.00,623.92 291.20,623.92 291.40,623.92 291.60,623.92 291.80,623.92 292.00,623.92 292.20,623.92 292.40,623.92 292.60,623.92 292.80,623.92 293.00,623.92 293.20,623.92 293.40,623.92 293.60,623.92 293.80,623.92 294.00,623.92 294.20,623.92 294.40,623.92 294.60,623.92 294.80,623.92 295.00,623.92 295.20,623.92 295.40,623.92 295.60,623.91 295.80,623.91 296.00,623.91 296.20,623.91 296.40,623.91 296.60,623.91 296.80,623.91 297.00,623.91 297.20,623.91 297.40,623.90 297.60,623.90 297.80,623.90 298.00,623.90 298.20,623.90 298.40,623.90 298.60,623.90 298.80,623.89 299.00,623.89 299.20,623.89 299.40,623.89 299.60,623.89 299.80,623.88 300.00,623.88 300.20,623.88 300.40,623.88 300.60,623.87 300.80,623.87 301.00,623.87 301.20,623.86 301.40,623.86 301.60,623.86 301.80,623.85 302.00,623.85 302.20,623.85 302.40,623.84 302.60,623.84 302.80,623.83 303.00,623.83 303.20,623.82 303.40,623.82 303.60,623.81 303.80,623.81 304.00,623.80 304.20,623.80 304.40,623.79 304.60,623.78 304.80,623.78 305.00,623.77 305.20,623.76 305.40,623.75 305.60,623.74 305.80,623.73 306.00,623.72 306.20,623.71 306.40,623.70 306.60,623.69 306.80,623.67 307.00,623.66 307.20,623.64 307.40,623.63 307.60,623.61 307.80,623.59 308.00,623.57 308.20,623.55 308.40,623.53 308.60,623.50 308.80,623.47 309.00,623.44 309.20,623.41 309.40,623.38 309.60,623.34 309.80,623.29 310.00,623.25 310.20,623.20 310.40,623.14 310.60,623.07 310.80,623.00 311.00,622.92 311.20,622.83 311.40,622.72 311.60,622.60 311.80,622.47 312.00,622.31 312.20,622.13 312.40,621.91 312.60,621.65 312.80,621.34 313.00,620.97 313.20,620.51 313.40,619.93 313.60,619.19 313.80,618.22 314.00,616.92 314.20,615.11 314.40,612.50 314.60,608.50 314.80,601.99 315.00,590.53 315.20,568.96 315.40,530.94 315.60,499.99 315.80,521.89 316.00,547.50 316.20,547.86 316.40,523.08 316.60,501.77 316.80,532.29 317.00,569.71 317.20,590.95 317.40,602.24 317.60,608.66 317.80,612.60 318.00,615.19 318.20,616.98 318.40,618.26 318.60,619.22 318.80,619.95 319.00,620.53 319.20,620.99 319.40,621.36 319.60,621.67 319.80,621.92 320.00,622.14 320.20,622.32 320.40,622.48 320.60,622.61 320.80,622.73 321.00,622.83 321.20,622.93 321.40,623.01 321.60,623.08 321.80,623.14 322.00,623.20 322.20,623.25 322.40,623.30 322.60,623.34 322.80,623.38 323.00,623.42 323.20,623.45 323.40,623.48 323.60,623.51 323.80,623.53 324.00,623.56 324.20,623.58 324.40,623.60 324.60,623.62 324.80,623.63 325.00,623.65 325.20,623.66 325.40,623.68 325.60,623.69 325.80,623.70 326.00,623.72 326.20,623.73 326.40,623.74 326.60,623.75 326.80,623.76 327.00,623.77 327.20,623.77 327.40,623.78 327.60,623.79 327.80,623.80 328.00,623.80 328.20,623.81 328.40,623.81 328.60,623.82 328.80,623.83 329.00,623.83 329.20,623.84 329.40,623.84 329.60,623.85 329.80,623.85 330.00,623.85 330.20,623.86 330.40,623.86 330.60,623.87 330.80,623.87 331.00,623.87 331.20,623.88 331.40,623.88 331.60,623.88 331.80,623.89 332.00,623.89 332.20,623.89 332.40,623.89 332.60,623.90 332.80,623.90 333.00,623.90 333.20,623.90 333.40,623.90 333.60,623.91 333.80,623.91 334.00,623.91 334.20,623.91 334.40,623.91 334.60,623.92 334.80,623.92 335.00,623.92 335.20,623.92 335.40,623.92 335.60,623.92 335.80,623.93 336.00,623.93 336.20,623.93 336.40,623.93 336.60,623.93 336.80,623.93 337.00,623.93 337.20,623.94 337.40,623.94 337.60,623.94 337.80,623.94 338.00,623.94 338.20,623.94 338.40,623.94 338.60,623.94 338.80,623.94 339.00,623.94 339.20,623.95 339.40,623.95 339.60,623.95 339.80,623.95 340.00,623.95 340.20,623.95 340.40,623.95 340.60,623.95 340.80,623.95 341.00,623.95 341.20,623.95 341.40,623.95 341.60,623.95 341.80,623.96 342.00,623.96 342.20,623.96 342.40,623.96 342.60,623.96 342.80,623.96 343.00,623.96 343.20,623.96 343.40,623.96 343.60,623.96 343.80,623.96 344.00,623.96 344.20,623.96 344.40,623.96 344.60,623.96 344.80,623.96 345.00,623.96 345.20,623.96 345.40,623.97 345.60,623.97 345.80,623.97 346.00,623.97 346.20,623.97 346.40,623.97 346.60,623.97 346.80,623.97 347.00,623.97 347.20,623.97 347.40,623.97 347.60,623.97 347.80,623.97 348.00,623.97 348.20,623.97 348.40,623.97 348.60,623.97 348.80,623.97 349.00,623.97 349.20,623.97 349.40,623.97 349.60,623.97 349.80,623.97 350.00,623.97 350.20,623.97 350.40,623.97 350.60,623.97 350.80,623.97 351.00,623.97 351.20,623.98 351.40,623.98 351.60,623.98 351.80,623.98 352.00,623.98 352.20,623.98 352.40,623.98 352.60,623.98 352.80,623.98 353.00,623.98 353.20,623.98 353.40,623.98 353.60,623.98 353.80,623.98 354.00,623.98 354.20,623.98 354.40,623.98 354.60,623.98 354.80,623.98 355.00,623.98 355.20,623.98 355.40,623.98 355.60,623.98 355.80,623.98 356.00,623.98 356.20,623.98 356.40,623.98 356.60,623.98 356.80,623.98 357.00,623.98 357.20,623.98 357.40,623.98 357.60,623.98 357.80,623.98 358.00,623.98 358.20,623.98 358.40,623.98 358.60,623.98 358.80,623.98 359.00,623.98 359.20,623.98 359.40,623.98 359.60,623.98 359.80,623.98 360.00,623.98 360.20,623.98 360.40,623.98 360.60,623.98 360.80,623.98 361.00,623.98 361.20,623.98 361.40,623.98 361.60,623.98 361.80,623.98 362.00,623.98 362.20,623.98 362.40,623.98 362.60,623.99 362.80,623.99 363.00,623.99 363.20,623.99 363.40,623.99 363.60,623.99 363.80,623.99 364.00,623.99 364.20,623.99 364.40,623.99" fill="none" stroke="#3a96c6" stroke-width="1.0" stroke-linejoin="round" /><polyline points="44.20,594.56 44.40,594.56 44.60,594.56 44.80,594.56 45.00,594.56 45.20,594.55 45.40,594.55 45.60,594.55 45.80,594.54 46.00,594.54 46.20,594.54 46.40,594.53 46.60,594.53 46.80,594.52 47.00,594.52 47.20,594.51 47.40,594.50 47.60,594.49 47.80,594.48 48.00,594.47 48.20,594.46 48.40,594.44 48.60,594.42 48.80,594.39 49.00,594.36 49.20,594.33 49.40,594.28 49.60,594.21 49.80,594.12 50.00,594.00 50.20,593.82 50.40,593.55 50.60,593.13 50.80,592.48 51.00,591.66 51.20,591.17 51.40,591.46 51.60,592.04 51.80,592.38 52.00,592.35 52.20,591.95 52.40,591.30 52.60,590.92 52.80,591.30 53.00,591.95 53.20,592.35 53.40,592.38 53.60,592.04 53.80,591.46 54.00,591.17 54.20,591.66 54.40,592.48 54.60,593.13 54.80,593.55 55.00,593.82 55.20,594.00 55.40,594.12 55.60,594.21 55.80,594.28 56.00,594.32 56.20,594.36 56.40,594.39 56.60,594.42 56.80,594.44 57.00,594.46 57.20,594.47 57.40,594.48 57.60,594.49 57.80,594.50 58.00,594.51 58.20,594.52 58.40,594.52 58.60,594.53 58.80,594.53 59.00,594.54 59.20,594.54 59.40,594.54 59.60,594.55 59.80,594.55 60.00,594.55 60.20,594.56 60.40,594.56 60.60,594.56 60.80,594.56 61.00,594.56 61.20,594.56 61.40,594.57 61.60,594.57 61.80,594.57 62.00,594.57 62.20,594.57 62.40,594.57 62.60,594.57 62.80,594.57 63.00,594.58 63.20,594.58 63.40,594.58 63.60,594.58 63.80,594.58 64.00,594.58 64.20,594.58 64.40,594.58 64.60,594.58 64.80,594.58 65.00,594.58 65.20,594.58 65.40,594.58 65.60,594.58 65.80,594.58 66.00,594.58 66.20,594.58 66.40,594.58 66.60,594.58 66.80,594.59 67.00,594.59 67.20,594.59 67.40,594.59 67.60,594.59 67.80,594.59 68.00,594.59 68.20,594.59 68.40,594.59 68.60,594.59 68.80,594.59 69.00,594.59 69.20,594.59 69.40,594.59 69.60,594.59 69.80,594.59 70.00,594.59 70.20,594.59 70.40,594.59 70.60,594.59 70.80,594.59 71.00,594.59 71.20,594.59 71.40,594.59 71.60,594.59 71.80,594.59 72.00,594.59 72.20,594.59 72.40,594.59 72.60,594.59 72.80,594.59 73.00,594.59 73.20,594.59 73.40,594.59 73.60,594.59 73.80,594.59 74.00,594.59 74.20,594.59 74.40,594.59 74.60,594.59 74.80,594.59 75.00,594.59 75.20,594.59 75.40,594.59 75.60,594.59 75.80,594.59 76.00,594.59 76.20,594.59 76.40,594.59 76.60,594.59 76.80,594.59 77.00,594.59 77.20,594.59 77.40,594.59 77.60,594.59 77.80,594.59 78.00,594.59 78.20,594.59 78.40,594.59 78.60,594.59 78.80,594.59 79.00,594.59 79.20,594.59 79.40,594.59 79.60,594.59 79.80,594.59 80.00,594.59 80.20,594.59 80.40,594.59 80.60,594.59 80.80,594.59 81.00,594.59 81.20,594.59 81.40,594.59 81.60,594.59 81.80,594.59 82.00,594.59 82.20,594.59 82.40,594.59 82.60,594.59 82.80,594.59 83.00,594.59 83.20,594.59 83.40,594.59 83.60,594.59 83.80,594.59 84.00,594.59 84.20,594.59 84.40,594.59 84.60,594.59 84.80,594.59 85.00,594.59 85.20,594.59 85.40,594.59 85.60,594.59 85.80,594.59 86.00,594.59 86.20,594.59 86.40,594.59 86.60,594.59 86.80,594.59 87.00,594.59 87.20,594.59 87.40,594.59 87.60,594.59 87.80,594.59 88.00,594.59 88.20,594.59 88.40,594.59 88.60,594.59 88.80,594.59 89.00,594.59 89.20,594.59 89.40,594.59 89.60,594.59 89.80,594.59 90.00,594.59 90.20,594.59 90.40,594.59 90.60,594.59 90.80,594.59 91.00,594.59 91.20,594.59 91.40,594.59 91.60,594.59 91.80,594.59 92.00,594.59 92.20,594.59 92.40,594.59 92.60,594.59 92.80,594.59 93.00,594.59 93.20,594.59 93.40,594.59 93.60,594.59 93.80,594.59 94.00,594.59 94.20,594.59 94.40,594.59 94.60,594.59 94.80,594.59 95.00,594.59 95.20,594.59 95.40,594.59 95.60,594.59 95.80,594.59 96.00,594.59 96.20,594.59 96.40,594.59 96.60,594.59 96.80,594.59 97.00,594.59 97.20,594.59 97.40,594.59 97.60,594.59 97.80,594.59 98.00,594.59 98.20,594.59 98.40,594.59 98.60,594.59 98.80,594.59 99.00,594.59 99.20,594.59 99.40,594.59 99.60,594.59 99.80,594.58 100.00,594.58 100.20,594.58 100.40,594.58 100.60,594.58 100.80,594.58 101.00,594.58 101.20,594.58 101.40,594.58 101.60,594.58 101.80,594.58 102.00,594.58 102.20,594.58 102.40,594.58 102.60,594.58 102.80,594.58 103.00,594.58 103.20,594.58 103.40,594.58 103.60,594.58 103.80,594.58 104.00,594.58 104.20,594.58 104.40,594.58 104.60,594.58 104.80,594.57 105.00,594.57 105.20,594.57 105.40,594.57 105.60,594.57 105.80,594.57 106.00,594.57 106.20,594.57 106.40,594.57 106.60,594.57 106.80,594.57 107.00,594.56 107.20,594.56 107.40,594.56 107.60,594.56 107.80,594.56 108.00,594.56 108.20,594.56 108.40,594.55 108.60,594.55 108.80,594.55 109.00,594.55 109.20,594.54 109.40,594.54 109.60,594.54 109.80,594.54 110.00,594.53 110.20,594.53 110.40,594.52 110.60,594.52 110.80,594.51 111.00,594.51 111.20,594.50 111.40,594.49 111.60,594.48 111.80,594.47 112.00,594.46 112.20,594.45 112.40,594.43 112.60,594.41 112.80,594.39 113.00,594.36 113.20,594.32 113.40,594.28 113.60,594.22 113.80,594.14 114.00,594.03 114.20,593.87 114.40,593.64 114.60,593.28 114.80,592.72 115.00,591.96 115.20,591.34 115.40,591.42 115.60,591.92 115.80,592.24 116.00,592.20 116.20,591.79 116.40,591.19 116.60,590.99 116.80,591.45 117.00,591.97 117.20,592.16 117.40,591.97 117.60,591.45 117.80,590.99 118.00,591.19 118.20,591.79 118.40,592.20 118.60,592.24 118.80,591.91 119.00,591.41 119.20,591.34 119.40,591.96 119.60,592.72 119.80,593.27 120.00,593.63 120.20,593.87 120.40,594.02 120.60,594.13 120.80,594.21 121.00,594.27 121.20,594.31 121.40,594.35 121.60,594.38 121.80,594.40 122.00,594.42 122.20,594.44 122.40,594.45 122.60,594.46 122.80,594.47 123.00,594.48 123.20,594.49 123.40,594.49 123.60,594.50 123.80,594.50 124.00,594.51 124.20,594.51 124.40,594.51 124.60,594.52 124.80,594.52 125.00,594.52 125.20,594.52 125.40,594.53 125.60,594.53 125.80,594.53 126.00,594.53 126.20,594.53 126.40,594.53 126.60,594.53 126.80,594.53 127.00,594.53 127.20,594.53 127.40,594.53 127.60,594.52 127.80,594.52 128.00,594.52 128.20,594.52 128.40,594.52 128.60,594.51 128.80,594.51 129.00,594.50 129.20,594.50 129.40,594.49 129.60,594.49 129.80,594.48 130.00,594.47 130.20,594.46 130.40,594.45 130.60,594.43 130.80,594.41 131.00,594.39 131.20,594.36 131.40,594.33 131.60,594.28 131.80,594.23 132.00,594.15 132.20,594.05 132.40,593.90 132.60,593.69 132.80,593.36 133.00,592.84 133.20,592.04 133.40,591.04 133.60,590.45 133.80,590.88 134.00,591.70 134.20,592.27 134.40,592.45 134.60,592.27 134.80,591.71 135.00,590.88 135.20,590.45 135.40,591.04 135.60,592.04 135.80,592.84 136.00,593.36 136.20,593.69 136.40,593.91 136.60,594.05 136.80,594.16 137.00,594.23 137.20,594.29 137.40,594.34 137.60,594.37 137.80,594.40 138.00,594.42 138.20,594.44 138.40,594.46 138.60,594.47 138.80,594.48 139.00,594.49 139.20,594.50 139.40,594.51 139.60,594.51 139.80,594.52 140.00,594.52 140.20,594.53 140.40,594.53 140.60,594.54 140.80,594.54 141.00,594.54 141.20,594.55 141.40,594.55 141.60,594.55 141.80,594.55 142.00,594.55 142.20,594.56 142.40,594.56 142.60,594.56 142.80,594.56 143.00,594.56 143.20,594.56 143.40,594.56 143.60,594.57 143.80,594.57 144.00,594.57 144.20,594.57 144.40,594.57 144.60,594.57 144.80,594.57 145.00,594.57 145.20,594.57 145.40,594.57 145.60,594.57 145.80,594.57 146.00,594.57 146.20,594.58 146.40,594.58 146.60,594.58 146.80,594.58 147.00,594.58 147.20,594.58 147.40,594.58 147.60,594.58 147.80,594.58 148.00,594.58 148.20,594.58 148.40,594.58 148.60,594.58 148.80,594.58 149.00,594.58 149.20,594.58 149.40,594.58 149.60,594.58 149.80,594.58 150.00,594.58 150.20,594.58 150.40,594.58 150.60,594.58 150.80,594.58 151.00,594.58 151.20,594.58 151.40,594.58 151.60,594.58 151.80,594.58 152.00,594.58 152.20,594.58 152.40,594.58 152.60,594.58 152.80,594.58 153.00,594.58 153.20,594.58 153.40,594.58 153.60,594.58 153.80,594.58 154.00,594.58 154.20,594.58 154.40,594.58 154.60,594.58 154.80,594.58 155.00,594.58 155.20,594.58 155.40,594.58 155.60,594.58 155.80,594.58 156.00,594.58 156.20,594.58 156.40,594.58 156.60,594.58 156.80,594.58 157.00,594.58 157.20,594.58 157.40,594.58 157.60,594.58 157.80,594.58 158.00,594.59 158.20,594.59 158.40,594.59 158.60,594.59 158.80,594.59 159.00,594.59 159.20,594.59 159.40,594.59 159.60,594.59 159.80,594.59 160.00,594.59 160.20,594.59 160.40,594.59 160.60,594.59 160.80,594.59 161.00,594.59 161.20,594.59 161.40,594.59 161.60,594.59 161.80,594.59 162.00,594.59 162.20,594.59 162.40,594.59 162.60,594.59 162.80,594.59 163.00,594.59 163.20,594.59 163.40,594.58 163.60,594.58 163.80,594.58 164.00,594.58 164.20,594.58 164.40,594.58 164.60,594.58 164.80,594.58 165.00,594.58 165.20,594.58 165.40,594.58 165.60,594.58 165.80,594.58 166.00,594.58 166.20,594.58 166.40,594.58 166.60,594.58 166.80,594.58 167.00,594.58 167.20,594.58 167.40,594.58 167.60,594.58 167.80,594.58 168.00,594.58 168.20,594.58 168.40,594.58 168.60,594.58 168.80,594.58 169.00,594.58 169.20,594.58 169.40,594.58 169.60,594.58 169.80,594.58 170.00,594.58 170.20,594.58 170.40,594.58 170.60,594.58 170.80,594.58 171.00,594.58 171.20,594.58 171.40,594.58 171.60,594.58 171.80,594.58 172.00,594.58 172.20,594.58 172.40,594.58 172.60,594.58 172.80,594.58 173.00,594.58 173.20,594.58 173.40,594.58 173.60,594.58 173.80,594.58 174.00,594.58 174.20,594.58 174.40,594.58 174.60,594.58 174.80,594.58 175.00,594.58 175.20,594.58 175.40,594.58 175.60,594.58 175.80,594.58 176.00,594.58 176.20,594.58 176.40,594.58 176.60,594.58 176.80,594.58 177.00,594.58 177.20,594.58 177.40,594.58 177.60,594.58 177.80,594.58 178.00,594.58 178.20,594.58 178.40,594.58 178.60,594.58 178.80,594.58 179.00,594.58 179.20,594.58 179.40,594.58 179.60,594.58 179.80,594.58 180.00,594.58 180.20,594.58 180.40,594.58 180.60,594.58 180.80,594.58 181.00,594.58 181.20,594.58 181.40,594.58 181.60,594.58 181.80,594.58 182.00,594.58 182.20,594.58 182.40,594.58 182.60,594.58 182.80,594.58 183.00,594.58 183.20,594.58 183.40,594.58 183.60,594.57 183.80,594.57 184.00,594.57 184.20,594.57 184.40,594.57 184.60,594.57 184.80,594.57 185.00,594.57 185.20,594.57 185.40,594.57 185.60,594.57 185.80,594.57 186.00,594.57 186.20,594.57 186.40,594.57 186.60,594.57 186.80,594.57 187.00,594.57 187.20,594.57 187.40,594.57 187.60,594.57 187.80,594.57 188.00,594.57 188.20,594.57 188.40,594.57 188.60,594.57 188.80,594.57 189.00,594.57 189.20,594.57 189.40,594.57 189.60,594.57 189.80,594.57 190.00,594.57 190.20,594.57 190.40,594.57 190.60,594.57 190.80,594.56 191.00,594.56 191.20,594.56 191.40,594.56 191.60,594.56 191.80,594.56 192.00,594.56 192.20,594.56 192.40,594.56 192.60,594.56 192.80,594.56 193.00,594.56 193.20,594.56 193.40,594.56 193.60,594.56 193.80,594.56 194.00,594.56 194.20,594.56 194.40,594.56 194.60,594.56 194.80,594.56 195.00,594.55 195.20,594.55 195.40,594.55 195.60,594.55 195.80,594.55 196.00,594.55 196.20,594.55 196.40,594.55 196.60,594.55 196.80,594.55 197.00,594.55 197.20,594.55 197.40,594.55 197.60,594.55 197.80,594.54 198.00,594.54 198.20,594.54 198.40,594.54 198.60,594.54 198.80,594.54 199.00,594.54 199.20,594.54 199.40,594.54 199.60,594.54 199.80,594.53 200.00,594.53 200.20,594.53 200.40,594.53 200.60,594.53 200.80,594.53 201.00,594.53 201.20,594.53 201.40,594.52 201.60,594.52 201.80,594.52 202.00,594.52 202.20,594.52 202.40,594.52 202.60,594.51 202.80,594.51 203.00,594.51 203.20,594.51 203.40,594.51 203.60,594.50 203.80,594.50 204.00,594.50 204.20,594.50 204.40,594.49 204.60,594.49 204.80,594.49 205.00,594.49 205.20,594.48 205.40,594.48 205.60,594.48 205.80,594.47 206.00,594.47 206.20,594.47 206.40,594.46 206.60,594.46 206.80,594.45 207.00,594.45 207.20,594.44 207.40,594.44 207.60,594.43 207.80,594.43 208.00,594.42 208.20,594.42 208.40,594.41 208.60,594.40 208.80,594.39 209.00,594.39 209.20,594.38 209.40,594.37 209.60,594.36 209.80,594.35 210.00,594.34 210.20,594.32 210.40,594.31 210.60,594.30 210.80,594.28 211.00,594.26 211.20,594.24 211.40,594.22 211.60,594.20 211.80,594.18 212.00,594.15 212.20,594.12 212.40,594.08 212.60,594.04 212.80,594.00 213.00,593.95 213.20,593.89 213.40,593.83 213.60,593.76 213.80,593.67 214.00,593.57 214.20,593.45 214.40,593.30 214.60,593.13 214.80,592.91 215.00,592.65 215.20,592.31 215.40,591.87 215.60,591.29 215.80,590.50 216.00,589.40 216.20,587.79 216.40,585.35 216.60,581.46 216.80,574.99 217.00,564.26 217.20,549.32 217.40,540.40 217.60,549.30 217.80,564.22 218.00,574.93 218.20,581.38 218.40,585.24 218.60,587.66 218.80,589.24 219.00,590.31 219.20,591.07 219.40,591.61 219.60,592.00 219.80,592.28 220.00,592.48 220.20,592.61 220.40,592.67 220.60,592.65 220.80,592.55 221.00,592.31 221.20,591.85 221.40,590.99 221.60,589.53 221.80,588.05 222.00,588.28 222.20,589.28 222.40,589.43 222.60,588.42 222.80,586.46 223.00,585.69 223.20,587.32 223.40,588.74 223.60,588.86 223.80,587.73 224.00,586.35 224.20,587.09 224.40,588.88 224.60,589.79 224.80,589.58 225.00,588.57 225.20,588.36 225.40,589.87 225.60,591.38 225.80,592.29 226.00,592.83 226.20,593.15 226.40,593.35 226.60,593.49 226.80,593.58 227.00,593.65 227.20,593.69 227.40,593.72 227.60,593.74 227.80,593.75 228.00,593.75 228.20,593.74 228.40,593.73 228.60,593.72 228.80,593.69 229.00,593.66 229.20,593.63 229.40,593.59 229.60,593.54 229.80,593.49 230.00,593.43 230.20,593.36 230.40,593.29 230.60,593.20 230.80,593.11 231.00,593.01 231.20,592.89 231.40,592.77 231.60,592.63 231.80,592.48 232.00,592.32 232.20,592.16 232.40,591.99 232.60,591.81 232.80,591.65 233.00,591.49 233.20,591.35 233.40,591.23 233.60,591.15 233.80,591.11 234.00,591.11 234.20,591.16 234.40,591.24 234.60,591.36 234.80,591.51 235.00,591.67 235.20,591.84 235.40,592.02 235.60,592.20 235.80,592.37 236.00,592.53 236.20,592.69 236.40,592.83 236.60,592.96 236.80,593.08 237.00,593.19 237.20,593.29 237.40,593.38 237.60,593.47 237.80,593.54 238.00,593.61 238.20,593.68 238.40,593.74 238.60,593.79 238.80,593.84 239.00,593.88 239.20,593.92 239.40,593.96 239.60,593.99 239.80,594.02 240.00,594.05 240.20,594.08 240.40,594.10 240.60,594.13 240.80,594.15 241.00,594.17 241.20,594.19 241.40,594.20 241.60,594.22 241.80,594.23 242.00,594.25 242.20,594.26 242.40,594.27 242.60,594.28 242.80,594.30 243.00,594.31 243.20,594.32 243.40,594.32 243.60,594.33 243.80,594.34 244.00,594.35 244.20,594.35 244.40,594.36 244.60,594.37 244.80,594.37 245.00,594.38 245.20,594.38 245.40,594.39 245.60,594.39 245.80,594.40 246.00,594.40 246.20,594.41 246.40,594.41 246.60,594.41 246.80,594.42 247.00,594.42 247.20,594.42 247.40,594.43 247.60,594.43 247.80,594.43 248.00,594.43 248.20,594.44 248.40,594.44 248.60,594.44 248.80,594.44 249.00,594.44 249.20,594.44 249.40,594.44 249.60,594.45 249.80,594.45 250.00,594.45 250.20,594.45 250.40,594.45 250.60,594.45 250.80,594.45 251.00,594.45 251.20,594.45 251.40,594.45 251.60,594.45 251.80,594.45 252.00,594.45 252.20,594.45 252.40,594.45 252.60,594.45 252.80,594.45 253.00,594.45 253.20,594.45 253.40,594.44 253.60,594.44 253.80,594.44 254.00,594.44 254.20,594.44 254.40,594.43 254.60,594.43 254.80,594.43 255.00,594.43 255.20,594.42 255.40,594.42 255.60,594.42 255.80,594.41 256.00,594.41 256.20,594.40 256.40,594.40 256.60,594.39 256.80,594.39 257.00,594.38 257.20,594.37 257.40,594.36 257.60,594.36 257.80,594.35 258.00,594.34 258.20,594.33 258.40,594.32 258.60,594.30 258.80,594.29 259.00,594.27 259.20,594.26 259.40,594.24 259.60,594.22 259.80,594.20 260.00,594.17 260.20,594.15 260.40,594.12 260.60,594.09 260.80,594.05 261.00,594.01 261.20,593.97 261.40,593.92 261.60,593.86 261.80,593.80 262.00,593.74 262.20,593.66 262.40,593.58 262.60,593.49 262.80,593.39 263.00,593.28 263.20,593.17 263.40,593.05 263.60,592.93 263.80,592.82 264.00,592.71 264.20,592.63 264.40,592.56 264.60,592.53 264.80,592.53 265.00,592.56 265.20,592.62 265.40,592.71 265.60,592.81 265.80,592.92 266.00,593.03 266.20,593.15 266.40,593.26 266.60,593.37 266.80,593.46 267.00,593.55 267.20,593.63 267.40,593.71 267.60,593.77 267.80,593.83 268.00,593.88 268.20,593.93 268.40,593.97 268.60,594.00 268.80,594.03 269.00,594.06 269.20,594.08 269.40,594.11 269.60,594.12 269.80,594.14 270.00,594.15 270.20,594.16 270.40,594.17 270.60,594.17 270.80,594.18 271.00,594.18 271.20,594.17 271.40,594.17 271.60,594.16 271.80,594.15 272.00,594.13 272.20,594.11 272.40,594.08 272.60,594.04 272.80,593.99 273.00,593.93 273.20,593.85 273.40,593.74 273.60,593.59 273.80,593.37 274.00,593.05 274.20,592.56 274.40,591.80 274.60,590.70 274.80,589.59 275.00,589.38 275.20,590.01 275.40,590.50 275.60,590.42 275.80,589.75 276.00,588.92 276.20,588.88 276.40,589.64 276.60,590.22 276.80,590.20 277.00,589.58 277.20,588.79 277.40,588.78 277.60,589.56 277.80,590.17 278.00,590.17 278.20,589.56 278.40,588.79 278.60,588.80 278.80,589.59 279.00,590.22 279.20,590.24 279.40,589.66 279.60,588.91 279.80,588.95 280.00,589.79 280.20,590.46 280.40,590.55 280.60,590.05 280.80,589.43 281.00,589.65 281.20,590.76 281.40,591.86 281.60,592.63 281.80,593.13 282.00,593.45 282.20,593.67 282.40,593.83 282.60,593.95 282.80,594.03 283.00,594.10 283.20,594.16 283.40,594.20 283.60,594.24 283.80,594.27 284.00,594.30 284.20,594.32 284.40,594.34 284.60,594.36 284.80,594.37 285.00,594.38 285.20,594.40 285.40,594.41 285.60,594.42 285.80,594.42 286.00,594.43 286.20,594.44 286.40,594.45 286.60,594.45 286.80,594.46 287.00,594.46 287.20,594.47 287.40,594.47 287.60,594.47 287.80,594.48 288.00,594.48 288.20,594.48 288.40,594.49 288.60,594.49 288.80,594.49 289.00,594.50 289.20,594.50 289.40,594.50 289.60,594.50 289.80,594.50 290.00,594.50 290.20,594.51 290.40,594.51 290.60,594.51 290.80,594.51 291.00,594.51 291.20,594.51 291.40,594.51 291.60,594.52 291.80,594.52 292.00,594.52 292.20,594.52 292.40,594.52 292.60,594.52 292.80,594.52 293.00,594.52 293.20,594.52 293.40,594.52 293.60,594.52 293.80,594.52 294.00,594.52 294.20,594.52 294.40,594.52 294.60,594.52 294.80,594.52 295.00,594.52 295.20,594.52 295.40,594.52 295.60,594.52 295.80,594.52 296.00,594.52 296.20,594.52 296.40,594.52 296.60,594.52 296.80,594.52 297.00,594.52 297.20,594.52 297.40,594.52 297.60,594.52 297.80,594.52 298.00,594.52 298.20,594.52 298.40,594.52 298.60,594.52 298.80,594.52 299.00,594.52 299.20,594.51 299.40,594.51 299.60,594.51 299.80,594.51 300.00,594.51 300.20,594.51 300.40,594.51 300.60,594.51 300.80,594.51 301.00,594.50 301.20,594.50 301.40,594.50 301.60,594.50 301.80,594.50 302.00,594.49 302.20,594.49 302.40,594.49 302.60,594.49 302.80,594.49 303.00,594.48 303.20,594.48 303.40,594.48 303.60,594.47 303.80,594.47 304.00,594.47 304.20,594.46 304.40,594.46 304.60,594.45 304.80,594.45 305.00,594.44 305.20,594.44 305.40,594.43 305.60,594.43 305.80,594.42 306.00,594.41 306.20,594.41 306.40,594.40 306.60,594.39 306.80,594.38 307.00,594.37 307.20,594.36 307.40,594.35 307.60,594.34 307.80,594.32 308.00,594.31 308.20,594.29 308.40,594.27 308.60,594.25 308.80,594.23 309.00,594.20 309.20,594.17 309.40,594.14 309.60,594.11 309.80,594.07 310.00,594.02 310.20,593.97 310.40,593.91 310.60,593.84 310.80,593.76 311.00,593.66 311.20,593.55 311.40,593.41 311.60,593.25 311.80,593.04 312.00,592.79 312.20,592.47 312.40,592.06 312.60,591.51 312.80,590.77 313.00,589.75 313.20,588.27 313.40,586.05 313.60,582.62 313.80,577.13 314.00,568.64 314.20,557.91 314.40,552.05 314.60,557.91 314.80,568.63 315.00,577.13 315.20,582.61 315.40,586.05 315.60,588.26 315.80,589.74 316.00,590.76 316.20,591.50 316.40,592.04 316.60,592.45 316.80,592.77 317.00,593.02 317.20,593.22 317.40,593.38 317.60,593.52 317.80,593.63 318.00,593.72 318.20,593.80 318.40,593.87 318.60,593.93 318.80,593.98 319.00,594.02 319.20,594.06 319.40,594.09 319.60,594.12 319.80,594.14 320.00,594.17 320.20,594.19 320.40,594.20 320.60,594.22 320.80,594.23 321.00,594.24 321.20,594.25 321.40,594.26 321.60,594.26 321.80,594.27 322.00,594.27 322.20,594.27 322.40,594.28 322.60,594.28 322.80,594.27 323.00,594.27 323.20,594.27 323.40,594.26 323.60,594.26 323.80,594.25 324.00,594.24 324.20,594.23 324.40,594.21 324.60,594.20 324.80,594.18 325.00,594.16 325.20,594.13 325.40,594.11 325.60,594.07 325.80,594.04 326.00,593.99 326.20,593.94 326.40,593.88 326.60,593.81 326.80,593.73 327.00,593.62 327.20,593.50 327.40,593.35 327.60,593.16 327.80,592.93 328.00,592.63 328.20,592.24 328.40,591.71 328.60,590.99 328.80,589.97 329.00,588.46 329.20,586.17 329.40,582.55 329.60,576.80 329.80,568.44 330.00,560.41 330.20,560.41 330.40,568.45 330.60,576.80 330.80,582.56 331.00,586.18 331.20,588.48 331.40,589.98 331.60,591.01 331.80,591.73 332.00,592.26 332.20,592.65 332.40,592.96 332.60,593.19 332.80,593.38 333.00,593.54 333.20,593.66 333.40,593.77 333.60,593.85 333.80,593.93 334.00,593.99 334.20,594.05 334.40,594.09 334.60,594.13 334.80,594.17 335.00,594.20 335.20,594.23 335.40,594.26 335.60,594.28 335.80,594.30 336.00,594.32 336.20,594.33 336.40,594.35 336.60,594.36 336.80,594.38 337.00,594.39 337.20,594.40 337.40,594.41 337.60,594.42 337.80,594.42 338.00,594.43 338.20,594.44 338.40,594.45 338.60,594.45 338.80,594.46 339.00,594.46 339.20,594.47 339.40,594.47 339.60,594.48 339.80,594.48 340.00,594.49 340.20,594.49 340.40,594.49 340.60,594.50 340.80,594.50 341.00,594.50 341.20,594.51 341.40,594.51 341.60,594.51 341.80,594.52 342.00,594.52 342.20,594.52 342.40,594.52 342.60,594.52 342.80,594.53 343.00,594.53 343.20,594.53 343.40,594.53 343.60,594.53 343.80,594.53 344.00,594.54 344.20,594.54 344.40,594.54 344.60,594.54 344.80,594.54 345.00,594.54 345.20,594.54 345.40,594.55 345.60,594.55 345.80,594.55 346.00,594.55 346.20,594.55 346.40,594.55 346.60,594.55 346.80,594.55 347.00,594.55 347.20,594.55 347.40,594.56 347.60,594.56 347.80,594.56 348.00,594.56 348.20,594.56 348.40,594.56 348.60,594.56 348.80,594.56 349.00,594.56 349.20,594.56 349.40,594.56 349.60,594.56 349.80,594.56 350.00,594.56 350.20,594.56 350.40,594.57 350.60,594.57 350.80,594.57 351.00,594.57 351.20,594.57 351.40,594.57 351.60,594.57 351.80,594.57 352.00,594.57 352.20,594.57 352.40,594.57 352.60,594.57 352.80,594.57 353.00,594.57 353.20,594.57 353.40,594.57 353.60,594.57 353.80,594.57 354.00,594.57 354.20,594.57 354.40,594.57 354.60,594.57 354.80,594.57 355.00,594.57 355.20,594.57 355.40,594.58 355.60,594.58 355.80,594.58 356.00,594.58 356.20,594.58 356.40,594.58 356.60,594.58 356.80,594.58 357.00,594.58 357.20,594.58 357.40,594.58 357.60,594.58 357.80,594.58 358.00,594.58 358.20,594.58 358.40,594.58 358.60,594.58 358.80,594.58 359.00,594.58 359.20,594.58 359.40,594.58 359.60,594.58 359.80,594.58 360.00,594.58 360.20,594.58 360.40,594.58 360.60,594.58 360.80,594.58 361.00,594.58 361.20,594.58 361.40,594.58 361.60,594.58 361.80,594.58 362.00,594.58 362.20,594.58 362.40,594.58 362.60,594.58 362.80,594.58 363.00,594.58 363.20,594.58 363.40,594.58 363.60,594.58 363.80,594.58 364.00,594.58 364.20,594.58 364.40,594.58" fill="none" stroke="#9a68cc" stroke-width="1.0" stroke-linejoin="round" /><rect x="214.4" y="533.1" width="28.4" height="115.2" fill="none" stroke="#d42a2a" stroke-width="1.0" stroke-dasharray="2.2,1.4"/><line x1="219.80" y1="481.30" x2="239.00" y2="481.30" stroke="#9a68cc" stroke-width="1.3" /><line x1="219.80" y1="493.70" x2="239.00" y2="493.70" stroke="#3a96c6" stroke-width="1.3" /><line x1="219.80" y1="505.20" x2="239.00" y2="505.20" stroke="#bdbdbd" stroke-width="1.3" /><text x="242.8" y="484.6" font-size="9.46" fill="#111" textLength="111.2" lengthAdjust="spacingAndGlyphs" stroke="#111" stroke-width="0.22">GVL:<tspan fill="#ee1c25">2-MeTHF</tspan>+Perovskite</text><text x="242.80" y="497.00" font-size="9.44" fill="#111" stroke="#111" stroke-width="0.22" textLength="68.50" lengthAdjust="spacingAndGlyphs" >GVL+Perovskite</text><text x="242.80" y="508.50" font-size="9.44" fill="#111" stroke="#111" stroke-width="0.22" textLength="18.20" lengthAdjust="spacingAndGlyphs" >GVL</text><text x="151.8" y="678.4" font-size="10.05" fill="#111" textLength="105.5" lengthAdjust="spacingAndGlyphs" stroke="#111" stroke-width="0.22"><tspan font-size="7" dy="-3.6">1</tspan><tspan dy="3.6">H chemical shift (ppm)</tspan></text><text x="382.40" y="469.00" font-size="17.04" fill="#000" font-weight="bold" textLength="9.60" lengthAdjust="spacingAndGlyphs" >G</text><text x="477.00" y="483.60" font-size="12.79" fill="#111" stroke="#111" stroke-width="0.22" textLength="25.60" lengthAdjust="spacingAndGlyphs" >GVL</text><line x1="489.40" y1="521.90" x2="491.95" y2="524.35" stroke="#1a8ac8" stroke-width="1.7600000000000002" stroke-linecap="round"/><line x1="491.95" y1="524.35" x2="494.50" y2="526.80" stroke="#c8d8e8" stroke-width="1.7600000000000002" stroke-linecap="round"/><line x1="498.50" y1="500.10" x2="493.40" y2="495.00" stroke="#1a8ac8" stroke-width="1.7600000000000002" stroke-linecap="round"/><line x1="493.40" y1="495.00" x2="488.30" y2="489.90" stroke="#c8d8e8" stroke-width="1.7600000000000002" stroke-linecap="round"/><line x1="498.50" y1="500.10" x2="499.05" y2="495.10" stroke="#1a8ac8" stroke-width="1.7600000000000002" stroke-linecap="round"/><line x1="499.05" y1="495.10" x2="499.60" y2="490.10" stroke="#c8d8e8" stroke-width="1.7600000000000002" stroke-linecap="round"/><line x1="519.60" y1="505.70" x2="520.00" y2="502.15" stroke="#1a8ac8" stroke-width="1.7600000000000002" stroke-linecap="round"/><line x1="520.00" y1="502.15" x2="520.40" y2="498.60" stroke="#c8d8e8" stroke-width="1.7600000000000002" stroke-linecap="round"/><line x1="519.60" y1="505.70" x2="526.20" y2="501.85" stroke="#1a8ac8" stroke-width="1.7600000000000002" stroke-linecap="round"/><line x1="526.20" y1="501.85" x2="532.80" y2="498.00" stroke="#c8d8e8" stroke-width="1.7600000000000002" stroke-linecap="round"/><line x1="466.70" y1="522.80" x2="462.60" y2="516.90" stroke="#1a8ac8" stroke-width="1.7600000000000002" stroke-linecap="round"/><line x1="462.60" y1="516.90" x2="458.50" y2="511.00" stroke="#c8d8e8" stroke-width="1.7600000000000002" stroke-linecap="round"/><line x1="466.70" y1="522.80" x2="465.00" y2="520.00" stroke="#1a8ac8" stroke-width="1.7600000000000002" stroke-linecap="round"/><line x1="465.00" y1="520.00" x2="463.30" y2="517.20" stroke="#c8d8e8" stroke-width="1.7600000000000002" stroke-linecap="round"/><line x1="466.70" y1="522.80" x2="463.70" y2="530.40" stroke="#1a8ac8" stroke-width="1.7600000000000002" stroke-linecap="round"/><line x1="463.70" y1="530.40" x2="460.70" y2="538.00" stroke="#c8d8e8" stroke-width="1.7600000000000002" stroke-linecap="round"/><line x1="466.70" y1="522.80" x2="478.05" y2="522.35" stroke="#1a8ac8" stroke-width="2.2" stroke-linecap="round"/><line x1="478.05" y1="522.35" x2="489.40" y2="521.90" stroke="#1a8ac8" stroke-width="2.2" stroke-linecap="round"/><line x1="489.40" y1="521.90" x2="493.95" y2="511.00" stroke="#1a8ac8" stroke-width="2.2" stroke-linecap="round"/><line x1="493.95" y1="511.00" x2="498.50" y2="500.10" stroke="#1a8ac8" stroke-width="2.2" stroke-linecap="round"/><line x1="498.50" y1="500.10" x2="509.05" y2="502.90" stroke="#1a8ac8" stroke-width="2.2" stroke-linecap="round"/><line x1="509.05" y1="502.90" x2="519.60" y2="505.70" stroke="#1a8ac8" stroke-width="2.2" stroke-linecap="round"/><line x1="519.60" y1="505.70" x2="519.75" y2="517.35" stroke="#1a8ac8" stroke-width="2.2" stroke-linecap="round"/><line x1="519.75" y1="517.35" x2="519.90" y2="529.00" stroke="#1a8ac8" stroke-width="2.2" stroke-linecap="round"/><line x1="519.90" y1="529.00" x2="510.00" y2="532.10" stroke="#1a8ac8" stroke-width="2.2" stroke-linecap="round"/><line x1="510.00" y1="532.10" x2="500.10" y2="535.20" stroke="#e8107a" stroke-width="2.2" stroke-linecap="round"/><line x1="500.10" y1="535.20" x2="494.75" y2="528.55" stroke="#e8107a" stroke-width="2.2" stroke-linecap="round"/><line x1="494.75" y1="528.55" x2="489.40" y2="521.90" stroke="#1a8ac8" stroke-width="2.2" stroke-linecap="round"/><line x1="520.64" y1="527.93" x2="528.24" y2="533.18" stroke="#1a8ac8" stroke-width="1.32" /><line x1="528.24" y1="533.18" x2="535.84" y2="538.43" stroke="#e8107a" stroke-width="1.32" /><line x1="519.16" y1="530.07" x2="526.76" y2="535.32" stroke="#1a8ac8" stroke-width="1.32" /><line x1="526.76" y1="535.32" x2="534.36" y2="540.57" stroke="#e8107a" stroke-width="1.32" /><circle cx="494.50" cy="526.80" r="2.50" fill="url(#gH)" /><circle cx="488.30" cy="489.90" r="3.90" fill="url(#gH)" /><circle cx="499.60" cy="490.10" r="3.90" fill="url(#gH)" /><circle cx="520.40" cy="498.60" r="3.90" fill="url(#gH)" /><circle cx="532.80" cy="498.00" r="3.90" fill="url(#gH)" /><circle cx="458.50" cy="511.00" r="3.90" fill="url(#gH)" /><circle cx="463.30" cy="517.20" r="3.90" fill="url(#gH)" /><circle cx="460.70" cy="538.00" r="3.90" fill="url(#gH)" /><circle cx="498.50" cy="500.10" r="5.30" fill="url(#gC)" /><circle cx="519.60" cy="505.70" r="5.30" fill="url(#gC)" /><circle cx="466.70" cy="522.80" r="5.30" fill="url(#gC)" /><circle cx="489.40" cy="521.90" r="5.30" fill="url(#gC)" /><circle cx="500.10" cy="535.20" r="4.80" fill="url(#gO)" /><circle cx="519.90" cy="529.00" r="5.30" fill="url(#gC)" /><circle cx="535.10" cy="539.50" r="5.20" fill="url(#gO)" /><rect x="478.5" y="545.85" width="20.90" height="2.3" rx="1" fill="#c00008"/><rect x="479.9" y="550.95" width="18.30" height="2.3" rx="1" fill="#c00008"/><rect x="481.2" y="556.25" width="15.70" height="2.3" rx="1" fill="#c00008"/><rect x="482.2" y="561.55" width="13.70" height="2.3" rx="1" fill="#c00008"/><rect x="483.0" y="566.75" width="12.00" height="2.3" rx="1" fill="#c00008"/><rect x="401.3" y="574.4" width="181.0" height="90.8" rx="12.5" fill="none" stroke="#cc6a2c" stroke-width="1.3" stroke-dasharray="3,2"/><text x="463.60" y="590.00" font-size="11.91" fill="#111" stroke="#111" stroke-width="0.22" textLength="55.60" lengthAdjust="spacingAndGlyphs" >Perovskite</text><line x1="436.50" y1="607.00" x2="439.10" y2="599.40" stroke="#6a48d8" stroke-width="1.7600000000000002" stroke-linecap="round"/><line x1="439.10" y1="599.40" x2="441.70" y2="591.80" stroke="#c8d8e8" stroke-width="1.7600000000000002" stroke-linecap="round"/><line x1="436.50" y1="607.00" x2="428.65" y2="608.00" stroke="#6a48d8" stroke-width="1.7600000000000002" stroke-linecap="round"/><line x1="428.65" y1="608.00" x2="420.80" y2="609.00" stroke="#c8d8e8" stroke-width="1.7600000000000002" stroke-linecap="round"/><line x1="468.30" y1="617.90" x2="471.15" y2="610.10" stroke="#6a48d8" stroke-width="1.7600000000000002" stroke-linecap="round"/><line x1="471.15" y1="610.10" x2="474.00" y2="602.30" stroke="#c8d8e8" stroke-width="1.7600000000000002" stroke-linecap="round"/><line x1="468.30" y1="617.90" x2="474.15" y2="624.45" stroke="#6a48d8" stroke-width="1.7600000000000002" stroke-linecap="round"/><line x1="474.15" y1="624.45" x2="480.00" y2="631.00" stroke="#c8d8e8" stroke-width="1.7600000000000002" stroke-linecap="round"/><line x1="449.50" y1="622.10" x2="446.75" y2="630.20" stroke="#1a8ac8" stroke-width="1.7600000000000002" stroke-linecap="round"/><line x1="446.75" y1="630.20" x2="444.00" y2="638.30" stroke="#c8d8e8" stroke-width="1.7600000000000002" stroke-linecap="round"/><line x1="437.49" y1="606.15" x2="443.99" y2="613.70" stroke="#6a48d8" stroke-width="1.32" /><line x1="443.99" y1="613.70" x2="450.49" y2="621.25" stroke="#1a8ac8" stroke-width="1.32" /><line x1="435.51" y1="607.85" x2="442.01" y2="615.40" stroke="#6a48d8" stroke-width="1.32" /><line x1="442.01" y1="615.40" x2="448.51" y2="622.95" stroke="#1a8ac8" stroke-width="1.32" /><line x1="449.50" y1="622.10" x2="458.90" y2="620.00" stroke="#1a8ac8" stroke-width="2.2" stroke-linecap="round"/><line x1="458.90" y1="620.00" x2="468.30" y2="617.90" stroke="#6a48d8" stroke-width="2.2" stroke-linecap="round"/><circle cx="441.70" cy="591.80" r="3.00" fill="url(#gH)" /><circle cx="420.80" cy="609.00" r="3.00" fill="url(#gH)" /><circle cx="474.00" cy="602.30" r="3.00" fill="url(#gH)" /><circle cx="480.00" cy="631.00" r="3.00" fill="url(#gH)" /><circle cx="444.00" cy="638.30" r="3.80" fill="url(#gH)" /><circle cx="436.50" cy="607.00" r="4.80" fill="url(#gN)" /><circle cx="468.30" cy="617.90" r="4.80" fill="url(#gN)" /><circle cx="449.50" cy="622.10" r="5.00" fill="url(#gC)" /><line x1="532.20" y1="615.60" x2="537.80" y2="602.40" stroke="#f08808" stroke-width="2.0" stroke-linecap="round"/><line x1="537.80" y1="602.40" x2="543.40" y2="589.20" stroke="#c8b0f0" stroke-width="2.0" stroke-linecap="round"/><line x1="532.20" y1="615.60" x2="525.70" y2="608.70" stroke="#f08808" stroke-width="2.0" stroke-linecap="round"/><line x1="525.70" y1="608.70" x2="519.20" y2="601.80" stroke="#c8b0f0" stroke-width="2.0" stroke-linecap="round"/><line x1="532.20" y1="615.60" x2="520.45" y2="613.65" stroke="#f08808" stroke-width="2.0" stroke-linecap="round"/><line x1="520.45" y1="613.65" x2="508.70" y2="611.70" stroke="#c8b0f0" stroke-width="2.0" stroke-linecap="round"/><line x1="532.20" y1="615.60" x2="543.95" y2="617.55" stroke="#f08808" stroke-width="2.0" stroke-linecap="round"/><line x1="543.95" y1="617.55" x2="555.70" y2="619.50" stroke="#c8b0f0" stroke-width="2.0" stroke-linecap="round"/><line x1="532.20" y1="615.60" x2="539.10" y2="622.40" stroke="#f08808" stroke-width="2.0" stroke-linecap="round"/><line x1="539.10" y1="622.40" x2="546.00" y2="629.20" stroke="#c8b0f0" stroke-width="2.0" stroke-linecap="round"/><line x1="532.20" y1="615.60" x2="527.40" y2="628.50" stroke="#f08808" stroke-width="2.0" stroke-linecap="round"/><line x1="527.40" y1="628.50" x2="522.60" y2="641.40" stroke="#c8b0f0" stroke-width="2.0" stroke-linecap="round"/><circle cx="543.40" cy="589.20" r="8.00" fill="url(#gI)" /><circle cx="519.20" cy="601.80" r="7.20" fill="url(#gI)" /><circle cx="508.70" cy="611.70" r="7.40" fill="url(#gI)" /><circle cx="555.70" cy="619.50" r="7.20" fill="url(#gI)" /><circle cx="532.20" cy="615.60" r="8.00" fill="url(#gPb)" /><circle cx="546.00" cy="629.20" r="8.00" fill="url(#gI)" /><circle cx="522.60" cy="641.40" r="7.40" fill="url(#gI)" /><text x="440.9" y="659.2" font-size="13" fill="#111" stroke="#111" stroke-width="0.22">FA<tspan font-size="8" dy="-5">+</tspan></text><text x="512.1" y="660.5" font-size="13" fill="#111" textLength="39.7" lengthAdjust="spacingAndGlyphs" stroke="#111" stroke-width="0.22">[PbI<tspan font-size="8.5" dy="3">6</tspan><tspan dy="-3">]</tspan><tspan font-size="8" dy="-5">4-</tspan></text><polygon points="587.6,553.6 598.8,553.6 598.8,539.2 610.0,568.6 598.8,596.9 598.8,583.0 587.6,583.0" fill="url(#gRedArrow)"/><line x1="588.90" y1="553.60" x2="588.90" y2="583.00" stroke="#fbfbfb" stroke-width="0.5" /><line x1="590.20" y1="553.60" x2="590.20" y2="583.00" stroke="#fbfbfb" stroke-width="0.4" /><text x="668.30" y="483.00" font-size="12.79" fill="#111" stroke="#111" stroke-width="0.22" textLength="26.00" lengthAdjust="spacingAndGlyphs" >GVL</text><text x="762.30" y="483.00" font-size="12.77" fill="#111" stroke="#111" stroke-width="0.22" textLength="53.90" lengthAdjust="spacingAndGlyphs" >2-MeTHF</text><path d="M784,515 C770,509 745,509 731,521 L722,532 L708.3,528 L714.1,562 L749.4,554.8 L736.3,547 C742,533 755,520 784,515 Z" fill="#c2d4e8"/><line x1="684.20" y1="524.10" x2="686.75" y2="526.55" stroke="#1a8ac8" stroke-width="1.7600000000000002" stroke-linecap="round"/><line x1="686.75" y1="526.55" x2="689.30" y2="529.00" stroke="#c8d8e8" stroke-width="1.7600000000000002" stroke-linecap="round"/><line x1="693.30" y1="502.30" x2="688.20" y2="497.20" stroke="#1a8ac8" stroke-width="1.7600000000000002" stroke-linecap="round"/><line x1="688.20" y1="497.20" x2="683.10" y2="492.10" stroke="#c8d8e8" stroke-width="1.7600000000000002" stroke-linecap="round"/><line x1="693.30" y1="502.30" x2="693.85" y2="497.30" stroke="#1a8ac8" stroke-width="1.7600000000000002" stroke-linecap="round"/><line x1="693.85" y1="497.30" x2="694.40" y2="492.30" stroke="#c8d8e8" stroke-width="1.7600000000000002" stroke-linecap="round"/><line x1="714.40" y1="507.90" x2="714.80" y2="504.35" stroke="#1a8ac8" stroke-width="1.7600000000000002" stroke-linecap="round"/><line x1="714.80" y1="504.35" x2="715.20" y2="500.80" stroke="#c8d8e8" stroke-width="1.7600000000000002" stroke-linecap="round"/><line x1="714.40" y1="507.90" x2="721.00" y2="504.05" stroke="#1a8ac8" stroke-width="1.7600000000000002" stroke-linecap="round"/><line x1="721.00" y1="504.05" x2="727.60" y2="500.20" stroke="#c8d8e8" stroke-width="1.7600000000000002" stroke-linecap="round"/><line x1="661.50" y1="525.00" x2="657.40" y2="519.10" stroke="#1a8ac8" stroke-width="1.7600000000000002" stroke-linecap="round"/><line x1="657.40" y1="519.10" x2="653.30" y2="513.20" stroke="#c8d8e8" stroke-width="1.7600000000000002" stroke-linecap="round"/><line x1="661.50" y1="525.00" x2="659.80" y2="522.20" stroke="#1a8ac8" stroke-width="1.7600000000000002" stroke-linecap="round"/><line x1="659.80" y1="522.20" x2="658.10" y2="519.40" stroke="#c8d8e8" stroke-width="1.7600000000000002" stroke-linecap="round"/><line x1="661.50" y1="525.00" x2="658.50" y2="532.60" stroke="#1a8ac8" stroke-width="1.7600000000000002" stroke-linecap="round"/><line x1="658.50" y1="532.60" x2="655.50" y2="540.20" stroke="#c8d8e8" stroke-width="1.7600000000000002" stroke-linecap="round"/><line x1="661.50" y1="525.00" x2="672.85" y2="524.55" stroke="#1a8ac8" stroke-width="2.2" stroke-linecap="round"/><line x1="672.85" y1="524.55" x2="684.20" y2="524.10" stroke="#1a8ac8" stroke-width="2.2" stroke-linecap="round"/><line x1="684.20" y1="524.10" x2="688.75" y2="513.20" stroke="#1a8ac8" stroke-width="2.2" stroke-linecap="round"/><line x1="688.75" y1="513.20" x2="693.30" y2="502.30" stroke="#1a8ac8" stroke-width="2.2" stroke-linecap="round"/><line x1="693.30" y1="502.30" x2="703.85" y2="505.10" stroke="#1a8ac8" stroke-width="2.2" stroke-linecap="round"/><line x1="703.85" y1="505.10" x2="714.40" y2="507.90" stroke="#1a8ac8" stroke-width="2.2" stroke-linecap="round"/><line x1="714.40" y1="507.90" x2="714.55" y2="519.55" stroke="#1a8ac8" stroke-width="2.2" stroke-linecap="round"/><line x1="714.55" y1="519.55" x2="714.70" y2="531.20" stroke="#1a8ac8" stroke-width="2.2" stroke-linecap="round"/><line x1="714.70" y1="531.20" x2="704.80" y2="534.30" stroke="#1a8ac8" stroke-width="2.2" stroke-linecap="round"/><line x1="704.80" y1="534.30" x2="694.90" y2="537.40" stroke="#e8107a" stroke-width="2.2" stroke-linecap="round"/><line x1="694.90" y1="537.40" x2="689.55" y2="530.75" stroke="#e8107a" stroke-width="2.2" stroke-linecap="round"/><line x1="689.55" y1="530.75" x2="684.20" y2="524.10" stroke="#1a8ac8" stroke-width="2.2" stroke-linecap="round"/><line x1="715.44" y1="530.13" x2="723.04" y2="535.38" stroke="#1a8ac8" stroke-width="1.32" /><line x1="723.04" y1="535.38" x2="730.64" y2="540.63" stroke="#e8107a" stroke-width="1.32" /><line x1="713.96" y1="532.27" x2="721.56" y2="537.52" stroke="#1a8ac8" stroke-width="1.32" /><line x1="721.56" y1="537.52" x2="729.16" y2="542.77" stroke="#e8107a" stroke-width="1.32" /><circle cx="689.30" cy="529.00" r="2.50" fill="url(#gH)" /><circle cx="683.10" cy="492.10" r="3.90" fill="url(#gH)" /><circle cx="694.40" cy="492.30" r="3.90" fill="url(#gH)" /><circle cx="715.20" cy="500.80" r="3.90" fill="url(#gH)" /><circle cx="727.60" cy="500.20" r="3.90" fill="url(#gH)" /><circle cx="653.30" cy="513.20" r="3.90" fill="url(#gH)" /><circle cx="658.10" cy="519.40" r="3.90" fill="url(#gH)" /><circle cx="655.50" cy="540.20" r="3.90" fill="url(#gH)" /><circle cx="693.30" cy="502.30" r="5.30" fill="url(#gC)" /><circle cx="714.40" cy="507.90" r="5.30" fill="url(#gC)" /><circle cx="661.50" cy="525.00" r="5.30" fill="url(#gC)" /><circle cx="684.20" cy="524.10" r="5.30" fill="url(#gC)" /><circle cx="694.90" cy="537.40" r="4.80" fill="url(#gO)" /><circle cx="714.70" cy="531.20" r="5.30" fill="url(#gC)" /><circle cx="729.90" cy="541.70" r="5.20" fill="url(#gO)" /><line x1="782.20" y1="528.00" x2="784.35" y2="531.00" stroke="#1a8ac8" stroke-width="1.7600000000000002" stroke-linecap="round"/><line x1="784.35" y1="531.00" x2="786.50" y2="534.00" stroke="#c8d8e8" stroke-width="1.7600000000000002" stroke-linecap="round"/><line x1="790.30" y1="509.00" x2="785.95" y2="503.65" stroke="#1a8ac8" stroke-width="1.7600000000000002" stroke-linecap="round"/><line x1="785.95" y1="503.65" x2="781.60" y2="498.30" stroke="#c8d8e8" stroke-width="1.7600000000000002" stroke-linecap="round"/><line x1="790.30" y1="509.00" x2="791.45" y2="504.65" stroke="#1a8ac8" stroke-width="1.7600000000000002" stroke-linecap="round"/><line x1="791.45" y1="504.65" x2="792.60" y2="500.30" stroke="#c8d8e8" stroke-width="1.7600000000000002" stroke-linecap="round"/><line x1="809.60" y1="514.20" x2="809.75" y2="511.00" stroke="#1a8ac8" stroke-width="1.7600000000000002" stroke-linecap="round"/><line x1="809.75" y1="511.00" x2="809.90" y2="507.80" stroke="#c8d8e8" stroke-width="1.7600000000000002" stroke-linecap="round"/><line x1="809.60" y1="514.20" x2="815.05" y2="511.00" stroke="#1a8ac8" stroke-width="1.7600000000000002" stroke-linecap="round"/><line x1="815.05" y1="511.00" x2="820.50" y2="507.80" stroke="#c8d8e8" stroke-width="1.7600000000000002" stroke-linecap="round"/><line x1="762.30" y1="527.20" x2="759.00" y2="522.10" stroke="#1a8ac8" stroke-width="1.7600000000000002" stroke-linecap="round"/><line x1="759.00" y1="522.10" x2="755.70" y2="517.00" stroke="#c8d8e8" stroke-width="1.7600000000000002" stroke-linecap="round"/><line x1="762.30" y1="527.20" x2="760.40" y2="524.75" stroke="#1a8ac8" stroke-width="1.7600000000000002" stroke-linecap="round"/><line x1="760.40" y1="524.75" x2="758.50" y2="522.30" stroke="#c8d8e8" stroke-width="1.7600000000000002" stroke-linecap="round"/><line x1="762.30" y1="527.20" x2="759.00" y2="534.40" stroke="#1a8ac8" stroke-width="1.7600000000000002" stroke-linecap="round"/><line x1="759.00" y1="534.40" x2="755.70" y2="541.60" stroke="#c8d8e8" stroke-width="1.7600000000000002" stroke-linecap="round"/><line x1="809.00" y1="535.00" x2="813.05" y2="537.55" stroke="#1a8ac8" stroke-width="1.7600000000000002" stroke-linecap="round"/><line x1="813.05" y1="537.55" x2="817.10" y2="540.10" stroke="#c8d8e8" stroke-width="1.7600000000000002" stroke-linecap="round"/><line x1="762.30" y1="527.20" x2="772.25" y2="527.60" stroke="#1a8ac8" stroke-width="2.2" stroke-linecap="round"/><line x1="772.25" y1="527.60" x2="782.20" y2="528.00" stroke="#1a8ac8" stroke-width="2.2" stroke-linecap="round"/><line x1="782.20" y1="528.00" x2="786.25" y2="518.50" stroke="#1a8ac8" stroke-width="2.2" stroke-linecap="round"/><line x1="786.25" y1="518.50" x2="790.30" y2="509.00" stroke="#1a8ac8" stroke-width="2.2" stroke-linecap="round"/><line x1="790.30" y1="509.00" x2="799.95" y2="511.60" stroke="#1a8ac8" stroke-width="2.2" stroke-linecap="round"/><line x1="799.95" y1="511.60" x2="809.60" y2="514.20" stroke="#1a8ac8" stroke-width="2.2" stroke-linecap="round"/><line x1="809.60" y1="514.20" x2="809.30" y2="524.60" stroke="#1a8ac8" stroke-width="2.2" stroke-linecap="round"/><line x1="809.30" y1="524.60" x2="809.00" y2="535.00" stroke="#1a8ac8" stroke-width="2.2" stroke-linecap="round"/><line x1="809.00" y1="535.00" x2="799.65" y2="537.30" stroke="#1a8ac8" stroke-width="2.2" stroke-linecap="round"/><line x1="799.65" y1="537.30" x2="790.30" y2="539.60" stroke="#e8107a" stroke-width="2.2" stroke-linecap="round"/><line x1="790.30" y1="539.60" x2="786.25" y2="533.80" stroke="#e8107a" stroke-width="2.2" stroke-linecap="round"/><line x1="786.25" y1="533.80" x2="782.20" y2="528.00" stroke="#1a8ac8" stroke-width="2.2" stroke-linecap="round"/><circle cx="786.50" cy="534.00" r="2.50" fill="url(#gH)" /><circle cx="781.60" cy="498.30" r="3.90" fill="url(#gH)" /><circle cx="792.60" cy="500.30" r="3.90" fill="url(#gH)" /><circle cx="809.90" cy="507.80" r="3.90" fill="url(#gH)" /><circle cx="820.50" cy="507.80" r="3.90" fill="url(#gH)" /><circle cx="755.70" cy="517.00" r="3.90" fill="url(#gH)" /><circle cx="758.50" cy="522.30" r="3.90" fill="url(#gH)" /><circle cx="755.70" cy="541.60" r="3.90" fill="url(#gH)" /><circle cx="817.10" cy="540.10" r="3.90" fill="url(#gH)" /><circle cx="790.30" cy="509.00" r="5.30" fill="url(#gC)" /><circle cx="809.60" cy="514.20" r="5.30" fill="url(#gC)" /><circle cx="762.30" cy="527.20" r="5.30" fill="url(#gC)" /><circle cx="782.20" cy="528.00" r="5.30" fill="url(#gC)" /><circle cx="790.30" cy="539.60" r="4.80" fill="url(#gO)" /><circle cx="809.00" cy="535.00" r="5.30" fill="url(#gC)" /><rect x="682.6" y="548.95" width="15.40" height="1.9" rx="0.8" fill="#ffa4a4"/><rect x="683.3" y="553.35" width="13.80" height="1.9" rx="0.8" fill="#ffa4a4"/><rect x="684.2" y="558.05" width="11.90" height="1.9" rx="0.8" fill="#ffa4a4"/><rect x="685.2" y="562.55" width="9.90" height="1.9" rx="0.8" fill="#ffa4a4"/><rect x="685.9" y="567.05" width="9.00" height="1.9" rx="0.8" fill="#ffa4a4"/><rect x="611.6" y="574.4" width="180.7" height="90.8" rx="12.5" fill="none" stroke="#cc6a2c" stroke-width="1.3" stroke-dasharray="3,2"/><text x="671.50" y="587.40" font-size="11.91" fill="#111" stroke="#111" stroke-width="0.22" textLength="54.50" lengthAdjust="spacingAndGlyphs" >Perovskite</text><line x1="646.50" y1="606.50" x2="649.10" y2="598.90" stroke="#6a48d8" stroke-width="1.7600000000000002" stroke-linecap="round"/><line x1="649.10" y1="598.90" x2="651.70" y2="591.30" stroke="#c8d8e8" stroke-width="1.7600000000000002" stroke-linecap="round"/><line x1="646.50" y1="606.50" x2="638.65" y2="607.50" stroke="#6a48d8" stroke-width="1.7600000000000002" stroke-linecap="round"/><line x1="638.65" y1="607.50" x2="630.80" y2="608.50" stroke="#c8d8e8" stroke-width="1.7600000000000002" stroke-linecap="round"/><line x1="678.30" y1="617.40" x2="681.15" y2="609.60" stroke="#6a48d8" stroke-width="1.7600000000000002" stroke-linecap="round"/><line x1="681.15" y1="609.60" x2="684.00" y2="601.80" stroke="#c8d8e8" stroke-width="1.7600000000000002" stroke-linecap="round"/><line x1="678.30" y1="617.40" x2="684.15" y2="623.95" stroke="#6a48d8" stroke-width="1.7600000000000002" stroke-linecap="round"/><line x1="684.15" y1="623.95" x2="690.00" y2="630.50" stroke="#c8d8e8" stroke-width="1.7600000000000002" stroke-linecap="round"/><line x1="659.50" y1="621.60" x2="656.75" y2="629.70" stroke="#1a8ac8" stroke-width="1.7600000000000002" stroke-linecap="round"/><line x1="656.75" y1="629.70" x2="654.00" y2="637.80" stroke="#c8d8e8" stroke-width="1.7600000000000002" stroke-linecap="round"/><line x1="647.49" y1="605.65" x2="653.99" y2="613.20" stroke="#6a48d8" stroke-width="1.32" /><line x1="653.99" y1="613.20" x2="660.49" y2="620.75" stroke="#1a8ac8" stroke-width="1.32" /><line x1="645.51" y1="607.35" x2="652.01" y2="614.90" stroke="#6a48d8" stroke-width="1.32" /><line x1="652.01" y1="614.90" x2="658.51" y2="622.45" stroke="#1a8ac8" stroke-width="1.32" /><line x1="659.50" y1="621.60" x2="668.90" y2="619.50" stroke="#1a8ac8" stroke-width="2.2" stroke-linecap="round"/><line x1="668.90" y1="619.50" x2="678.30" y2="617.40" stroke="#6a48d8" stroke-width="2.2" stroke-linecap="round"/><circle cx="651.70" cy="591.30" r="3.00" fill="url(#gH)" /><circle cx="630.80" cy="608.50" r="3.00" fill="url(#gH)" /><circle cx="684.00" cy="601.80" r="3.00" fill="url(#gH)" /><circle cx="690.00" cy="630.50" r="3.00" fill="url(#gH)" /><circle cx="654.00" cy="637.80" r="3.80" fill="url(#gH)" /><circle cx="646.50" cy="606.50" r="4.80" fill="url(#gN)" /><circle cx="678.30" cy="617.40" r="4.80" fill="url(#gN)" /><circle cx="659.50" cy="621.60" r="5.00" fill="url(#gC)" /><line x1="742.70" y1="615.30" x2="748.30" y2="602.10" stroke="#f08808" stroke-width="2.0" stroke-linecap="round"/><line x1="748.30" y1="602.10" x2="753.90" y2="588.90" stroke="#c8b0f0" stroke-width="2.0" stroke-linecap="round"/><line x1="742.70" y1="615.30" x2="736.20" y2="608.40" stroke="#f08808" stroke-width="2.0" stroke-linecap="round"/><line x1="736.20" y1="608.40" x2="729.70" y2="601.50" stroke="#c8b0f0" stroke-width="2.0" stroke-linecap="round"/><line x1="742.70" y1="615.30" x2="730.95" y2="613.35" stroke="#f08808" stroke-width="2.0" stroke-linecap="round"/><line x1="730.95" y1="613.35" x2="719.20" y2="611.40" stroke="#c8b0f0" stroke-width="2.0" stroke-linecap="round"/><line x1="742.70" y1="615.30" x2="754.45" y2="617.25" stroke="#f08808" stroke-width="2.0" stroke-linecap="round"/><line x1="754.45" y1="617.25" x2="766.20" y2="619.20" stroke="#c8b0f0" stroke-width="2.0" stroke-linecap="round"/><line x1="742.70" y1="615.30" x2="749.60" y2="622.10" stroke="#f08808" stroke-width="2.0" stroke-linecap="round"/><line x1="749.60" y1="622.10" x2="756.50" y2="628.90" stroke="#c8b0f0" stroke-width="2.0" stroke-linecap="round"/><line x1="742.70" y1="615.30" x2="737.90" y2="628.20" stroke="#f08808" stroke-width="2.0" stroke-linecap="round"/><line x1="737.90" y1="628.20" x2="733.10" y2="641.10" stroke="#c8b0f0" stroke-width="2.0" stroke-linecap="round"/><circle cx="753.90" cy="588.90" r="8.00" fill="url(#gI)" /><circle cx="729.70" cy="601.50" r="7.20" fill="url(#gI)" /><circle cx="719.20" cy="611.40" r="7.40" fill="url(#gI)" /><circle cx="766.20" cy="619.20" r="7.20" fill="url(#gI)" /><circle cx="742.70" cy="615.30" r="8.00" fill="url(#gPb)" /><circle cx="756.50" cy="628.90" r="8.00" fill="url(#gI)" /><circle cx="733.10" cy="641.10" r="7.40" fill="url(#gI)" /><text x="653.3" y="658.0" font-size="13" fill="#111" stroke="#111" stroke-width="0.22">FA<tspan font-size="8" dy="-5">+</tspan></text><text x="719.6" y="658.0" font-size="13" fill="#111" textLength="40.4" lengthAdjust="spacingAndGlyphs" stroke="#111" stroke-width="0.22">[PbI<tspan font-size="8.5" dy="3">6</tspan><tspan dy="-3">]</tspan><tspan font-size="8" dy="-5">4-</tspan></text><text x="7.2" y="720.6" font-size="11.3" fill="#1e1e1e" stroke="#1e1e1e" stroke-width="0.25" textLength="27.8" lengthAdjust="spacingAndGlyphs"><tspan font-weight="bold">Fig. 1.</tspan></text><text x="37.3" y="720.6" font-size="11.3" fill="#1e1e1e" stroke="#1e1e1e" stroke-width="0.25" textLength="58.2" lengthAdjust="spacingAndGlyphs"><tspan font-weight="bold">Perovskite</tspan></text><text x="97.8" y="720.6" font-size="11.3" fill="#1e1e1e" stroke="#1e1e1e" stroke-width="0.25" textLength="79.3" lengthAdjust="spacingAndGlyphs"><tspan font-weight="bold">preparation with</tspan></text><text x="179.4" y="720.6" font-size="11.3" fill="#1e1e1e" stroke="#1e1e1e" stroke-width="0.25" textLength="109.9" lengthAdjust="spacingAndGlyphs"><tspan font-weight="bold">GVL/DMSO/2-MeTHF</tspan></text><text x="291.6" y="720.6" font-size="11.3" fill="#1e1e1e" stroke="#1e1e1e" stroke-width="0.25" textLength="31.1" lengthAdjust="spacingAndGlyphs"><tspan font-weight="bold">mixed</tspan></text><text x="325.0" y="720.6" font-size="11.3" fill="#1e1e1e" stroke="#1e1e1e" stroke-width="0.25" textLength="36.6" lengthAdjust="spacingAndGlyphs"><tspan font-weight="bold">solvent</tspan></text><text x="363.9" y="720.6" font-size="11.3" fill="#1e1e1e" stroke="#1e1e1e" stroke-width="0.25" textLength="39.7" lengthAdjust="spacingAndGlyphs"><tspan font-weight="bold">system.</tspan></text><text x="405.9" y="720.6" font-size="11.3" fill="#1e1e1e" stroke="#1e1e1e" stroke-width="0.25" textLength="16.2" lengthAdjust="spacingAndGlyphs">(<tspan font-weight="bold">A</tspan>)</text><text x="424.4" y="720.6" font-size="11.3" fill="#1e1e1e" stroke="#1e1e1e" stroke-width="0.25" textLength="51.2" lengthAdjust="spacingAndGlyphs">Schematic</text><text x="477.9" y="720.6" font-size="11.3" fill="#1e1e1e" stroke="#1e1e1e" stroke-width="0.25" textLength="69.2" lengthAdjust="spacingAndGlyphs">demonstrating</text><text x="549.4" y="720.6" font-size="11.3" fill="#1e1e1e" stroke="#1e1e1e" stroke-width="0.25" textLength="52.2" lengthAdjust="spacingAndGlyphs">large-scale</text><text x="603.9" y="720.6" font-size="11.3" fill="#1e1e1e" stroke="#1e1e1e" stroke-width="0.25" textLength="50.3" lengthAdjust="spacingAndGlyphs">fabrication</text><text x="656.5" y="720.6" font-size="11.3" fill="#1e1e1e" stroke="#1e1e1e" stroke-width="0.25" textLength="10.6" lengthAdjust="spacingAndGlyphs">of</text><text x="669.4" y="720.6" font-size="11.3" fill="#1e1e1e" stroke="#1e1e1e" stroke-width="0.25" textLength="50.1" lengthAdjust="spacingAndGlyphs">perovskite</text><text x="721.8" y="720.6" font-size="11.3" fill="#1e1e1e" stroke="#1e1e1e" stroke-width="0.25" textLength="23.2" lengthAdjust="spacingAndGlyphs">films</text><text x="747.3" y="720.6" font-size="11.3" fill="#1e1e1e" stroke="#1e1e1e" stroke-width="0.25" textLength="19.6" lengthAdjust="spacingAndGlyphs">with</text><text x="769.2" y="720.6" font-size="11.3" fill="#1e1e1e" stroke="#1e1e1e" stroke-width="0.25" textLength="35.1" lengthAdjust="spacingAndGlyphs">slot-die</text><text x="7.2" y="737.6" font-size="11.3" fill="#1e1e1e" stroke="#1e1e1e" stroke-width="0.25" textLength="34.2" lengthAdjust="spacingAndGlyphs">coating</text><text x="43.7" y="737.6" font-size="11.3" fill="#1e1e1e" stroke="#1e1e1e" stroke-width="0.25" textLength="18.4" lengthAdjust="spacingAndGlyphs">and</text><text x="64.4" y="737.6" font-size="11.3" fill="#1e1e1e" stroke="#1e1e1e" stroke-width="0.25" textLength="19.4" lengthAdjust="spacingAndGlyphs">VCD.</text><text x="86.1" y="737.6" font-size="11.3" fill="#1e1e1e" stroke="#1e1e1e" stroke-width="0.25" textLength="33.8" lengthAdjust="spacingAndGlyphs">Digital</text><text x="122.2" y="737.6" font-size="11.3" fill="#1e1e1e" stroke="#1e1e1e" stroke-width="0.25" textLength="48.5" lengthAdjust="spacingAndGlyphs">image of a</text><text x="173.0" y="737.6" font-size="11.3" fill="#1e1e1e" stroke="#1e1e1e" stroke-width="0.25" textLength="65.7" lengthAdjust="spacingAndGlyphs">perovskite ink</text><text x="241.0" y="737.6" font-size="11.3" fill="#1e1e1e" stroke="#1e1e1e" stroke-width="0.25" textLength="61.8" lengthAdjust="spacingAndGlyphs">composed of</text><text x="305.1" y="737.6" font-size="11.3" fill="#1e1e1e" stroke="#1e1e1e" stroke-width="0.25" textLength="75.0" lengthAdjust="spacingAndGlyphs">FA<tspan font-size="8" dy="1">0.95</tspan><tspan dy="-1">Cs</tspan><tspan font-size="8" dy="1">0.05</tspan><tspan dy="-1">PbI</tspan><tspan font-size="8" dy="1">3</tspan></text><text x="382.4" y="737.6" font-size="11.3" fill="#1e1e1e" stroke="#1e1e1e" stroke-width="0.25" textLength="44.7" lengthAdjust="spacingAndGlyphs">dissolved</text><text x="429.4" y="737.6" font-size="11.3" fill="#1e1e1e" stroke="#1e1e1e" stroke-width="0.25" textLength="8.3" lengthAdjust="spacingAndGlyphs">in</text><text x="440.0" y="737.6" font-size="11.3" fill="#1e1e1e" stroke="#1e1e1e" stroke-width="0.25" textLength="55.1" lengthAdjust="spacingAndGlyphs">GVL/DMSO</text><text x="497.4" y="737.6" font-size="11.3" fill="#1e1e1e" stroke="#1e1e1e" stroke-width="0.25" textLength="39.0" lengthAdjust="spacingAndGlyphs">mixture.</text><text x="538.7" y="737.6" font-size="11.3" fill="#1e1e1e" stroke="#1e1e1e" stroke-width="0.25" textLength="16.2" lengthAdjust="spacingAndGlyphs">(<tspan font-weight="bold">B</tspan>)</text><text x="557.2" y="737.6" font-size="11.3" fill="#1e1e1e" stroke="#1e1e1e" stroke-width="0.25" textLength="73.6" lengthAdjust="spacingAndGlyphs">Cross-sectional</text><text x="633.1" y="737.6" font-size="11.3" fill="#1e1e1e" stroke="#1e1e1e" stroke-width="0.25" textLength="21.1" lengthAdjust="spacingAndGlyphs">SEM</text><text x="656.5" y="737.6" font-size="11.3" fill="#1e1e1e" stroke="#1e1e1e" stroke-width="0.25" textLength="8.4" lengthAdjust="spacingAndGlyphs">of</text><text x="667.2" y="737.6" font-size="11.3" fill="#1e1e1e" stroke="#1e1e1e" stroke-width="0.25" textLength="15.5" lengthAdjust="spacingAndGlyphs">the</text><text x="685.0" y="737.6" font-size="11.3" fill="#1e1e1e" stroke="#1e1e1e" stroke-width="0.25" textLength="51.3" lengthAdjust="spacingAndGlyphs">perovskite</text><text x="738.6" y="737.6" font-size="11.3" fill="#1e1e1e" stroke="#1e1e1e" stroke-width="0.25" textLength="23.2" lengthAdjust="spacingAndGlyphs">films</text><text x="764.1" y="737.6" font-size="11.3" fill="#1e1e1e" stroke="#1e1e1e" stroke-width="0.25" textLength="48.0" lengthAdjust="spacingAndGlyphs">fabricated</text><text x="814.4" y="737.6" font-size="11.3" fill="#1e1e1e" stroke="#1e1e1e" stroke-width="0.25" textLength="22.3" lengthAdjust="spacingAndGlyphs">from</text><text x="7.2" y="754.3" font-size="11.3" fill="#1e1e1e" stroke="#1e1e1e" stroke-width="0.25" textLength="54.2" lengthAdjust="spacingAndGlyphs">GVL/DMSO</text><text x="63.7" y="754.3" font-size="11.3" fill="#1e1e1e" stroke="#1e1e1e" stroke-width="0.25" textLength="17.6" lengthAdjust="spacingAndGlyphs">(top</text><text x="83.6" y="754.3" font-size="11.3" fill="#1e1e1e" stroke="#1e1e1e" stroke-width="0.25" textLength="32.6" lengthAdjust="spacingAndGlyphs">panel)</text><text x="118.5" y="754.3" font-size="11.3" fill="#1e1e1e" stroke="#1e1e1e" stroke-width="0.25" textLength="18.0" lengthAdjust="spacingAndGlyphs">and</text><text x="138.8" y="754.3" font-size="11.3" fill="#1e1e1e" stroke="#1e1e1e" stroke-width="0.25" textLength="104.9" lengthAdjust="spacingAndGlyphs">GVL/DMSO/2-MeTHF</text><text x="246.0" y="754.3" font-size="11.3" fill="#1e1e1e" stroke="#1e1e1e" stroke-width="0.25" textLength="41.1" lengthAdjust="spacingAndGlyphs">mixtures</text><text x="289.4" y="754.3" font-size="11.3" fill="#1e1e1e" stroke="#1e1e1e" stroke-width="0.25" textLength="39.7" lengthAdjust="spacingAndGlyphs">(bottom</text><text x="331.4" y="754.3" font-size="11.3" fill="#1e1e1e" stroke="#1e1e1e" stroke-width="0.25" textLength="33.0" lengthAdjust="spacingAndGlyphs">panel).</text><text x="366.7" y="754.3" font-size="11.3" fill="#1e1e1e" stroke="#1e1e1e" stroke-width="0.25" textLength="16.9" lengthAdjust="spacingAndGlyphs">The</text><text x="385.9" y="754.3" font-size="11.3" fill="#1e1e1e" stroke="#1e1e1e" stroke-width="0.25" textLength="26.2" lengthAdjust="spacingAndGlyphs">scale</text><text x="414.4" y="754.3" font-size="11.3" fill="#1e1e1e" stroke="#1e1e1e" stroke-width="0.25" textLength="19.1" lengthAdjust="spacingAndGlyphs">bars</text><text x="435.8" y="754.3" font-size="11.3" fill="#1e1e1e" stroke="#1e1e1e" stroke-width="0.25" textLength="45.8" lengthAdjust="spacingAndGlyphs">represent</text><text x="483.9" y="754.3" font-size="11.3" fill="#1e1e1e" stroke="#1e1e1e" stroke-width="0.25" textLength="5.5" lengthAdjust="spacingAndGlyphs">a</text><text x="491.7" y="754.3" font-size="11.3" fill="#1e1e1e" stroke="#1e1e1e" stroke-width="0.25" textLength="31.2" lengthAdjust="spacingAndGlyphs">length</text><text x="525.2" y="754.3" font-size="11.3" fill="#1e1e1e" stroke="#1e1e1e" stroke-width="0.25" textLength="9.0" lengthAdjust="spacingAndGlyphs">of</text><text x="536.5" y="754.3" font-size="11.3" fill="#1e1e1e" stroke="#1e1e1e" stroke-width="0.25" textLength="24.8" lengthAdjust="spacingAndGlyphs">1 μm.</text><text x="563.6" y="754.3" font-size="11.3" fill="#1e1e1e" stroke="#1e1e1e" stroke-width="0.25" textLength="16.2" lengthAdjust="spacingAndGlyphs">(<tspan font-weight="bold">C</tspan>)</text><text x="582.1" y="754.3" font-size="11.3" fill="#1e1e1e" stroke="#1e1e1e" stroke-width="0.25" textLength="20.9" lengthAdjust="spacingAndGlyphs">XRD</text><text x="605.3" y="754.3" font-size="11.3" fill="#1e1e1e" stroke="#1e1e1e" stroke-width="0.25" textLength="39.0" lengthAdjust="spacingAndGlyphs">patterns</text><text x="646.6" y="754.3" font-size="11.3" fill="#1e1e1e" stroke="#1e1e1e" stroke-width="0.25" textLength="9.8" lengthAdjust="spacingAndGlyphs">of</text><text x="658.7" y="754.3" font-size="11.3" fill="#1e1e1e" stroke="#1e1e1e" stroke-width="0.25" textLength="62.2" lengthAdjust="spacingAndGlyphs">intermediate</text><text x="723.2" y="754.3" font-size="11.3" fill="#1e1e1e" stroke="#1e1e1e" stroke-width="0.25" textLength="53.2" lengthAdjust="spacingAndGlyphs">perovskite</text><text x="778.7" y="754.3" font-size="11.3" fill="#1e1e1e" stroke="#1e1e1e" stroke-width="0.25" textLength="19.6" lengthAdjust="spacingAndGlyphs">films</text><text x="800.6" y="754.3" font-size="11.3" fill="#1e1e1e" stroke="#1e1e1e" stroke-width="0.25" textLength="22.3" lengthAdjust="spacingAndGlyphs">after</text><text x="7.4" y="771.1" font-size="11.3" fill="#1e1e1e" stroke="#1e1e1e" stroke-width="0.25" textLength="19.1" lengthAdjust="spacingAndGlyphs">VCD</text><text x="28.8" y="771.1" font-size="11.3" fill="#1e1e1e" stroke="#1e1e1e" stroke-width="0.25" textLength="51.8" lengthAdjust="spacingAndGlyphs">processing</text><text x="82.9" y="771.1" font-size="11.3" fill="#1e1e1e" stroke="#1e1e1e" stroke-width="0.25" textLength="33.0" lengthAdjust="spacingAndGlyphs">(insets</text><text x="118.2" y="771.1" font-size="11.3" fill="#1e1e1e" stroke="#1e1e1e" stroke-width="0.25" textLength="22.6" lengthAdjust="spacingAndGlyphs">show</text><text x="143.1" y="771.1" font-size="11.3" fill="#1e1e1e" stroke="#1e1e1e" stroke-width="0.25" textLength="27.6" lengthAdjust="spacingAndGlyphs">digital</text><text x="173.0" y="771.1" font-size="11.3" fill="#1e1e1e" stroke="#1e1e1e" stroke-width="0.25" textLength="31.1" lengthAdjust="spacingAndGlyphs">images</text><text x="206.4" y="771.1" font-size="11.3" fill="#1e1e1e" stroke="#1e1e1e" stroke-width="0.25" textLength="10.5" lengthAdjust="spacingAndGlyphs">of</text><text x="219.2" y="771.1" font-size="11.3" fill="#1e1e1e" stroke="#1e1e1e" stroke-width="0.25" textLength="15.3" lengthAdjust="spacingAndGlyphs">the</text><text x="236.8" y="771.1" font-size="11.3" fill="#1e1e1e" stroke="#1e1e1e" stroke-width="0.25" textLength="31.1" lengthAdjust="spacingAndGlyphs">films).</text><text x="270.2" y="771.1" font-size="11.3" fill="#1e1e1e" stroke="#1e1e1e" stroke-width="0.25" textLength="15.5" lengthAdjust="spacingAndGlyphs">(<tspan font-weight="bold">D</tspan>)</text><text x="288.0" y="771.1" font-size="11.3" fill="#1e1e1e" stroke="#1e1e1e" stroke-width="0.25" textLength="37.6" lengthAdjust="spacingAndGlyphs">Isobaric</text><text x="327.9" y="771.1" font-size="11.3" fill="#1e1e1e" stroke="#1e1e1e" stroke-width="0.25" textLength="55.0" lengthAdjust="spacingAndGlyphs">vapor-liquid</text><text x="385.2" y="771.1" font-size="11.3" fill="#1e1e1e" stroke="#1e1e1e" stroke-width="0.25" textLength="42.6" lengthAdjust="spacingAndGlyphs">equilibria</text><text x="430.1" y="771.1" font-size="11.3" fill="#1e1e1e" stroke="#1e1e1e" stroke-width="0.25" textLength="9.8" lengthAdjust="spacingAndGlyphs">of</text><text x="442.2" y="771.1" font-size="11.3" fill="#1e1e1e" stroke="#1e1e1e" stroke-width="0.25" textLength="67.1" lengthAdjust="spacingAndGlyphs">GVL/2-MeTHF</text><text x="511.6" y="771.1" font-size="11.3" fill="#1e1e1e" stroke="#1e1e1e" stroke-width="0.25" textLength="33.3" lengthAdjust="spacingAndGlyphs">mixture</text><text x="547.2" y="771.1" font-size="11.3" fill="#1e1e1e" stroke="#1e1e1e" stroke-width="0.25" textLength="77.1" lengthAdjust="spacingAndGlyphs">at <tspan font-style="italic">p</tspan> = 101.3 and</text><text x="626.6" y="771.1" font-size="11.3" fill="#1e1e1e" stroke="#1e1e1e" stroke-width="0.25" textLength="19.8" lengthAdjust="spacingAndGlyphs">50.7</text><text x="648.7" y="771.1" font-size="11.3" fill="#1e1e1e" stroke="#1e1e1e" stroke-width="0.25" textLength="17.6" lengthAdjust="spacingAndGlyphs">kPa</text><text x="668.6" y="771.1" font-size="11.3" fill="#1e1e1e" stroke="#1e1e1e" stroke-width="0.25" textLength="22.9" lengthAdjust="spacingAndGlyphs">(<tspan font-style="italic">43</tspan>).</text><text x="693.8" y="771.1" font-size="11.3" fill="#1e1e1e" stroke="#1e1e1e" stroke-width="0.25" textLength="17.5" lengthAdjust="spacingAndGlyphs">The</text><text x="713.6" y="771.1" font-size="11.3" fill="#1e1e1e" stroke="#1e1e1e" stroke-width="0.25" textLength="15.2" lengthAdjust="spacingAndGlyphs">red</text><text x="731.1" y="771.1" font-size="11.3" fill="#1e1e1e" stroke="#1e1e1e" stroke-width="0.25" textLength="33.3" lengthAdjust="spacingAndGlyphs">dashed</text><text x="766.7" y="771.1" font-size="11.3" fill="#1e1e1e" stroke="#1e1e1e" stroke-width="0.25" textLength="17.3" lengthAdjust="spacingAndGlyphs">line</text><text x="786.3" y="771.1" font-size="11.3" fill="#1e1e1e" stroke="#1e1e1e" stroke-width="0.25" textLength="50.4" lengthAdjust="spacingAndGlyphs">represents</text><text x="7.2" y="787.8" font-size="11.3" fill="#1e1e1e" stroke="#1e1e1e" stroke-width="0.25" textLength="15.7" lengthAdjust="spacingAndGlyphs">the</text><text x="25.2" y="787.8" font-size="11.3" fill="#1e1e1e" stroke="#1e1e1e" stroke-width="0.25" textLength="48.3" lengthAdjust="spacingAndGlyphs">optimized</text><text x="75.8" y="787.8" font-size="11.3" fill="#1e1e1e" stroke="#1e1e1e" stroke-width="0.25" textLength="27.5" lengthAdjust="spacingAndGlyphs">molar</text><text x="105.6" y="787.8" font-size="11.3" fill="#1e1e1e" stroke="#1e1e1e" stroke-width="0.25" textLength="35.2" lengthAdjust="spacingAndGlyphs">ratio of</text><text x="143.1" y="787.8" font-size="11.3" fill="#1e1e1e" stroke="#1e1e1e" stroke-width="0.25" textLength="44.0" lengthAdjust="spacingAndGlyphs">2-MeTHF</text><text x="189.4" y="787.8" font-size="11.3" fill="#1e1e1e" stroke="#1e1e1e" stroke-width="0.25" textLength="46.5" lengthAdjust="spacingAndGlyphs">(~0.545).</text><text x="238.2" y="787.8" font-size="11.3" fill="#1e1e1e" stroke="#1e1e1e" stroke-width="0.25" textLength="15.5" lengthAdjust="spacingAndGlyphs">BP,</text><text x="256.0" y="787.8" font-size="11.3" fill="#1e1e1e" stroke="#1e1e1e" stroke-width="0.25" textLength="32.5" lengthAdjust="spacingAndGlyphs">boiling</text><text x="290.8" y="787.8" font-size="11.3" fill="#1e1e1e" stroke="#1e1e1e" stroke-width="0.25" textLength="27.6" lengthAdjust="spacingAndGlyphs">point.</text><text x="320.7" y="787.8" font-size="11.3" fill="#1e1e1e" stroke="#1e1e1e" stroke-width="0.25" textLength="10.6" lengthAdjust="spacingAndGlyphs">(<tspan font-weight="bold">E</tspan></text><text x="333.6" y="787.8" font-size="11.3" fill="#1e1e1e" stroke="#1e1e1e" stroke-width="0.25" textLength="19.7" lengthAdjust="spacingAndGlyphs">and</text><text x="355.6" y="787.8" font-size="11.3" fill="#1e1e1e" stroke="#1e1e1e" stroke-width="0.25" textLength="10.2" lengthAdjust="spacingAndGlyphs"><tspan font-weight="bold">F</tspan>)</text><text x="368.1" y="787.8" font-size="11.3" fill="#1e1e1e" stroke="#1e1e1e" stroke-width="0.25" textLength="22.7" lengthAdjust="spacingAndGlyphs">FTIR</text><text x="393.1" y="787.8" font-size="11.3" fill="#1e1e1e" stroke="#1e1e1e" stroke-width="0.25" textLength="36.1" lengthAdjust="spacingAndGlyphs">spectra</text><text x="431.5" y="787.8" font-size="11.3" fill="#1e1e1e" stroke="#1e1e1e" stroke-width="0.25" textLength="14.8" lengthAdjust="spacingAndGlyphs">(E)</text><text x="448.6" y="787.8" font-size="11.3" fill="#1e1e1e" stroke="#1e1e1e" stroke-width="0.25" textLength="17.0" lengthAdjust="spacingAndGlyphs">and</text><text x="467.9" y="787.8" font-size="11.3" fill="#1e1e1e" stroke="#1e1e1e" stroke-width="0.25" textLength="39.3" lengthAdjust="spacingAndGlyphs"><tspan font-size="8" dy="-3.5">1</tspan><tspan dy="3.5">H-NMR</tspan></text><text x="509.5" y="787.8" font-size="11.3" fill="#1e1e1e" stroke="#1e1e1e" stroke-width="0.25" textLength="36.1" lengthAdjust="spacingAndGlyphs">spectra</text><text x="547.9" y="787.8" font-size="11.3" fill="#1e1e1e" stroke="#1e1e1e" stroke-width="0.25" textLength="14.8" lengthAdjust="spacingAndGlyphs">(F)</text><text x="565.0" y="787.8" font-size="11.3" fill="#1e1e1e" stroke="#1e1e1e" stroke-width="0.25" textLength="9.1" lengthAdjust="spacingAndGlyphs">of</text><text x="576.4" y="787.8" font-size="11.3" fill="#1e1e1e" stroke="#1e1e1e" stroke-width="0.25" textLength="52.2" lengthAdjust="spacingAndGlyphs">perovskite</text><text x="630.9" y="787.8" font-size="11.3" fill="#1e1e1e" stroke="#1e1e1e" stroke-width="0.25" textLength="46.1" lengthAdjust="spacingAndGlyphs">dissolved</text><text x="679.3" y="787.8" font-size="11.3" fill="#1e1e1e" stroke="#1e1e1e" stroke-width="0.25" textLength="7.7" lengthAdjust="spacingAndGlyphs">in</text><text x="689.3" y="787.8" font-size="11.3" fill="#1e1e1e" stroke="#1e1e1e" stroke-width="0.25" textLength="23.3" lengthAdjust="spacingAndGlyphs">GVL</text><text x="714.9" y="787.8" font-size="11.3" fill="#1e1e1e" stroke="#1e1e1e" stroke-width="0.25" textLength="16.3" lengthAdjust="spacingAndGlyphs">and</text><text x="733.5" y="787.8" font-size="11.3" fill="#1e1e1e" stroke="#1e1e1e" stroke-width="0.25" textLength="70.8" lengthAdjust="spacingAndGlyphs">GVL/2-MeTHF.</text><text x="7.2" y="804.6" font-size="11.3" fill="#1e1e1e" stroke="#1e1e1e" stroke-width="0.25" textLength="15.0" lengthAdjust="spacingAndGlyphs">(<tspan font-weight="bold">G</tspan>)</text><text x="24.5" y="804.6" font-size="11.3" fill="#1e1e1e" stroke="#1e1e1e" stroke-width="0.25" textLength="50.4" lengthAdjust="spacingAndGlyphs">Schematic</text><text x="77.2" y="804.6" font-size="11.3" fill="#1e1e1e" stroke="#1e1e1e" stroke-width="0.25" textLength="40.8" lengthAdjust="spacingAndGlyphs">showing</text><text x="120.3" y="804.6" font-size="11.3" fill="#1e1e1e" stroke="#1e1e1e" stroke-width="0.25" textLength="59.6" lengthAdjust="spacingAndGlyphs">coordination</text><text x="182.2" y="804.6" font-size="11.3" fill="#1e1e1e" stroke="#1e1e1e" stroke-width="0.25" textLength="9.8" lengthAdjust="spacingAndGlyphs">of</text><text x="194.3" y="804.6" font-size="11.3" fill="#1e1e1e" stroke="#1e1e1e" stroke-width="0.25" textLength="19.8" lengthAdjust="spacingAndGlyphs">GVL</text><text x="216.4" y="804.6" font-size="11.3" fill="#1e1e1e" stroke="#1e1e1e" stroke-width="0.25" textLength="16.9" lengthAdjust="spacingAndGlyphs">and</text><text x="235.6" y="804.6" font-size="11.3" fill="#1e1e1e" stroke="#1e1e1e" stroke-width="0.25" textLength="43.7" lengthAdjust="spacingAndGlyphs">2-MeTHF</text><text x="281.6" y="804.6" font-size="11.3" fill="#1e1e1e" stroke="#1e1e1e" stroke-width="0.25" textLength="8.4" lengthAdjust="spacingAndGlyphs">to</text><text x="292.3" y="804.6" font-size="11.3" fill="#1e1e1e" stroke="#1e1e1e" stroke-width="0.25" textLength="53.0" lengthAdjust="spacingAndGlyphs">perovskite.</text>
</svg>
</body></html>
